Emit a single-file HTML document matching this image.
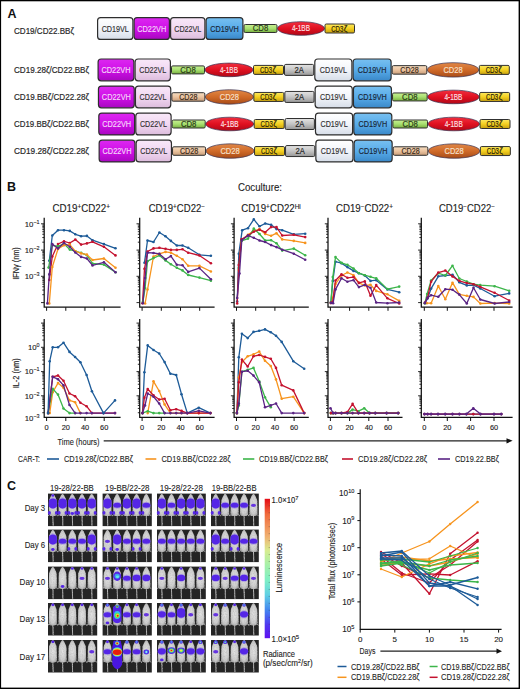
<!DOCTYPE html>
<html><head><meta charset="utf-8"><style>
html,body{margin:0;padding:0;background:#fff;}
body{width:520px;height:689px;overflow:hidden;}
svg{display:block;font-family:"Liberation Sans", sans-serif;}
</style></head><body>
<svg width="520" height="689" viewBox="0 0 520 689">
<defs><linearGradient id="gVL" x1="0" y1="0" x2="0" y2="1"><stop offset="0" stop-color="#ffffff"/><stop offset="0.5" stop-color="#f2f5fa"/><stop offset="1" stop-color="#d6dde8"/></linearGradient><linearGradient id="gVH22" x1="0" y1="0" x2="0" y2="1"><stop offset="0" stop-color="#dc28f0"/><stop offset="0.5" stop-color="#d010e8"/><stop offset="1" stop-color="#a808c0"/></linearGradient><linearGradient id="gVL22" x1="0" y1="0" x2="0" y2="1"><stop offset="0" stop-color="#f8e8f8"/><stop offset="0.5" stop-color="#f2d8f2"/><stop offset="1" stop-color="#dcbcdc"/></linearGradient><linearGradient id="gVH19" x1="0" y1="0" x2="0" y2="1"><stop offset="0" stop-color="#78c0f0"/><stop offset="0.5" stop-color="#58acea"/><stop offset="1" stop-color="#3a88c8"/></linearGradient><linearGradient id="gCD8" x1="0" y1="0" x2="0" y2="1"><stop offset="0" stop-color="#c8f094"/><stop offset="0.5" stop-color="#a8e070"/><stop offset="1" stop-color="#78b040"/></linearGradient><linearGradient id="gBB" x1="0" y1="0" x2="0" y2="1"><stop offset="0" stop-color="#f03040"/><stop offset="0.5" stop-color="#e01020"/><stop offset="1" stop-color="#b00818"/></linearGradient><linearGradient id="gZ" x1="0" y1="0" x2="0" y2="1"><stop offset="0" stop-color="#fce860"/><stop offset="0.5" stop-color="#f4d020"/><stop offset="1" stop-color="#c8a010"/></linearGradient><linearGradient id="g2A" x1="0" y1="0" x2="0" y2="1"><stop offset="0" stop-color="#e4e4e4"/><stop offset="0.5" stop-color="#c4c4c4"/><stop offset="1" stop-color="#969696"/></linearGradient><linearGradient id="gC28" x1="0" y1="0" x2="0" y2="1"><stop offset="0" stop-color="#f4dcc0"/><stop offset="0.5" stop-color="#ecc4a0"/><stop offset="1" stop-color="#c89c78"/></linearGradient><linearGradient id="gE28" x1="0" y1="0" x2="0" y2="1"><stop offset="0" stop-color="#e08848"/><stop offset="0.5" stop-color="#d06a28"/><stop offset="1" stop-color="#a84c18"/></linearGradient><linearGradient id="gCB" x1="0" y1="0" x2="0" y2="1"><stop offset="0" stop-color="#e40c16"/><stop offset="0.11" stop-color="#f06a3c"/><stop offset="0.27" stop-color="#f0b070"/><stop offset="0.37" stop-color="#d8ec90"/><stop offset="0.47" stop-color="#a8f0a8"/><stop offset="0.58" stop-color="#80f0c4"/><stop offset="0.69" stop-color="#60d0e4"/><stop offset="0.8" stop-color="#4484f0"/><stop offset="0.91" stop-color="#5034f0"/><stop offset="1" stop-color="#6010f0"/></linearGradient><radialGradient id="gM" cx="0.5" cy="0.5" r="0.65"><stop offset="0" stop-color="#e2e2e2"/><stop offset="0.6" stop-color="#cdcdcd"/><stop offset="1" stop-color="#808080"/></radialGradient><filter id="fb" x="-50%" y="-50%" width="200%" height="200%"><feGaussianBlur stdDeviation="0.5"/></filter><filter id="ftx" x="0" y="0" width="100%" height="100%"><feTurbulence type="fractalNoise" baseFrequency="0.9" numOctaves="2" seed="3" result="n"/><feColorMatrix in="n" type="matrix" values="0 0 0 0 0.55  0 0 0 0 0.55  0 0 0 0 0.55  0 0 0 -2.2 1.3" result="g"/><feComposite in="g" in2="SourceGraphic" operator="in" result="gi"/><feMerge><feMergeNode in="SourceGraphic"/><feMergeNode in="gi"/></feMerge><feGaussianBlur stdDeviation="0.4"/></filter><filter id="fb2" x="-50%" y="-50%" width="200%" height="200%"><feGaussianBlur stdDeviation="0.7"/></filter><linearGradient id="gBox" x1="0" y1="0" x2="0" y2="1"><stop offset="0" stop-color="#1c1c1c"/><stop offset="0.7" stop-color="#2e2e2e"/><stop offset="1" stop-color="#262626"/></linearGradient></defs>
<rect x="0" y="0" width="520" height="689" fill="#000"/>
<rect x="1.1" y="1.3" width="517.5" height="686.3" fill="#fff"/>
<text x="7.4" y="17.8" font-size="12" fill="#111" text-anchor="start" font-weight="bold" textLength="9" lengthAdjust="spacingAndGlyphs" >A</text>
<text x="14" y="33.6" font-size="9" fill="#2a2a2a" stroke="#2a2a2a" stroke-width="0.2" text-anchor="start" font-weight="normal" textLength="60" lengthAdjust="spacingAndGlyphs" >CD19/CD22.BBζ</text>
<rect x="97.6" y="17.6" width="35.3" height="21.8" rx="3" fill="url(#gVL)" stroke="#2e2e2e" stroke-width="1.2"/><text x="115.25" y="31.6" font-size="8.6" fill="#333" stroke="#333" stroke-width="0.16" text-anchor="middle" font-weight="normal" textLength="27.2" lengthAdjust="spacingAndGlyphs" >CD19VL</text>
<rect x="134.1" y="17.6" width="35.3" height="21.8" rx="3" fill="url(#gVH22)" stroke="#2e2e2e" stroke-width="1.2"/><text x="151.75" y="31.6" font-size="8.6" fill="#f4d8f8" stroke="#f4d8f8" stroke-width="0.16" text-anchor="middle" font-weight="normal" textLength="29" lengthAdjust="spacingAndGlyphs" >CD22VH</text>
<rect x="170.6" y="17.6" width="34.3" height="21.8" rx="3" fill="url(#gVL22)" stroke="#2e2e2e" stroke-width="1.2"/><text x="187.75" y="31.6" font-size="8.6" fill="#333" stroke="#333" stroke-width="0.16" text-anchor="middle" font-weight="normal" textLength="27" lengthAdjust="spacingAndGlyphs" >CD22VL</text>
<rect x="206.1" y="17.6" width="36.8" height="21.8" rx="3" fill="url(#gVH19)" stroke="#2e2e2e" stroke-width="1.2"/><text x="224.5" y="31.6" font-size="8.6" fill="#1a2636" stroke="#1a2636" stroke-width="0.16" text-anchor="middle" font-weight="normal" textLength="28.7" lengthAdjust="spacingAndGlyphs" >CD19VH</text>
<rect x="244.0" y="24.5" width="33.0" height="8.0" rx="1.3" fill="url(#gCD8)" stroke="#303030" stroke-width="1.0"/><text x="260.5" y="31.4" font-size="8.4" fill="#2a3a18" stroke="#2a3a18" stroke-width="0.16" text-anchor="middle" font-weight="normal" textLength="15.5" lengthAdjust="spacingAndGlyphs" >CD8</text>
<ellipse cx="301.0" cy="28.5" rx="23.5" ry="6.8" fill="url(#gBB)" stroke="#3a3050" stroke-width="0.7"/><text x="301.0" y="31.4" font-size="8.4" fill="#fbe0e4" stroke="#fbe0e4" stroke-width="0.16" text-anchor="middle" font-weight="normal" textLength="18" lengthAdjust="spacingAndGlyphs" >4-1BB</text>
<rect x="325.0" y="24.0" width="29.5" height="9.0" rx="1.3" fill="url(#gZ)" stroke="#303030" stroke-width="1.0"/><text x="331.15" y="31.9" font-size="8.4" fill="#2a2206" stroke="#2a2206" stroke-width="0.16" text-anchor="start" font-weight="normal" textLength="12.2" lengthAdjust="spacingAndGlyphs" >CD3</text><text x="343.75" y="31.9" font-size="8.4" fill="#2a2206" stroke="#2a2206" stroke-width="0.16" text-anchor="start" font-weight="normal" >ζ</text>
<text x="14" y="72.80000000000001" font-size="9" fill="#2a2a2a" stroke="#2a2a2a" stroke-width="0.2" text-anchor="start" font-weight="normal" textLength="75" lengthAdjust="spacingAndGlyphs" >CD19.28ζ/CD22.BBζ</text>
<rect x="98.1" y="59.00000000000001" width="35.8" height="21.8" rx="3" fill="url(#gVH22)" stroke="#2e2e2e" stroke-width="1.2"/><text x="116.0" y="73.0" font-size="8.6" fill="#f4d8f8" stroke="#f4d8f8" stroke-width="0.16" text-anchor="middle" font-weight="normal" textLength="29" lengthAdjust="spacingAndGlyphs" >CD22VH</text>
<rect x="135.1" y="59.00000000000001" width="35.3" height="21.8" rx="3" fill="url(#gVL22)" stroke="#2e2e2e" stroke-width="1.2"/><text x="152.75" y="73.0" font-size="8.6" fill="#333" stroke="#333" stroke-width="0.16" text-anchor="middle" font-weight="normal" textLength="27" lengthAdjust="spacingAndGlyphs" >CD22VL</text>
<rect x="171.5" y="65.9" width="33.0" height="8.0" rx="1.3" fill="url(#gCD8)" stroke="#303030" stroke-width="1.0"/><text x="188.0" y="72.8" font-size="8.4" fill="#2a3a18" stroke="#2a3a18" stroke-width="0.16" text-anchor="middle" font-weight="normal" textLength="15.5" lengthAdjust="spacingAndGlyphs" >CD8</text>
<ellipse cx="229.0" cy="69.9" rx="24.0" ry="6.8" fill="url(#gBB)" stroke="#3a3050" stroke-width="0.7"/><text x="229.0" y="72.8" font-size="8.4" fill="#fbe0e4" stroke="#fbe0e4" stroke-width="0.16" text-anchor="middle" font-weight="normal" textLength="18" lengthAdjust="spacingAndGlyphs" >4-1BB</text>
<rect x="253.5" y="65.4" width="30.0" height="9.0" rx="1.3" fill="url(#gZ)" stroke="#303030" stroke-width="1.0"/><text x="259.9" y="73.3" font-size="8.4" fill="#2a2206" stroke="#2a2206" stroke-width="0.16" text-anchor="start" font-weight="normal" textLength="12.2" lengthAdjust="spacingAndGlyphs" >CD3</text><text x="272.5" y="73.3" font-size="8.4" fill="#2a2206" stroke="#2a2206" stroke-width="0.16" text-anchor="start" font-weight="normal" >ζ</text>
<rect x="284.5" y="64.4" width="29.19999999999999" height="11.0" rx="1.3" fill="url(#g2A)" stroke="#303030" stroke-width="1.0"/><text x="299.1" y="72.8" font-size="8.4" fill="#222" stroke="#222" stroke-width="0.16" text-anchor="middle" font-weight="normal" textLength="9.3" lengthAdjust="spacingAndGlyphs" >2A</text>
<rect x="314.8" y="59.00000000000001" width="37.10000000000001" height="21.8" rx="3" fill="url(#gVL)" stroke="#2e2e2e" stroke-width="1.2"/><text x="333.35" y="73.0" font-size="8.6" fill="#333" stroke="#333" stroke-width="0.16" text-anchor="middle" font-weight="normal" textLength="27.2" lengthAdjust="spacingAndGlyphs" >CD19VL</text>
<rect x="353.1" y="59.00000000000001" width="37.999999999999986" height="21.8" rx="3" fill="url(#gVH19)" stroke="#2e2e2e" stroke-width="1.2"/><text x="372.1" y="73.0" font-size="8.6" fill="#1a2636" stroke="#1a2636" stroke-width="0.16" text-anchor="middle" font-weight="normal" textLength="28.7" lengthAdjust="spacingAndGlyphs" >CD19VH</text>
<rect x="392.2" y="65.65" width="34.60000000000002" height="8.5" rx="1.3" fill="url(#gC28)" stroke="#303030" stroke-width="1.0"/><text x="409.5" y="72.8" font-size="8.4" fill="#3a2a1a" stroke="#3a2a1a" stroke-width="0.16" text-anchor="middle" font-weight="normal" textLength="18.3" lengthAdjust="spacingAndGlyphs" >CD28</text>
<ellipse cx="453.05" cy="69.9" rx="25.75" ry="7.2" fill="url(#gE28)" stroke="#3a3050" stroke-width="0.7"/><text x="453.05" y="72.8" font-size="8.4" fill="#f6e0cc" stroke="#f6e0cc" stroke-width="0.16" text-anchor="middle" font-weight="normal" textLength="19.3" lengthAdjust="spacingAndGlyphs" >CD28</text>
<rect x="479.3" y="65.4" width="30.0" height="9.0" rx="1.3" fill="url(#gZ)" stroke="#303030" stroke-width="1.0"/><text x="485.7" y="73.3" font-size="8.4" fill="#2a2206" stroke="#2a2206" stroke-width="0.16" text-anchor="start" font-weight="normal" textLength="12.2" lengthAdjust="spacingAndGlyphs" >CD3</text><text x="498.3" y="73.3" font-size="8.4" fill="#2a2206" stroke="#2a2206" stroke-width="0.16" text-anchor="start" font-weight="normal" >ζ</text>
<text x="14" y="99.85000000000001" font-size="9" fill="#2a2a2a" stroke="#2a2a2a" stroke-width="0.2" text-anchor="start" font-weight="normal" textLength="75" lengthAdjust="spacingAndGlyphs" >CD19.BBζ/CD22.28ζ</text>
<rect x="98.44999999999999" y="86.05" width="35.8" height="21.8" rx="3" fill="url(#gVH22)" stroke="#2e2e2e" stroke-width="1.2"/><text x="116.35" y="100.05" font-size="8.6" fill="#f4d8f8" stroke="#f4d8f8" stroke-width="0.16" text-anchor="middle" font-weight="normal" textLength="29" lengthAdjust="spacingAndGlyphs" >CD22VH</text>
<rect x="135.45" y="86.05" width="35.3" height="21.8" rx="3" fill="url(#gVL22)" stroke="#2e2e2e" stroke-width="1.2"/><text x="153.1" y="100.05" font-size="8.6" fill="#333" stroke="#333" stroke-width="0.16" text-anchor="middle" font-weight="normal" textLength="27" lengthAdjust="spacingAndGlyphs" >CD22VL</text>
<rect x="171.85" y="92.7" width="33.0" height="8.5" rx="1.3" fill="url(#gC28)" stroke="#303030" stroke-width="1.0"/><text x="188.35" y="99.85" font-size="8.4" fill="#3a2a1a" stroke="#3a2a1a" stroke-width="0.16" text-anchor="middle" font-weight="normal" textLength="18.3" lengthAdjust="spacingAndGlyphs" >CD28</text>
<ellipse cx="229.35" cy="96.95" rx="24.0" ry="7.2" fill="url(#gE28)" stroke="#3a3050" stroke-width="0.7"/><text x="229.35" y="99.85" font-size="8.4" fill="#f6e0cc" stroke="#f6e0cc" stroke-width="0.16" text-anchor="middle" font-weight="normal" textLength="19.3" lengthAdjust="spacingAndGlyphs" >CD28</text>
<rect x="253.85" y="92.45" width="30.00000000000003" height="9.0" rx="1.3" fill="url(#gZ)" stroke="#303030" stroke-width="1.0"/><text x="260.25" y="100.35" font-size="8.4" fill="#2a2206" stroke="#2a2206" stroke-width="0.16" text-anchor="start" font-weight="normal" textLength="12.2" lengthAdjust="spacingAndGlyphs" >CD3</text><text x="272.85" y="100.35" font-size="8.4" fill="#2a2206" stroke="#2a2206" stroke-width="0.16" text-anchor="start" font-weight="normal" >ζ</text>
<rect x="284.85" y="91.45" width="29.19999999999999" height="11.0" rx="1.3" fill="url(#g2A)" stroke="#303030" stroke-width="1.0"/><text x="299.45" y="99.85" font-size="8.4" fill="#222" stroke="#222" stroke-width="0.16" text-anchor="middle" font-weight="normal" textLength="9.3" lengthAdjust="spacingAndGlyphs" >2A</text>
<rect x="315.15000000000003" y="86.05" width="37.10000000000001" height="21.8" rx="3" fill="url(#gVL)" stroke="#2e2e2e" stroke-width="1.2"/><text x="333.7" y="100.05" font-size="8.6" fill="#333" stroke="#333" stroke-width="0.16" text-anchor="middle" font-weight="normal" textLength="27.2" lengthAdjust="spacingAndGlyphs" >CD19VL</text>
<rect x="353.45000000000005" y="86.05" width="37.999999999999986" height="21.8" rx="3" fill="url(#gVH19)" stroke="#2e2e2e" stroke-width="1.2"/><text x="372.45" y="100.05" font-size="8.6" fill="#1a2636" stroke="#1a2636" stroke-width="0.16" text-anchor="middle" font-weight="normal" textLength="28.7" lengthAdjust="spacingAndGlyphs" >CD19VH</text>
<rect x="392.55" y="92.95" width="34.60000000000002" height="8.0" rx="1.3" fill="url(#gCD8)" stroke="#303030" stroke-width="1.0"/><text x="409.85" y="99.85" font-size="8.4" fill="#2a3a18" stroke="#2a3a18" stroke-width="0.16" text-anchor="middle" font-weight="normal" textLength="15.5" lengthAdjust="spacingAndGlyphs" >CD8</text>
<ellipse cx="453.40000000000003" cy="96.95" rx="25.75" ry="6.8" fill="url(#gBB)" stroke="#3a3050" stroke-width="0.7"/><text x="453.4" y="99.85" font-size="8.4" fill="#fbe0e4" stroke="#fbe0e4" stroke-width="0.16" text-anchor="middle" font-weight="normal" textLength="18" lengthAdjust="spacingAndGlyphs" >4-1BB</text>
<rect x="479.65000000000003" y="92.45" width="30.0" height="9.0" rx="1.3" fill="url(#gZ)" stroke="#303030" stroke-width="1.0"/><text x="486.05" y="100.35" font-size="8.4" fill="#2a2206" stroke="#2a2206" stroke-width="0.16" text-anchor="start" font-weight="normal" textLength="12.2" lengthAdjust="spacingAndGlyphs" >CD3</text><text x="498.65" y="100.35" font-size="8.4" fill="#2a2206" stroke="#2a2206" stroke-width="0.16" text-anchor="start" font-weight="normal" >ζ</text>
<text x="14" y="126.9" font-size="9" fill="#2a2a2a" stroke="#2a2a2a" stroke-width="0.2" text-anchor="start" font-weight="normal" textLength="75" lengthAdjust="spacingAndGlyphs" >CD19.BBζ/CD22.BBζ</text>
<rect x="98.8" y="113.1" width="35.79999999999998" height="21.8" rx="3" fill="url(#gVH22)" stroke="#2e2e2e" stroke-width="1.2"/><text x="116.7" y="127.1" font-size="8.6" fill="#f4d8f8" stroke="#f4d8f8" stroke-width="0.16" text-anchor="middle" font-weight="normal" textLength="29" lengthAdjust="spacingAndGlyphs" >CD22VH</text>
<rect x="135.79999999999998" y="113.1" width="35.3" height="21.8" rx="3" fill="url(#gVL22)" stroke="#2e2e2e" stroke-width="1.2"/><text x="153.45" y="127.1" font-size="8.6" fill="#333" stroke="#333" stroke-width="0.16" text-anchor="middle" font-weight="normal" textLength="27" lengthAdjust="spacingAndGlyphs" >CD22VL</text>
<rect x="172.2" y="120.0" width="33.0" height="8.0" rx="1.3" fill="url(#gCD8)" stroke="#303030" stroke-width="1.0"/><text x="188.7" y="126.9" font-size="8.4" fill="#2a3a18" stroke="#2a3a18" stroke-width="0.16" text-anchor="middle" font-weight="normal" textLength="15.5" lengthAdjust="spacingAndGlyphs" >CD8</text>
<ellipse cx="229.7" cy="124.0" rx="24.0" ry="6.8" fill="url(#gBB)" stroke="#3a3050" stroke-width="0.7"/><text x="229.7" y="126.9" font-size="8.4" fill="#fbe0e4" stroke="#fbe0e4" stroke-width="0.16" text-anchor="middle" font-weight="normal" textLength="18" lengthAdjust="spacingAndGlyphs" >4-1BB</text>
<rect x="254.2" y="119.5" width="30.0" height="9.0" rx="1.3" fill="url(#gZ)" stroke="#303030" stroke-width="1.0"/><text x="260.6" y="127.4" font-size="8.4" fill="#2a2206" stroke="#2a2206" stroke-width="0.16" text-anchor="start" font-weight="normal" textLength="12.2" lengthAdjust="spacingAndGlyphs" >CD3</text><text x="273.2" y="127.4" font-size="8.4" fill="#2a2206" stroke="#2a2206" stroke-width="0.16" text-anchor="start" font-weight="normal" >ζ</text>
<rect x="285.2" y="118.5" width="29.19999999999999" height="11.0" rx="1.3" fill="url(#g2A)" stroke="#303030" stroke-width="1.0"/><text x="299.8" y="126.9" font-size="8.4" fill="#222" stroke="#222" stroke-width="0.16" text-anchor="middle" font-weight="normal" textLength="9.3" lengthAdjust="spacingAndGlyphs" >2A</text>
<rect x="315.5" y="113.1" width="37.10000000000001" height="21.8" rx="3" fill="url(#gVL)" stroke="#2e2e2e" stroke-width="1.2"/><text x="334.05" y="127.1" font-size="8.6" fill="#333" stroke="#333" stroke-width="0.16" text-anchor="middle" font-weight="normal" textLength="27.2" lengthAdjust="spacingAndGlyphs" >CD19VL</text>
<rect x="353.8" y="113.1" width="37.999999999999986" height="21.8" rx="3" fill="url(#gVH19)" stroke="#2e2e2e" stroke-width="1.2"/><text x="372.8" y="127.1" font-size="8.6" fill="#1a2636" stroke="#1a2636" stroke-width="0.16" text-anchor="middle" font-weight="normal" textLength="28.7" lengthAdjust="spacingAndGlyphs" >CD19VH</text>
<rect x="392.9" y="120.0" width="34.60000000000002" height="8.0" rx="1.3" fill="url(#gCD8)" stroke="#303030" stroke-width="1.0"/><text x="410.2" y="126.9" font-size="8.4" fill="#2a3a18" stroke="#2a3a18" stroke-width="0.16" text-anchor="middle" font-weight="normal" textLength="15.5" lengthAdjust="spacingAndGlyphs" >CD8</text>
<ellipse cx="453.75" cy="124.0" rx="25.75" ry="6.8" fill="url(#gBB)" stroke="#3a3050" stroke-width="0.7"/><text x="453.75" y="126.9" font-size="8.4" fill="#fbe0e4" stroke="#fbe0e4" stroke-width="0.16" text-anchor="middle" font-weight="normal" textLength="18" lengthAdjust="spacingAndGlyphs" >4-1BB</text>
<rect x="480.0" y="119.5" width="30.0" height="9.0" rx="1.3" fill="url(#gZ)" stroke="#303030" stroke-width="1.0"/><text x="486.4" y="127.4" font-size="8.4" fill="#2a2206" stroke="#2a2206" stroke-width="0.16" text-anchor="start" font-weight="normal" textLength="12.2" lengthAdjust="spacingAndGlyphs" >CD3</text><text x="499.0" y="127.4" font-size="8.4" fill="#2a2206" stroke="#2a2206" stroke-width="0.16" text-anchor="start" font-weight="normal" >ζ</text>
<text x="14" y="153.95000000000002" font-size="9" fill="#2a2a2a" stroke="#2a2a2a" stroke-width="0.2" text-anchor="start" font-weight="normal" textLength="75" lengthAdjust="spacingAndGlyphs" >CD19.28ζ/CD22.28ζ</text>
<rect x="99.14999999999999" y="140.15" width="35.80000000000001" height="21.8" rx="3" fill="url(#gVH22)" stroke="#2e2e2e" stroke-width="1.2"/><text x="117.05" y="154.15" font-size="8.6" fill="#f4d8f8" stroke="#f4d8f8" stroke-width="0.16" text-anchor="middle" font-weight="normal" textLength="29" lengthAdjust="spacingAndGlyphs" >CD22VH</text>
<rect x="136.15" y="140.15" width="35.3" height="21.8" rx="3" fill="url(#gVL22)" stroke="#2e2e2e" stroke-width="1.2"/><text x="153.8" y="154.15" font-size="8.6" fill="#333" stroke="#333" stroke-width="0.16" text-anchor="middle" font-weight="normal" textLength="27" lengthAdjust="spacingAndGlyphs" >CD22VL</text>
<rect x="172.55" y="146.8" width="33.0" height="8.5" rx="1.3" fill="url(#gC28)" stroke="#303030" stroke-width="1.0"/><text x="189.05" y="153.95" font-size="8.4" fill="#3a2a1a" stroke="#3a2a1a" stroke-width="0.16" text-anchor="middle" font-weight="normal" textLength="18.3" lengthAdjust="spacingAndGlyphs" >CD28</text>
<ellipse cx="230.05" cy="151.05" rx="24.0" ry="7.2" fill="url(#gE28)" stroke="#3a3050" stroke-width="0.7"/><text x="230.05" y="153.95" font-size="8.4" fill="#f6e0cc" stroke="#f6e0cc" stroke-width="0.16" text-anchor="middle" font-weight="normal" textLength="19.3" lengthAdjust="spacingAndGlyphs" >CD28</text>
<rect x="254.55" y="146.55" width="30.0" height="9.0" rx="1.3" fill="url(#gZ)" stroke="#303030" stroke-width="1.0"/><text x="260.95" y="154.45" font-size="8.4" fill="#2a2206" stroke="#2a2206" stroke-width="0.16" text-anchor="start" font-weight="normal" textLength="12.2" lengthAdjust="spacingAndGlyphs" >CD3</text><text x="273.55" y="154.45" font-size="8.4" fill="#2a2206" stroke="#2a2206" stroke-width="0.16" text-anchor="start" font-weight="normal" >ζ</text>
<rect x="285.55" y="145.55" width="29.19999999999999" height="11.0" rx="1.3" fill="url(#g2A)" stroke="#303030" stroke-width="1.0"/><text x="300.15" y="153.95" font-size="8.4" fill="#222" stroke="#222" stroke-width="0.16" text-anchor="middle" font-weight="normal" textLength="9.3" lengthAdjust="spacingAndGlyphs" >2A</text>
<rect x="315.85" y="140.15" width="37.10000000000001" height="21.8" rx="3" fill="url(#gVL)" stroke="#2e2e2e" stroke-width="1.2"/><text x="334.4" y="154.15" font-size="8.6" fill="#333" stroke="#333" stroke-width="0.16" text-anchor="middle" font-weight="normal" textLength="27.2" lengthAdjust="spacingAndGlyphs" >CD19VL</text>
<rect x="354.15000000000003" y="140.15" width="37.999999999999986" height="21.8" rx="3" fill="url(#gVH19)" stroke="#2e2e2e" stroke-width="1.2"/><text x="373.15" y="154.15" font-size="8.6" fill="#1a2636" stroke="#1a2636" stroke-width="0.16" text-anchor="middle" font-weight="normal" textLength="28.7" lengthAdjust="spacingAndGlyphs" >CD19VH</text>
<rect x="393.25" y="146.8" width="34.60000000000002" height="8.5" rx="1.3" fill="url(#gC28)" stroke="#303030" stroke-width="1.0"/><text x="410.55" y="153.95" font-size="8.4" fill="#3a2a1a" stroke="#3a2a1a" stroke-width="0.16" text-anchor="middle" font-weight="normal" textLength="18.3" lengthAdjust="spacingAndGlyphs" >CD28</text>
<ellipse cx="454.1" cy="151.05" rx="25.75" ry="7.2" fill="url(#gE28)" stroke="#3a3050" stroke-width="0.7"/><text x="454.1" y="153.95" font-size="8.4" fill="#f6e0cc" stroke="#f6e0cc" stroke-width="0.16" text-anchor="middle" font-weight="normal" textLength="19.3" lengthAdjust="spacingAndGlyphs" >CD28</text>
<rect x="480.35" y="146.55" width="30.0" height="9.0" rx="1.3" fill="url(#gZ)" stroke="#303030" stroke-width="1.0"/><text x="486.75" y="154.45" font-size="8.4" fill="#2a2206" stroke="#2a2206" stroke-width="0.16" text-anchor="start" font-weight="normal" textLength="12.2" lengthAdjust="spacingAndGlyphs" >CD3</text><text x="499.35" y="154.45" font-size="8.4" fill="#2a2206" stroke="#2a2206" stroke-width="0.16" text-anchor="start" font-weight="normal" >ζ</text>
<text x="7" y="190.8" font-size="12.5" fill="#111" text-anchor="start" font-weight="bold" >B</text>
<text x="238" y="191.2" font-size="10" fill="#222" stroke="#222" stroke-width="0.1" text-anchor="start" font-weight="normal" textLength="44" lengthAdjust="spacingAndGlyphs" >Coculture:</text>
<text x="52.5" y="211.6" font-size="10.2" fill="#222" stroke="#222" stroke-width="0.12" textLength="57.5" lengthAdjust="spacingAndGlyphs"><tspan font-size="10.2">CD19</tspan><tspan font-size="6.8" dy="-3.1">+</tspan><tspan font-size="10.2" dy="3.1">CD22</tspan><tspan font-size="6.8" dy="-3.1">+</tspan></text>
<text x="148.7" y="211.6" font-size="10.2" fill="#222" stroke="#222" stroke-width="0.12" textLength="56.3" lengthAdjust="spacingAndGlyphs"><tspan font-size="10.2">CD19</tspan><tspan font-size="6.8" dy="-3.1">+</tspan><tspan font-size="10.2" dy="3.1">CD22</tspan><tspan font-size="6.8" dy="-3.1">−</tspan></text>
<text x="241.3" y="211.6" font-size="10.2" fill="#222" stroke="#222" stroke-width="0.12" textLength="59.5" lengthAdjust="spacingAndGlyphs"><tspan font-size="10.2">CD19</tspan><tspan font-size="6.8" dy="-3.1">+</tspan><tspan font-size="10.2" dy="3.1">CD22</tspan><tspan font-size="6.8" dy="-3.1">Hi</tspan></text>
<text x="336" y="211.6" font-size="10.2" fill="#222" stroke="#222" stroke-width="0.12" textLength="57" lengthAdjust="spacingAndGlyphs"><tspan font-size="10.2">CD19</tspan><tspan font-size="6.8" dy="-3.1">−</tspan><tspan font-size="10.2" dy="3.1">CD22</tspan><tspan font-size="6.8" dy="-3.1">+</tspan></text>
<text x="439" y="211.6" font-size="10.2" fill="#222" stroke="#222" stroke-width="0.12" textLength="56" lengthAdjust="spacingAndGlyphs"><tspan font-size="10.2">CD19</tspan><tspan font-size="6.8" dy="-3.1">−</tspan><tspan font-size="10.2" dy="3.1">CD22</tspan><tspan font-size="6.8" dy="-3.1">−</tspan></text>
<path d="M44.2 217.8 V307.2 H120.6" fill="none" stroke="#111" stroke-width="1.25"/><path d="M41.0 223.80 H44.2M41.0 250.10 H44.2M41.0 276.30 H44.2M41.0 302.60 H44.2M42.300000000000004 242.18 H44.2M42.300000000000004 237.55 H44.2M42.300000000000004 234.27 H44.2M42.300000000000004 231.72 H44.2M42.300000000000004 229.63 H44.2M42.300000000000004 227.87 H44.2M42.300000000000004 226.35 H44.2M42.300000000000004 225.00 H44.2M42.300000000000004 268.41 H44.2M42.300000000000004 263.80 H44.2M42.300000000000004 260.53 H44.2M42.300000000000004 257.99 H44.2M42.300000000000004 255.91 H44.2M42.300000000000004 254.16 H44.2M42.300000000000004 252.64 H44.2M42.300000000000004 251.30 H44.2M42.300000000000004 294.68 H44.2M42.300000000000004 290.05 H44.2M42.300000000000004 286.77 H44.2M42.300000000000004 284.22 H44.2M42.300000000000004 282.13 H44.2M42.300000000000004 280.37 H44.2M42.300000000000004 278.85 H44.2M42.300000000000004 277.50 H44.2" stroke="#111" stroke-width="0.9"/><path d="M46.60 307.2 V310.8M65.80 307.2 V310.8M85.00 307.2 V310.8M104.20 307.2 V310.8" stroke="#111" stroke-width="1"/>
<path d="M44.2 319.0 V417.4 H120.6" fill="none" stroke="#111" stroke-width="1.25"/><path d="M41.0 323.10 H44.2M41.0 347.30 H44.2M41.0 371.60 H44.2M41.0 395.80 H44.2M42.300000000000004 340.02 H44.2M42.300000000000004 335.75 H44.2M42.300000000000004 332.73 H44.2M42.300000000000004 330.38 H44.2M42.300000000000004 328.47 H44.2M42.300000000000004 326.85 H44.2M42.300000000000004 325.45 H44.2M42.300000000000004 324.21 H44.2M42.300000000000004 364.28 H44.2M42.300000000000004 360.01 H44.2M42.300000000000004 356.97 H44.2M42.300000000000004 354.62 H44.2M42.300000000000004 352.69 H44.2M42.300000000000004 351.06 H44.2M42.300000000000004 349.65 H44.2M42.300000000000004 348.41 H44.2M42.300000000000004 388.52 H44.2M42.300000000000004 384.25 H44.2M42.300000000000004 381.23 H44.2M42.300000000000004 378.88 H44.2M42.300000000000004 376.97 H44.2M42.300000000000004 375.35 H44.2M42.300000000000004 373.95 H44.2M42.300000000000004 372.71 H44.2M42.300000000000004 412.72 H44.2M42.300000000000004 408.45 H44.2M42.300000000000004 405.43 H44.2M42.300000000000004 403.08 H44.2M42.300000000000004 401.17 H44.2M42.300000000000004 399.55 H44.2M42.300000000000004 398.15 H44.2M42.300000000000004 396.91 H44.2" stroke="#111" stroke-width="0.9"/><path d="M46.60 417.4 V421.0M65.80 417.4 V421.0M85.00 417.4 V421.0M104.20 417.4 V421.0" stroke="#111" stroke-width="1"/>
<path d="M139.7 217.8 V307.2 H214.6" fill="none" stroke="#111" stroke-width="1.25"/><path d="M136.5 223.80 H139.7M136.5 250.10 H139.7M136.5 276.30 H139.7M136.5 302.60 H139.7M137.79999999999998 242.18 H139.7M137.79999999999998 237.55 H139.7M137.79999999999998 234.27 H139.7M137.79999999999998 231.72 H139.7M137.79999999999998 229.63 H139.7M137.79999999999998 227.87 H139.7M137.79999999999998 226.35 H139.7M137.79999999999998 225.00 H139.7M137.79999999999998 268.41 H139.7M137.79999999999998 263.80 H139.7M137.79999999999998 260.53 H139.7M137.79999999999998 257.99 H139.7M137.79999999999998 255.91 H139.7M137.79999999999998 254.16 H139.7M137.79999999999998 252.64 H139.7M137.79999999999998 251.30 H139.7M137.79999999999998 294.68 H139.7M137.79999999999998 290.05 H139.7M137.79999999999998 286.77 H139.7M137.79999999999998 284.22 H139.7M137.79999999999998 282.13 H139.7M137.79999999999998 280.37 H139.7M137.79999999999998 278.85 H139.7M137.79999999999998 277.50 H139.7" stroke="#111" stroke-width="0.9"/><path d="M142.10 307.2 V310.8M161.30 307.2 V310.8M180.50 307.2 V310.8M199.70 307.2 V310.8" stroke="#111" stroke-width="1"/>
<path d="M139.7 319.0 V417.4 H214.6" fill="none" stroke="#111" stroke-width="1.25"/><path d="M136.5 323.10 H139.7M136.5 347.30 H139.7M136.5 371.60 H139.7M136.5 395.80 H139.7M137.79999999999998 340.02 H139.7M137.79999999999998 335.75 H139.7M137.79999999999998 332.73 H139.7M137.79999999999998 330.38 H139.7M137.79999999999998 328.47 H139.7M137.79999999999998 326.85 H139.7M137.79999999999998 325.45 H139.7M137.79999999999998 324.21 H139.7M137.79999999999998 364.28 H139.7M137.79999999999998 360.01 H139.7M137.79999999999998 356.97 H139.7M137.79999999999998 354.62 H139.7M137.79999999999998 352.69 H139.7M137.79999999999998 351.06 H139.7M137.79999999999998 349.65 H139.7M137.79999999999998 348.41 H139.7M137.79999999999998 388.52 H139.7M137.79999999999998 384.25 H139.7M137.79999999999998 381.23 H139.7M137.79999999999998 378.88 H139.7M137.79999999999998 376.97 H139.7M137.79999999999998 375.35 H139.7M137.79999999999998 373.95 H139.7M137.79999999999998 372.71 H139.7M137.79999999999998 412.72 H139.7M137.79999999999998 408.45 H139.7M137.79999999999998 405.43 H139.7M137.79999999999998 403.08 H139.7M137.79999999999998 401.17 H139.7M137.79999999999998 399.55 H139.7M137.79999999999998 398.15 H139.7M137.79999999999998 396.91 H139.7" stroke="#111" stroke-width="0.9"/><path d="M142.10 417.4 V421.0M161.30 417.4 V421.0M180.50 417.4 V421.0M199.70 417.4 V421.0" stroke="#111" stroke-width="1"/>
<path d="M234.1 217.8 V307.2 H308.8" fill="none" stroke="#111" stroke-width="1.25"/><path d="M230.9 223.80 H234.1M230.9 250.10 H234.1M230.9 276.30 H234.1M230.9 302.60 H234.1M232.2 242.18 H234.1M232.2 237.55 H234.1M232.2 234.27 H234.1M232.2 231.72 H234.1M232.2 229.63 H234.1M232.2 227.87 H234.1M232.2 226.35 H234.1M232.2 225.00 H234.1M232.2 268.41 H234.1M232.2 263.80 H234.1M232.2 260.53 H234.1M232.2 257.99 H234.1M232.2 255.91 H234.1M232.2 254.16 H234.1M232.2 252.64 H234.1M232.2 251.30 H234.1M232.2 294.68 H234.1M232.2 290.05 H234.1M232.2 286.77 H234.1M232.2 284.22 H234.1M232.2 282.13 H234.1M232.2 280.37 H234.1M232.2 278.85 H234.1M232.2 277.50 H234.1" stroke="#111" stroke-width="0.9"/><path d="M236.50 307.2 V310.8M255.70 307.2 V310.8M274.90 307.2 V310.8M294.10 307.2 V310.8" stroke="#111" stroke-width="1"/>
<path d="M234.1 319.0 V417.4 H308.8" fill="none" stroke="#111" stroke-width="1.25"/><path d="M230.9 323.10 H234.1M230.9 347.30 H234.1M230.9 371.60 H234.1M230.9 395.80 H234.1M232.2 340.02 H234.1M232.2 335.75 H234.1M232.2 332.73 H234.1M232.2 330.38 H234.1M232.2 328.47 H234.1M232.2 326.85 H234.1M232.2 325.45 H234.1M232.2 324.21 H234.1M232.2 364.28 H234.1M232.2 360.01 H234.1M232.2 356.97 H234.1M232.2 354.62 H234.1M232.2 352.69 H234.1M232.2 351.06 H234.1M232.2 349.65 H234.1M232.2 348.41 H234.1M232.2 388.52 H234.1M232.2 384.25 H234.1M232.2 381.23 H234.1M232.2 378.88 H234.1M232.2 376.97 H234.1M232.2 375.35 H234.1M232.2 373.95 H234.1M232.2 372.71 H234.1M232.2 412.72 H234.1M232.2 408.45 H234.1M232.2 405.43 H234.1M232.2 403.08 H234.1M232.2 401.17 H234.1M232.2 399.55 H234.1M232.2 398.15 H234.1M232.2 396.91 H234.1" stroke="#111" stroke-width="0.9"/><path d="M236.50 417.4 V421.0M255.70 417.4 V421.0M274.90 417.4 V421.0M294.10 417.4 V421.0" stroke="#111" stroke-width="1"/>
<path d="M328.0 217.8 V307.2 H402.5" fill="none" stroke="#111" stroke-width="1.25"/><path d="M324.8 223.80 H328.0M324.8 250.10 H328.0M324.8 276.30 H328.0M324.8 302.60 H328.0M326.1 242.18 H328.0M326.1 237.55 H328.0M326.1 234.27 H328.0M326.1 231.72 H328.0M326.1 229.63 H328.0M326.1 227.87 H328.0M326.1 226.35 H328.0M326.1 225.00 H328.0M326.1 268.41 H328.0M326.1 263.80 H328.0M326.1 260.53 H328.0M326.1 257.99 H328.0M326.1 255.91 H328.0M326.1 254.16 H328.0M326.1 252.64 H328.0M326.1 251.30 H328.0M326.1 294.68 H328.0M326.1 290.05 H328.0M326.1 286.77 H328.0M326.1 284.22 H328.0M326.1 282.13 H328.0M326.1 280.37 H328.0M326.1 278.85 H328.0M326.1 277.50 H328.0" stroke="#111" stroke-width="0.9"/><path d="M330.40 307.2 V310.8M349.60 307.2 V310.8M368.80 307.2 V310.8M388.00 307.2 V310.8" stroke="#111" stroke-width="1"/>
<path d="M328.0 319.0 V417.4 H402.5" fill="none" stroke="#111" stroke-width="1.25"/><path d="M324.8 323.10 H328.0M324.8 347.30 H328.0M324.8 371.60 H328.0M324.8 395.80 H328.0M326.1 340.02 H328.0M326.1 335.75 H328.0M326.1 332.73 H328.0M326.1 330.38 H328.0M326.1 328.47 H328.0M326.1 326.85 H328.0M326.1 325.45 H328.0M326.1 324.21 H328.0M326.1 364.28 H328.0M326.1 360.01 H328.0M326.1 356.97 H328.0M326.1 354.62 H328.0M326.1 352.69 H328.0M326.1 351.06 H328.0M326.1 349.65 H328.0M326.1 348.41 H328.0M326.1 388.52 H328.0M326.1 384.25 H328.0M326.1 381.23 H328.0M326.1 378.88 H328.0M326.1 376.97 H328.0M326.1 375.35 H328.0M326.1 373.95 H328.0M326.1 372.71 H328.0M326.1 412.72 H328.0M326.1 408.45 H328.0M326.1 405.43 H328.0M326.1 403.08 H328.0M326.1 401.17 H328.0M326.1 399.55 H328.0M326.1 398.15 H328.0M326.1 396.91 H328.0" stroke="#111" stroke-width="0.9"/><path d="M330.40 417.4 V421.0M349.60 417.4 V421.0M368.80 417.4 V421.0M388.00 417.4 V421.0" stroke="#111" stroke-width="1"/>
<path d="M421.3 217.8 V307.2 H512.6" fill="none" stroke="#111" stroke-width="1.25"/><path d="M418.1 223.80 H421.3M418.1 250.10 H421.3M418.1 276.30 H421.3M418.1 302.60 H421.3M419.40000000000003 242.18 H421.3M419.40000000000003 237.55 H421.3M419.40000000000003 234.27 H421.3M419.40000000000003 231.72 H421.3M419.40000000000003 229.63 H421.3M419.40000000000003 227.87 H421.3M419.40000000000003 226.35 H421.3M419.40000000000003 225.00 H421.3M419.40000000000003 268.41 H421.3M419.40000000000003 263.80 H421.3M419.40000000000003 260.53 H421.3M419.40000000000003 257.99 H421.3M419.40000000000003 255.91 H421.3M419.40000000000003 254.16 H421.3M419.40000000000003 252.64 H421.3M419.40000000000003 251.30 H421.3M419.40000000000003 294.68 H421.3M419.40000000000003 290.05 H421.3M419.40000000000003 286.77 H421.3M419.40000000000003 284.22 H421.3M419.40000000000003 282.13 H421.3M419.40000000000003 280.37 H421.3M419.40000000000003 278.85 H421.3M419.40000000000003 277.50 H421.3" stroke="#111" stroke-width="0.9"/><path d="M424.30 307.2 V310.8M447.30 307.2 V310.8M470.60 307.2 V310.8M494.00 307.2 V310.8" stroke="#111" stroke-width="1"/>
<path d="M421.3 319.0 V417.4 H512.6" fill="none" stroke="#111" stroke-width="1.25"/><path d="M418.1 323.10 H421.3M418.1 347.30 H421.3M418.1 371.60 H421.3M418.1 395.80 H421.3M419.40000000000003 340.02 H421.3M419.40000000000003 335.75 H421.3M419.40000000000003 332.73 H421.3M419.40000000000003 330.38 H421.3M419.40000000000003 328.47 H421.3M419.40000000000003 326.85 H421.3M419.40000000000003 325.45 H421.3M419.40000000000003 324.21 H421.3M419.40000000000003 364.28 H421.3M419.40000000000003 360.01 H421.3M419.40000000000003 356.97 H421.3M419.40000000000003 354.62 H421.3M419.40000000000003 352.69 H421.3M419.40000000000003 351.06 H421.3M419.40000000000003 349.65 H421.3M419.40000000000003 348.41 H421.3M419.40000000000003 388.52 H421.3M419.40000000000003 384.25 H421.3M419.40000000000003 381.23 H421.3M419.40000000000003 378.88 H421.3M419.40000000000003 376.97 H421.3M419.40000000000003 375.35 H421.3M419.40000000000003 373.95 H421.3M419.40000000000003 372.71 H421.3M419.40000000000003 412.72 H421.3M419.40000000000003 408.45 H421.3M419.40000000000003 405.43 H421.3M419.40000000000003 403.08 H421.3M419.40000000000003 401.17 H421.3M419.40000000000003 399.55 H421.3M419.40000000000003 398.15 H421.3M419.40000000000003 396.91 H421.3" stroke="#111" stroke-width="0.9"/><path d="M424.30 417.4 V421.0M447.30 417.4 V421.0M470.60 417.4 V421.0M494.00 417.4 V421.0" stroke="#111" stroke-width="1"/>
<text x="39.6" y="226.60" font-size="7.8" fill="#222" stroke="#222" stroke-width="0.12" text-anchor="end">10<tspan font-size="5.4" dy="-3">−1</tspan></text>
<text x="39.6" y="252.90" font-size="7.8" fill="#222" stroke="#222" stroke-width="0.12" text-anchor="end">10<tspan font-size="5.4" dy="-3">−2</tspan></text>
<text x="39.6" y="279.10" font-size="7.8" fill="#222" stroke="#222" stroke-width="0.12" text-anchor="end">10<tspan font-size="5.4" dy="-3">−3</tspan></text>
<text x="39.6" y="350.10" font-size="7.8" fill="#222" stroke="#222" stroke-width="0.12" text-anchor="end">10<tspan font-size="5.4" dy="-3">0</tspan></text>
<text x="39.6" y="374.40" font-size="7.8" fill="#222" stroke="#222" stroke-width="0.12" text-anchor="end">10<tspan font-size="5.4" dy="-3">−1</tspan></text>
<text x="39.6" y="398.60" font-size="7.8" fill="#222" stroke="#222" stroke-width="0.12" text-anchor="end">10<tspan font-size="5.4" dy="-3">−2</tspan></text>
<text x="39.6" y="421.40" font-size="7.8" fill="#222" stroke="#222" stroke-width="0.12" text-anchor="end">10<tspan font-size="5.4" dy="-3">−3</tspan></text>
<text transform="translate(19.3 263.5) rotate(-90)" x="0" y="0" font-size="8.6" fill="#222" stroke="#222" stroke-width="0.12" text-anchor="middle" textLength="32.5" lengthAdjust="spacingAndGlyphs">IFNγ (nm)</text>
<text transform="translate(19.3 373.3) rotate(-90)" x="0" y="0" font-size="8.6" fill="#222" stroke="#222" stroke-width="0.12" text-anchor="middle" textLength="30" lengthAdjust="spacingAndGlyphs">IL-2 (nm)</text>
<text x="46.60" y="429.6" font-size="7.4" fill="#222" stroke="#222" stroke-width="0.12" text-anchor="middle">0</text>
<text x="65.80" y="429.6" font-size="7.4" fill="#222" stroke="#222" stroke-width="0.12" text-anchor="middle">20</text>
<text x="85.00" y="429.6" font-size="7.4" fill="#222" stroke="#222" stroke-width="0.12" text-anchor="middle">40</text>
<text x="104.20" y="429.6" font-size="7.4" fill="#222" stroke="#222" stroke-width="0.12" text-anchor="middle">60</text>
<text x="142.10" y="429.6" font-size="7.4" fill="#222" stroke="#222" stroke-width="0.12" text-anchor="middle">0</text>
<text x="161.30" y="429.6" font-size="7.4" fill="#222" stroke="#222" stroke-width="0.12" text-anchor="middle">20</text>
<text x="180.50" y="429.6" font-size="7.4" fill="#222" stroke="#222" stroke-width="0.12" text-anchor="middle">40</text>
<text x="199.70" y="429.6" font-size="7.4" fill="#222" stroke="#222" stroke-width="0.12" text-anchor="middle">60</text>
<text x="236.50" y="429.6" font-size="7.4" fill="#222" stroke="#222" stroke-width="0.12" text-anchor="middle">0</text>
<text x="255.70" y="429.6" font-size="7.4" fill="#222" stroke="#222" stroke-width="0.12" text-anchor="middle">20</text>
<text x="274.90" y="429.6" font-size="7.4" fill="#222" stroke="#222" stroke-width="0.12" text-anchor="middle">40</text>
<text x="294.10" y="429.6" font-size="7.4" fill="#222" stroke="#222" stroke-width="0.12" text-anchor="middle">60</text>
<text x="330.40" y="429.6" font-size="7.4" fill="#222" stroke="#222" stroke-width="0.12" text-anchor="middle">0</text>
<text x="349.60" y="429.6" font-size="7.4" fill="#222" stroke="#222" stroke-width="0.12" text-anchor="middle">20</text>
<text x="368.80" y="429.6" font-size="7.4" fill="#222" stroke="#222" stroke-width="0.12" text-anchor="middle">40</text>
<text x="388.00" y="429.6" font-size="7.4" fill="#222" stroke="#222" stroke-width="0.12" text-anchor="middle">60</text>
<text x="424.30" y="429.6" font-size="7.4" fill="#222" stroke="#222" stroke-width="0.12" text-anchor="middle">0</text>
<text x="447.30" y="429.6" font-size="7.4" fill="#222" stroke="#222" stroke-width="0.12" text-anchor="middle">20</text>
<text x="470.60" y="429.6" font-size="7.4" fill="#222" stroke="#222" stroke-width="0.12" text-anchor="middle">40</text>
<text x="494.00" y="429.6" font-size="7.4" fill="#222" stroke="#222" stroke-width="0.12" text-anchor="middle">60</text>
<path d="M49.3 260.8 L52.3 235.5 L58.0 230.2 L64.0 230.2 L69.8 230.9 L75.3 234.3 L81.1 236.2 L86.9 235.9 L92.5 240.2 L103.9 244.1 L115.5 248.3" fill="none" stroke="#1d5b98" stroke-width="1.3" stroke-linejoin="round"/><circle cx="49.3" cy="260.8" r="1.3" fill="#1d5b98"/><circle cx="52.3" cy="235.5" r="1.3" fill="#1d5b98"/><circle cx="58.0" cy="230.2" r="1.3" fill="#1d5b98"/><circle cx="64.0" cy="230.2" r="1.3" fill="#1d5b98"/><circle cx="69.8" cy="230.9" r="1.3" fill="#1d5b98"/><circle cx="75.3" cy="234.3" r="1.3" fill="#1d5b98"/><circle cx="81.1" cy="236.2" r="1.3" fill="#1d5b98"/><circle cx="86.9" cy="235.9" r="1.3" fill="#1d5b98"/><circle cx="92.5" cy="240.2" r="1.3" fill="#1d5b98"/><circle cx="103.9" cy="244.1" r="1.3" fill="#1d5b98"/><circle cx="115.5" cy="248.3" r="1.3" fill="#1d5b98"/>
<path d="M49.3 280.0 L52.3 256.5 L58.0 244.0 L64.0 241.3 L69.8 243.0 L75.3 239.6 L81.1 244.6 L86.9 243.4 L92.5 241.8 L103.9 246.8 L115.5 255.4" fill="none" stroke="#c4122f" stroke-width="1.3" stroke-linejoin="round"/><circle cx="49.3" cy="280.0" r="1.3" fill="#c4122f"/><circle cx="52.3" cy="256.5" r="1.3" fill="#c4122f"/><circle cx="58.0" cy="244.0" r="1.3" fill="#c4122f"/><circle cx="64.0" cy="241.3" r="1.3" fill="#c4122f"/><circle cx="69.8" cy="243.0" r="1.3" fill="#c4122f"/><circle cx="75.3" cy="239.6" r="1.3" fill="#c4122f"/><circle cx="81.1" cy="244.6" r="1.3" fill="#c4122f"/><circle cx="86.9" cy="243.4" r="1.3" fill="#c4122f"/><circle cx="92.5" cy="241.8" r="1.3" fill="#c4122f"/><circle cx="103.9" cy="246.8" r="1.3" fill="#c4122f"/><circle cx="115.5" cy="255.4" r="1.3" fill="#c4122f"/>
<path d="M48.6 267.6 L52.3 245.3 L58.0 246.3 L64.0 243.8 L69.8 249.6 L75.3 251.2 L81.1 252.8 L86.9 255.2 L92.5 263.5 L103.9 264.6 L115.5 272.3" fill="none" stroke="#3cb54a" stroke-width="1.3" stroke-linejoin="round"/><circle cx="48.6" cy="267.6" r="1.3" fill="#3cb54a"/><circle cx="52.3" cy="245.3" r="1.3" fill="#3cb54a"/><circle cx="58.0" cy="246.3" r="1.3" fill="#3cb54a"/><circle cx="64.0" cy="243.8" r="1.3" fill="#3cb54a"/><circle cx="69.8" cy="249.6" r="1.3" fill="#3cb54a"/><circle cx="75.3" cy="251.2" r="1.3" fill="#3cb54a"/><circle cx="81.1" cy="252.8" r="1.3" fill="#3cb54a"/><circle cx="86.9" cy="255.2" r="1.3" fill="#3cb54a"/><circle cx="92.5" cy="263.5" r="1.3" fill="#3cb54a"/><circle cx="103.9" cy="264.6" r="1.3" fill="#3cb54a"/><circle cx="115.5" cy="272.3" r="1.3" fill="#3cb54a"/>
<path d="M49.3 303.4 L52.3 267.0 L58.0 249.0 L64.0 245.2 L69.8 244.6 L75.3 251.2 L81.1 253.4 L86.9 254.6 L92.5 260.0 L103.9 258.5 L115.5 267.7" fill="none" stroke="#f7941d" stroke-width="1.3" stroke-linejoin="round"/><circle cx="49.3" cy="303.4" r="1.3" fill="#f7941d"/><circle cx="52.3" cy="267.0" r="1.3" fill="#f7941d"/><circle cx="58.0" cy="249.0" r="1.3" fill="#f7941d"/><circle cx="64.0" cy="245.2" r="1.3" fill="#f7941d"/><circle cx="69.8" cy="244.6" r="1.3" fill="#f7941d"/><circle cx="75.3" cy="251.2" r="1.3" fill="#f7941d"/><circle cx="81.1" cy="253.4" r="1.3" fill="#f7941d"/><circle cx="86.9" cy="254.6" r="1.3" fill="#f7941d"/><circle cx="92.5" cy="260.0" r="1.3" fill="#f7941d"/><circle cx="103.9" cy="258.5" r="1.3" fill="#f7941d"/><circle cx="115.5" cy="267.7" r="1.3" fill="#f7941d"/>
<path d="M47.4 303.4 L49.3 274.4 L52.3 244.0 L58.0 248.4 L64.0 243.0 L69.8 246.8 L75.3 252.5 L81.1 256.9 L86.9 258.5 L92.5 265.4 L103.9 262.3 L115.5 272.3" fill="none" stroke="#5a2484" stroke-width="1.3" stroke-linejoin="round"/><circle cx="47.4" cy="303.4" r="1.3" fill="#5a2484"/><circle cx="49.3" cy="274.4" r="1.3" fill="#5a2484"/><circle cx="52.3" cy="244.0" r="1.3" fill="#5a2484"/><circle cx="58.0" cy="248.4" r="1.3" fill="#5a2484"/><circle cx="64.0" cy="243.0" r="1.3" fill="#5a2484"/><circle cx="69.8" cy="246.8" r="1.3" fill="#5a2484"/><circle cx="75.3" cy="252.5" r="1.3" fill="#5a2484"/><circle cx="81.1" cy="256.9" r="1.3" fill="#5a2484"/><circle cx="86.9" cy="258.5" r="1.3" fill="#5a2484"/><circle cx="92.5" cy="265.4" r="1.3" fill="#5a2484"/><circle cx="103.9" cy="262.3" r="1.3" fill="#5a2484"/><circle cx="115.5" cy="272.3" r="1.3" fill="#5a2484"/>
<path d="M49.7 413.1 L52.7 392.3 L58.0 383.1 L63.5 387.7 L69.5 400.4 L75.1 402.2 L80.4 413.1" fill="none" stroke="#f7941d" stroke-width="1.3" stroke-linejoin="round"/><circle cx="49.7" cy="413.1" r="1.3" fill="#f7941d"/><circle cx="52.7" cy="392.3" r="1.3" fill="#f7941d"/><circle cx="58.0" cy="383.1" r="1.3" fill="#f7941d"/><circle cx="63.5" cy="387.7" r="1.3" fill="#f7941d"/><circle cx="69.5" cy="400.4" r="1.3" fill="#f7941d"/><circle cx="75.1" cy="402.2" r="1.3" fill="#f7941d"/><circle cx="80.4" cy="413.1" r="1.3" fill="#f7941d"/>
<path d="M48.1 413.1 L52.7 388.8 L58.0 394.6 L63.5 408.5 L69.5 413.1 L75.1 413.1" fill="none" stroke="#3cb54a" stroke-width="1.3" stroke-linejoin="round"/><circle cx="48.1" cy="413.1" r="1.3" fill="#3cb54a"/><circle cx="52.7" cy="388.8" r="1.3" fill="#3cb54a"/><circle cx="58.0" cy="394.6" r="1.3" fill="#3cb54a"/><circle cx="63.5" cy="408.5" r="1.3" fill="#3cb54a"/><circle cx="69.5" cy="413.1" r="1.3" fill="#3cb54a"/><circle cx="75.1" cy="413.1" r="1.3" fill="#3cb54a"/>
<path d="M48.1 413.1 L52.7 376.8 L58.0 375.5 L63.5 380.8 L69.5 393.5 L75.1 396.2 L80.4 402.7 L86.6 406.2 L91.9 413.1 L103.5 413.1 L115.0 413.1" fill="none" stroke="#c4122f" stroke-width="1.3" stroke-linejoin="round"/><circle cx="48.1" cy="413.1" r="1.3" fill="#c4122f"/><circle cx="52.7" cy="376.8" r="1.3" fill="#c4122f"/><circle cx="58.0" cy="375.5" r="1.3" fill="#c4122f"/><circle cx="63.5" cy="380.8" r="1.3" fill="#c4122f"/><circle cx="69.5" cy="393.5" r="1.3" fill="#c4122f"/><circle cx="75.1" cy="396.2" r="1.3" fill="#c4122f"/><circle cx="80.4" cy="402.7" r="1.3" fill="#c4122f"/><circle cx="86.6" cy="406.2" r="1.3" fill="#c4122f"/><circle cx="91.9" cy="413.1" r="1.3" fill="#c4122f"/><circle cx="103.5" cy="413.1" r="1.3" fill="#c4122f"/><circle cx="115.0" cy="413.1" r="1.3" fill="#c4122f"/>
<path d="M48.1 413.1 L52.7 376.8 L58.0 379.2 L63.5 385.4 L69.5 405.0 L75.1 413.1 L80.4 413.1 L86.6 413.1 L91.9 413.1 L103.5 413.1 L115.0 413.1" fill="none" stroke="#5a2484" stroke-width="1.3" stroke-linejoin="round"/><circle cx="48.1" cy="413.1" r="1.3" fill="#5a2484"/><circle cx="52.7" cy="376.8" r="1.3" fill="#5a2484"/><circle cx="58.0" cy="379.2" r="1.3" fill="#5a2484"/><circle cx="63.5" cy="385.4" r="1.3" fill="#5a2484"/><circle cx="69.5" cy="405.0" r="1.3" fill="#5a2484"/><circle cx="75.1" cy="413.1" r="1.3" fill="#5a2484"/><circle cx="80.4" cy="413.1" r="1.3" fill="#5a2484"/><circle cx="86.6" cy="413.1" r="1.3" fill="#5a2484"/><circle cx="91.9" cy="413.1" r="1.3" fill="#5a2484"/><circle cx="103.5" cy="413.1" r="1.3" fill="#5a2484"/><circle cx="115.0" cy="413.1" r="1.3" fill="#5a2484"/>
<path d="M48.1 413.1 L49.7 361.2 L52.7 347.3 L58.0 347.3 L63.5 342.7 L69.5 351.9 L75.1 357.0 L80.4 362.3 L86.6 375.0 L91.9 391.2 L103.5 413.1 L115.0 400.4" fill="none" stroke="#1d5b98" stroke-width="1.3" stroke-linejoin="round"/><circle cx="48.1" cy="413.1" r="1.3" fill="#1d5b98"/><circle cx="49.7" cy="361.2" r="1.3" fill="#1d5b98"/><circle cx="52.7" cy="347.3" r="1.3" fill="#1d5b98"/><circle cx="58.0" cy="347.3" r="1.3" fill="#1d5b98"/><circle cx="63.5" cy="342.7" r="1.3" fill="#1d5b98"/><circle cx="69.5" cy="351.9" r="1.3" fill="#1d5b98"/><circle cx="75.1" cy="357.0" r="1.3" fill="#1d5b98"/><circle cx="80.4" cy="362.3" r="1.3" fill="#1d5b98"/><circle cx="86.6" cy="375.0" r="1.3" fill="#1d5b98"/><circle cx="91.9" cy="391.2" r="1.3" fill="#1d5b98"/><circle cx="103.5" cy="413.1" r="1.3" fill="#1d5b98"/><circle cx="115.0" cy="400.4" r="1.3" fill="#1d5b98"/>
<path d="M144.5 262.7 L147.5 240.5 L153.5 242.0 L159.4 232.5 L165.5 236.3 L170.9 240.9 L176.8 245.5 L182.5 245.5 L188.2 247.8 L199.4 254.8 L210.9 255.8" fill="none" stroke="#1d5b98" stroke-width="1.3" stroke-linejoin="round"/><circle cx="144.5" cy="262.7" r="1.3" fill="#1d5b98"/><circle cx="147.5" cy="240.5" r="1.3" fill="#1d5b98"/><circle cx="153.5" cy="242.0" r="1.3" fill="#1d5b98"/><circle cx="159.4" cy="232.5" r="1.3" fill="#1d5b98"/><circle cx="165.5" cy="236.3" r="1.3" fill="#1d5b98"/><circle cx="170.9" cy="240.9" r="1.3" fill="#1d5b98"/><circle cx="176.8" cy="245.5" r="1.3" fill="#1d5b98"/><circle cx="182.5" cy="245.5" r="1.3" fill="#1d5b98"/><circle cx="188.2" cy="247.8" r="1.3" fill="#1d5b98"/><circle cx="199.4" cy="254.8" r="1.3" fill="#1d5b98"/><circle cx="210.9" cy="255.8" r="1.3" fill="#1d5b98"/>
<path d="M142.5 303.2 L144.5 268.8 L147.5 251.5 L153.5 248.4 L159.4 247.8 L165.5 248.8 L170.9 249.9 L176.8 249.9 L182.5 249.3 L188.2 252.7 L199.4 255.5 L210.9 263.2" fill="none" stroke="#c4122f" stroke-width="1.3" stroke-linejoin="round"/><circle cx="142.5" cy="303.2" r="1.3" fill="#c4122f"/><circle cx="144.5" cy="268.8" r="1.3" fill="#c4122f"/><circle cx="147.5" cy="251.5" r="1.3" fill="#c4122f"/><circle cx="153.5" cy="248.4" r="1.3" fill="#c4122f"/><circle cx="159.4" cy="247.8" r="1.3" fill="#c4122f"/><circle cx="165.5" cy="248.8" r="1.3" fill="#c4122f"/><circle cx="170.9" cy="249.9" r="1.3" fill="#c4122f"/><circle cx="176.8" cy="249.9" r="1.3" fill="#c4122f"/><circle cx="182.5" cy="249.3" r="1.3" fill="#c4122f"/><circle cx="188.2" cy="252.7" r="1.3" fill="#c4122f"/><circle cx="199.4" cy="255.5" r="1.3" fill="#c4122f"/><circle cx="210.9" cy="263.2" r="1.3" fill="#c4122f"/>
<path d="M145.1 303.5 L147.5 289.6 L153.5 256.5 L159.4 253.9 L165.5 251.9 L170.9 252.7 L176.8 255.8 L182.5 259.2 L188.2 265.8 L199.4 265.8 L210.9 271.5" fill="none" stroke="#f7941d" stroke-width="1.3" stroke-linejoin="round"/><circle cx="145.1" cy="303.5" r="1.3" fill="#f7941d"/><circle cx="147.5" cy="289.6" r="1.3" fill="#f7941d"/><circle cx="153.5" cy="256.5" r="1.3" fill="#f7941d"/><circle cx="159.4" cy="253.9" r="1.3" fill="#f7941d"/><circle cx="165.5" cy="251.9" r="1.3" fill="#f7941d"/><circle cx="170.9" cy="252.7" r="1.3" fill="#f7941d"/><circle cx="176.8" cy="255.8" r="1.3" fill="#f7941d"/><circle cx="182.5" cy="259.2" r="1.3" fill="#f7941d"/><circle cx="188.2" cy="265.8" r="1.3" fill="#f7941d"/><circle cx="199.4" cy="265.8" r="1.3" fill="#f7941d"/><circle cx="210.9" cy="271.5" r="1.3" fill="#f7941d"/>
<path d="M142.9 301.9 L145.1 288.1 L147.5 261.2 L153.5 258.1 L159.4 255.5 L165.5 260.4 L170.9 264.2 L176.8 267.8 L182.5 270.4 L188.2 275.0 L199.4 277.6 L210.9 280.7" fill="none" stroke="#3cb54a" stroke-width="1.3" stroke-linejoin="round"/><circle cx="142.9" cy="301.9" r="1.3" fill="#3cb54a"/><circle cx="145.1" cy="288.1" r="1.3" fill="#3cb54a"/><circle cx="147.5" cy="261.2" r="1.3" fill="#3cb54a"/><circle cx="153.5" cy="258.1" r="1.3" fill="#3cb54a"/><circle cx="159.4" cy="255.5" r="1.3" fill="#3cb54a"/><circle cx="165.5" cy="260.4" r="1.3" fill="#3cb54a"/><circle cx="170.9" cy="264.2" r="1.3" fill="#3cb54a"/><circle cx="176.8" cy="267.8" r="1.3" fill="#3cb54a"/><circle cx="182.5" cy="270.4" r="1.3" fill="#3cb54a"/><circle cx="188.2" cy="275.0" r="1.3" fill="#3cb54a"/><circle cx="199.4" cy="277.6" r="1.3" fill="#3cb54a"/><circle cx="210.9" cy="280.7" r="1.3" fill="#3cb54a"/>
<path d="M142.9 303.2 L145.1 278.1 L147.5 252.7 L153.5 253.0 L159.4 253.9 L165.5 259.2 L170.9 256.1 L176.8 264.7 L182.5 265.3 L188.2 271.9 L199.4 268.1 L210.9 279.2" fill="none" stroke="#5a2484" stroke-width="1.3" stroke-linejoin="round"/><circle cx="142.9" cy="303.2" r="1.3" fill="#5a2484"/><circle cx="145.1" cy="278.1" r="1.3" fill="#5a2484"/><circle cx="147.5" cy="252.7" r="1.3" fill="#5a2484"/><circle cx="153.5" cy="253.0" r="1.3" fill="#5a2484"/><circle cx="159.4" cy="253.9" r="1.3" fill="#5a2484"/><circle cx="165.5" cy="259.2" r="1.3" fill="#5a2484"/><circle cx="170.9" cy="256.1" r="1.3" fill="#5a2484"/><circle cx="176.8" cy="264.7" r="1.3" fill="#5a2484"/><circle cx="182.5" cy="265.3" r="1.3" fill="#5a2484"/><circle cx="188.2" cy="271.9" r="1.3" fill="#5a2484"/><circle cx="199.4" cy="268.1" r="1.3" fill="#5a2484"/><circle cx="210.9" cy="279.2" r="1.3" fill="#5a2484"/>
<path d="M142.5 413.1 L144.4 372.3 L147.7 345.4 L153.5 350.0 L159.2 353.5 L164.6 362.1 L170.4 373.7 L176.2 375.0 L181.5 394.2 L187.3 413.1 L198.8 407.7 L210.4 413.1" fill="none" stroke="#1d5b98" stroke-width="1.3" stroke-linejoin="round"/><circle cx="142.5" cy="413.1" r="1.3" fill="#1d5b98"/><circle cx="144.4" cy="372.3" r="1.3" fill="#1d5b98"/><circle cx="147.7" cy="345.4" r="1.3" fill="#1d5b98"/><circle cx="153.5" cy="350.0" r="1.3" fill="#1d5b98"/><circle cx="159.2" cy="353.5" r="1.3" fill="#1d5b98"/><circle cx="164.6" cy="362.1" r="1.3" fill="#1d5b98"/><circle cx="170.4" cy="373.7" r="1.3" fill="#1d5b98"/><circle cx="176.2" cy="375.0" r="1.3" fill="#1d5b98"/><circle cx="181.5" cy="394.2" r="1.3" fill="#1d5b98"/><circle cx="187.3" cy="413.1" r="1.3" fill="#1d5b98"/><circle cx="198.8" cy="407.7" r="1.3" fill="#1d5b98"/><circle cx="210.4" cy="413.1" r="1.3" fill="#1d5b98"/>
<path d="M147.7 413.1 L153.5 381.3 L159.2 391.0 L164.6 404.4 L170.4 413.1 L176.2 413.1 L181.5 413.1 L187.3 413.1 L198.8 413.1 L210.4 413.1" fill="none" stroke="#f7941d" stroke-width="1.3" stroke-linejoin="round"/><circle cx="147.7" cy="413.1" r="1.3" fill="#f7941d"/><circle cx="153.5" cy="381.3" r="1.3" fill="#f7941d"/><circle cx="159.2" cy="391.0" r="1.3" fill="#f7941d"/><circle cx="164.6" cy="404.4" r="1.3" fill="#f7941d"/><circle cx="170.4" cy="413.1" r="1.3" fill="#f7941d"/><circle cx="176.2" cy="413.1" r="1.3" fill="#f7941d"/><circle cx="181.5" cy="413.1" r="1.3" fill="#f7941d"/><circle cx="187.3" cy="413.1" r="1.3" fill="#f7941d"/><circle cx="198.8" cy="413.1" r="1.3" fill="#f7941d"/><circle cx="210.4" cy="413.1" r="1.3" fill="#f7941d"/>
<path d="M142.5 413.1 L147.7 411.2 L153.5 413.1 L159.2 413.1 L164.6 413.1" fill="none" stroke="#3cb54a" stroke-width="1.3" stroke-linejoin="round"/><circle cx="142.5" cy="413.1" r="1.3" fill="#3cb54a"/><circle cx="147.7" cy="411.2" r="1.3" fill="#3cb54a"/><circle cx="153.5" cy="413.1" r="1.3" fill="#3cb54a"/><circle cx="159.2" cy="413.1" r="1.3" fill="#3cb54a"/><circle cx="164.6" cy="413.1" r="1.3" fill="#3cb54a"/>
<path d="M142.5 413.1 L144.4 397.7 L147.7 389.0 L153.5 395.4 L159.2 399.6 L164.6 398.7 L170.4 410.2 L176.2 409.2 L181.5 410.8 L187.3 413.1 L198.8 413.1 L210.4 413.1" fill="none" stroke="#c4122f" stroke-width="1.3" stroke-linejoin="round"/><circle cx="142.5" cy="413.1" r="1.3" fill="#c4122f"/><circle cx="144.4" cy="397.7" r="1.3" fill="#c4122f"/><circle cx="147.7" cy="389.0" r="1.3" fill="#c4122f"/><circle cx="153.5" cy="395.4" r="1.3" fill="#c4122f"/><circle cx="159.2" cy="399.6" r="1.3" fill="#c4122f"/><circle cx="164.6" cy="398.7" r="1.3" fill="#c4122f"/><circle cx="170.4" cy="410.2" r="1.3" fill="#c4122f"/><circle cx="176.2" cy="409.2" r="1.3" fill="#c4122f"/><circle cx="181.5" cy="410.8" r="1.3" fill="#c4122f"/><circle cx="187.3" cy="413.1" r="1.3" fill="#c4122f"/><circle cx="198.8" cy="413.1" r="1.3" fill="#c4122f"/><circle cx="210.4" cy="413.1" r="1.3" fill="#c4122f"/>
<path d="M142.5 413.1 L145.0 405.4 L147.7 393.5 L153.5 396.7 L159.2 403.5 L164.6 413.1 L170.4 413.1 L176.2 413.1 L181.5 413.1 L187.3 413.1 L198.8 410.8 L210.4 413.1" fill="none" stroke="#5a2484" stroke-width="1.3" stroke-linejoin="round"/><circle cx="142.5" cy="413.1" r="1.3" fill="#5a2484"/><circle cx="145.0" cy="405.4" r="1.3" fill="#5a2484"/><circle cx="147.7" cy="393.5" r="1.3" fill="#5a2484"/><circle cx="153.5" cy="396.7" r="1.3" fill="#5a2484"/><circle cx="159.2" cy="403.5" r="1.3" fill="#5a2484"/><circle cx="164.6" cy="413.1" r="1.3" fill="#5a2484"/><circle cx="170.4" cy="413.1" r="1.3" fill="#5a2484"/><circle cx="176.2" cy="413.1" r="1.3" fill="#5a2484"/><circle cx="181.5" cy="413.1" r="1.3" fill="#5a2484"/><circle cx="187.3" cy="413.1" r="1.3" fill="#5a2484"/><circle cx="198.8" cy="410.8" r="1.3" fill="#5a2484"/><circle cx="210.4" cy="413.1" r="1.3" fill="#5a2484"/>
<path d="M237.2 301.5 L238.8 253.8 L242.2 230.2 L248.0 228.2 L253.8 219.4 L259.5 226.3 L265.2 223.5 L271.1 224.8 L276.5 229.1 L282.2 230.2 L293.8 234.3 L305.2 233.7" fill="none" stroke="#1d5b98" stroke-width="1.3" stroke-linejoin="round"/><circle cx="237.2" cy="301.5" r="1.3" fill="#1d5b98"/><circle cx="238.8" cy="253.8" r="1.3" fill="#1d5b98"/><circle cx="242.2" cy="230.2" r="1.3" fill="#1d5b98"/><circle cx="248.0" cy="228.2" r="1.3" fill="#1d5b98"/><circle cx="253.8" cy="219.4" r="1.3" fill="#1d5b98"/><circle cx="259.5" cy="226.3" r="1.3" fill="#1d5b98"/><circle cx="265.2" cy="223.5" r="1.3" fill="#1d5b98"/><circle cx="271.1" cy="224.8" r="1.3" fill="#1d5b98"/><circle cx="276.5" cy="229.1" r="1.3" fill="#1d5b98"/><circle cx="282.2" cy="230.2" r="1.3" fill="#1d5b98"/><circle cx="293.8" cy="234.3" r="1.3" fill="#1d5b98"/><circle cx="305.2" cy="233.7" r="1.3" fill="#1d5b98"/>
<path d="M238.8 270.0 L241.5 240.2 L248.0 234.8 L253.8 230.9 L259.5 229.1 L265.2 234.0 L271.1 235.8 L276.5 233.2 L282.2 239.4 L293.8 240.9 L305.2 242.9" fill="none" stroke="#f7941d" stroke-width="1.3" stroke-linejoin="round"/><circle cx="238.8" cy="270.0" r="1.3" fill="#f7941d"/><circle cx="241.5" cy="240.2" r="1.3" fill="#f7941d"/><circle cx="248.0" cy="234.8" r="1.3" fill="#f7941d"/><circle cx="253.8" cy="230.9" r="1.3" fill="#f7941d"/><circle cx="259.5" cy="229.1" r="1.3" fill="#f7941d"/><circle cx="265.2" cy="234.0" r="1.3" fill="#f7941d"/><circle cx="271.1" cy="235.8" r="1.3" fill="#f7941d"/><circle cx="276.5" cy="233.2" r="1.3" fill="#f7941d"/><circle cx="282.2" cy="239.4" r="1.3" fill="#f7941d"/><circle cx="293.8" cy="240.9" r="1.3" fill="#f7941d"/><circle cx="305.2" cy="242.9" r="1.3" fill="#f7941d"/>
<path d="M238.8 268.0 L241.5 240.9 L248.0 238.6 L253.8 228.6 L259.5 234.0 L265.2 240.5 L271.1 240.2 L276.5 243.2 L282.2 250.6 L293.8 248.6 L305.2 255.2" fill="none" stroke="#3cb54a" stroke-width="1.3" stroke-linejoin="round"/><circle cx="238.8" cy="268.0" r="1.3" fill="#3cb54a"/><circle cx="241.5" cy="240.9" r="1.3" fill="#3cb54a"/><circle cx="248.0" cy="238.6" r="1.3" fill="#3cb54a"/><circle cx="253.8" cy="228.6" r="1.3" fill="#3cb54a"/><circle cx="259.5" cy="234.0" r="1.3" fill="#3cb54a"/><circle cx="265.2" cy="240.5" r="1.3" fill="#3cb54a"/><circle cx="271.1" cy="240.2" r="1.3" fill="#3cb54a"/><circle cx="276.5" cy="243.2" r="1.3" fill="#3cb54a"/><circle cx="282.2" cy="250.6" r="1.3" fill="#3cb54a"/><circle cx="293.8" cy="248.6" r="1.3" fill="#3cb54a"/><circle cx="305.2" cy="255.2" r="1.3" fill="#3cb54a"/>
<path d="M237.2 303.5 L238.8 265.0 L241.5 239.4 L248.0 235.5 L253.8 231.7 L259.5 229.7 L265.2 232.2 L271.1 227.1 L276.5 227.1 L282.2 235.5 L293.8 234.8 L305.2 237.1" fill="none" stroke="#c4122f" stroke-width="1.3" stroke-linejoin="round"/><circle cx="237.2" cy="303.5" r="1.3" fill="#c4122f"/><circle cx="238.8" cy="265.0" r="1.3" fill="#c4122f"/><circle cx="241.5" cy="239.4" r="1.3" fill="#c4122f"/><circle cx="248.0" cy="235.5" r="1.3" fill="#c4122f"/><circle cx="253.8" cy="231.7" r="1.3" fill="#c4122f"/><circle cx="259.5" cy="229.7" r="1.3" fill="#c4122f"/><circle cx="265.2" cy="232.2" r="1.3" fill="#c4122f"/><circle cx="271.1" cy="227.1" r="1.3" fill="#c4122f"/><circle cx="276.5" cy="227.1" r="1.3" fill="#c4122f"/><circle cx="282.2" cy="235.5" r="1.3" fill="#c4122f"/><circle cx="293.8" cy="234.8" r="1.3" fill="#c4122f"/><circle cx="305.2" cy="237.1" r="1.3" fill="#c4122f"/>
<path d="M237.2 298.0 L239.5 273.5 L241.8 240.2 L248.0 235.5 L253.8 237.8 L259.5 240.5 L265.2 242.0 L271.1 245.1 L276.5 247.1 L282.2 249.7 L293.8 253.7 L305.2 259.8" fill="none" stroke="#5a2484" stroke-width="1.3" stroke-linejoin="round"/><circle cx="237.2" cy="298.0" r="1.3" fill="#5a2484"/><circle cx="239.5" cy="273.5" r="1.3" fill="#5a2484"/><circle cx="241.8" cy="240.2" r="1.3" fill="#5a2484"/><circle cx="248.0" cy="235.5" r="1.3" fill="#5a2484"/><circle cx="253.8" cy="237.8" r="1.3" fill="#5a2484"/><circle cx="259.5" cy="240.5" r="1.3" fill="#5a2484"/><circle cx="265.2" cy="242.0" r="1.3" fill="#5a2484"/><circle cx="271.1" cy="245.1" r="1.3" fill="#5a2484"/><circle cx="276.5" cy="247.1" r="1.3" fill="#5a2484"/><circle cx="282.2" cy="249.7" r="1.3" fill="#5a2484"/><circle cx="293.8" cy="253.7" r="1.3" fill="#5a2484"/><circle cx="305.2" cy="259.8" r="1.3" fill="#5a2484"/>
<path d="M236.9 413.1 L238.8 357.3 L241.9 333.8 L247.7 338.1 L253.5 331.9 L259.2 330.8 L265.0 329.4 L270.8 332.3 L276.0 335.8 L281.7 341.9 L293.3 361.2 L304.2 368.8" fill="none" stroke="#1d5b98" stroke-width="1.3" stroke-linejoin="round"/><circle cx="236.9" cy="413.1" r="1.3" fill="#1d5b98"/><circle cx="238.8" cy="357.3" r="1.3" fill="#1d5b98"/><circle cx="241.9" cy="333.8" r="1.3" fill="#1d5b98"/><circle cx="247.7" cy="338.1" r="1.3" fill="#1d5b98"/><circle cx="253.5" cy="331.9" r="1.3" fill="#1d5b98"/><circle cx="259.2" cy="330.8" r="1.3" fill="#1d5b98"/><circle cx="265.0" cy="329.4" r="1.3" fill="#1d5b98"/><circle cx="270.8" cy="332.3" r="1.3" fill="#1d5b98"/><circle cx="276.0" cy="335.8" r="1.3" fill="#1d5b98"/><circle cx="281.7" cy="341.9" r="1.3" fill="#1d5b98"/><circle cx="293.3" cy="361.2" r="1.3" fill="#1d5b98"/><circle cx="304.2" cy="368.8" r="1.3" fill="#1d5b98"/>
<path d="M236.9 413.1 L238.8 377.5 L241.9 362.1 L247.7 356.3 L253.5 354.4 L259.2 351.5 L265.0 360.8 L270.8 366.0 L276.0 379.4 L281.7 398.7 L293.3 396.7 L304.2 413.1" fill="none" stroke="#f7941d" stroke-width="1.3" stroke-linejoin="round"/><circle cx="236.9" cy="413.1" r="1.3" fill="#f7941d"/><circle cx="238.8" cy="377.5" r="1.3" fill="#f7941d"/><circle cx="241.9" cy="362.1" r="1.3" fill="#f7941d"/><circle cx="247.7" cy="356.3" r="1.3" fill="#f7941d"/><circle cx="253.5" cy="354.4" r="1.3" fill="#f7941d"/><circle cx="259.2" cy="351.5" r="1.3" fill="#f7941d"/><circle cx="265.0" cy="360.8" r="1.3" fill="#f7941d"/><circle cx="270.8" cy="366.0" r="1.3" fill="#f7941d"/><circle cx="276.0" cy="379.4" r="1.3" fill="#f7941d"/><circle cx="281.7" cy="398.7" r="1.3" fill="#f7941d"/><circle cx="293.3" cy="396.7" r="1.3" fill="#f7941d"/><circle cx="304.2" cy="413.1" r="1.3" fill="#f7941d"/>
<path d="M236.9 413.1 L238.8 405.4 L241.9 371.7 L247.7 369.8 L253.5 367.9 L259.2 381.3 L265.0 397.3 L270.8 407.3" fill="none" stroke="#3cb54a" stroke-width="1.3" stroke-linejoin="round"/><circle cx="236.9" cy="413.1" r="1.3" fill="#3cb54a"/><circle cx="238.8" cy="405.4" r="1.3" fill="#3cb54a"/><circle cx="241.9" cy="371.7" r="1.3" fill="#3cb54a"/><circle cx="247.7" cy="369.8" r="1.3" fill="#3cb54a"/><circle cx="253.5" cy="367.9" r="1.3" fill="#3cb54a"/><circle cx="259.2" cy="381.3" r="1.3" fill="#3cb54a"/><circle cx="265.0" cy="397.3" r="1.3" fill="#3cb54a"/><circle cx="270.8" cy="407.3" r="1.3" fill="#3cb54a"/>
<path d="M236.9 413.1 L238.8 382.3 L241.9 359.6 L247.7 366.5 L253.5 356.3 L259.2 355.0 L265.0 356.9 L270.8 358.8 L276.0 367.9 L281.7 385.2 L293.3 390.4 L304.2 413.1" fill="none" stroke="#c4122f" stroke-width="1.3" stroke-linejoin="round"/><circle cx="236.9" cy="413.1" r="1.3" fill="#c4122f"/><circle cx="238.8" cy="382.3" r="1.3" fill="#c4122f"/><circle cx="241.9" cy="359.6" r="1.3" fill="#c4122f"/><circle cx="247.7" cy="366.5" r="1.3" fill="#c4122f"/><circle cx="253.5" cy="356.3" r="1.3" fill="#c4122f"/><circle cx="259.2" cy="355.0" r="1.3" fill="#c4122f"/><circle cx="265.0" cy="356.9" r="1.3" fill="#c4122f"/><circle cx="270.8" cy="358.8" r="1.3" fill="#c4122f"/><circle cx="276.0" cy="367.9" r="1.3" fill="#c4122f"/><circle cx="281.7" cy="385.2" r="1.3" fill="#c4122f"/><circle cx="293.3" cy="390.4" r="1.3" fill="#c4122f"/><circle cx="304.2" cy="413.1" r="1.3" fill="#c4122f"/>
<path d="M236.9 413.1 L238.8 403.5 L241.9 371.7 L247.7 370.8 L253.5 375.6 L259.2 382.3 L265.0 407.3 L270.8 405.4 L276.0 403.5 L281.7 413.1 L293.3 413.1 L304.2 413.1" fill="none" stroke="#5a2484" stroke-width="1.3" stroke-linejoin="round"/><circle cx="236.9" cy="413.1" r="1.3" fill="#5a2484"/><circle cx="238.8" cy="403.5" r="1.3" fill="#5a2484"/><circle cx="241.9" cy="371.7" r="1.3" fill="#5a2484"/><circle cx="247.7" cy="370.8" r="1.3" fill="#5a2484"/><circle cx="253.5" cy="375.6" r="1.3" fill="#5a2484"/><circle cx="259.2" cy="382.3" r="1.3" fill="#5a2484"/><circle cx="265.0" cy="407.3" r="1.3" fill="#5a2484"/><circle cx="270.8" cy="405.4" r="1.3" fill="#5a2484"/><circle cx="276.0" cy="403.5" r="1.3" fill="#5a2484"/><circle cx="281.7" cy="413.1" r="1.3" fill="#5a2484"/><circle cx="293.3" cy="413.1" r="1.3" fill="#5a2484"/><circle cx="304.2" cy="413.1" r="1.3" fill="#5a2484"/>
<path d="M330.9 302.5 L332.8 280.9 L335.5 261.7 L341.5 263.2 L347.4 267.1 L353.5 270.9 L358.9 273.2 L364.8 275.5 L370.5 280.9 L376.2 280.2 L387.4 289.4 L399.2 292.2" fill="none" stroke="#1d5b98" stroke-width="1.3" stroke-linejoin="round"/><circle cx="330.9" cy="302.5" r="1.3" fill="#1d5b98"/><circle cx="332.8" cy="280.9" r="1.3" fill="#1d5b98"/><circle cx="335.5" cy="261.7" r="1.3" fill="#1d5b98"/><circle cx="341.5" cy="263.2" r="1.3" fill="#1d5b98"/><circle cx="347.4" cy="267.1" r="1.3" fill="#1d5b98"/><circle cx="353.5" cy="270.9" r="1.3" fill="#1d5b98"/><circle cx="358.9" cy="273.2" r="1.3" fill="#1d5b98"/><circle cx="364.8" cy="275.5" r="1.3" fill="#1d5b98"/><circle cx="370.5" cy="280.9" r="1.3" fill="#1d5b98"/><circle cx="376.2" cy="280.2" r="1.3" fill="#1d5b98"/><circle cx="387.4" cy="289.4" r="1.3" fill="#1d5b98"/><circle cx="399.2" cy="292.2" r="1.3" fill="#1d5b98"/>
<path d="M330.9 302.9 L332.8 297.8 L335.5 284.0 L341.5 275.5 L347.4 272.5 L353.5 275.2 L358.9 282.9 L364.8 285.5 L370.5 284.8 L376.2 290.9 L387.4 294.3 L399.2 300.9" fill="none" stroke="#f7941d" stroke-width="1.3" stroke-linejoin="round"/><circle cx="330.9" cy="302.9" r="1.3" fill="#f7941d"/><circle cx="332.8" cy="297.8" r="1.3" fill="#f7941d"/><circle cx="335.5" cy="284.0" r="1.3" fill="#f7941d"/><circle cx="341.5" cy="275.5" r="1.3" fill="#f7941d"/><circle cx="347.4" cy="272.5" r="1.3" fill="#f7941d"/><circle cx="353.5" cy="275.2" r="1.3" fill="#f7941d"/><circle cx="358.9" cy="282.9" r="1.3" fill="#f7941d"/><circle cx="364.8" cy="285.5" r="1.3" fill="#f7941d"/><circle cx="370.5" cy="284.8" r="1.3" fill="#f7941d"/><circle cx="376.2" cy="290.9" r="1.3" fill="#f7941d"/><circle cx="387.4" cy="294.3" r="1.3" fill="#f7941d"/><circle cx="399.2" cy="300.9" r="1.3" fill="#f7941d"/>
<path d="M330.9 302.5 L332.8 277.1 L335.5 257.1 L341.5 262.9 L347.4 264.8 L353.5 268.6 L358.9 273.2 L364.8 275.2 L370.5 276.8 L376.2 278.3 L387.4 289.1 L399.2 286.6" fill="none" stroke="#3cb54a" stroke-width="1.3" stroke-linejoin="round"/><circle cx="330.9" cy="302.5" r="1.3" fill="#3cb54a"/><circle cx="332.8" cy="277.1" r="1.3" fill="#3cb54a"/><circle cx="335.5" cy="257.1" r="1.3" fill="#3cb54a"/><circle cx="341.5" cy="262.9" r="1.3" fill="#3cb54a"/><circle cx="347.4" cy="264.8" r="1.3" fill="#3cb54a"/><circle cx="353.5" cy="268.6" r="1.3" fill="#3cb54a"/><circle cx="358.9" cy="273.2" r="1.3" fill="#3cb54a"/><circle cx="364.8" cy="275.2" r="1.3" fill="#3cb54a"/><circle cx="370.5" cy="276.8" r="1.3" fill="#3cb54a"/><circle cx="376.2" cy="278.3" r="1.3" fill="#3cb54a"/><circle cx="387.4" cy="289.1" r="1.3" fill="#3cb54a"/><circle cx="399.2" cy="286.6" r="1.3" fill="#3cb54a"/>
<path d="M330.9 302.9 L332.8 301.7 L335.5 280.5 L341.5 274.3 L347.4 277.8 L353.5 277.1 L358.9 282.9 L364.8 281.4 L370.5 295.8 L376.2 285.1 L387.4 298.3 L399.2 303.5" fill="none" stroke="#c4122f" stroke-width="1.3" stroke-linejoin="round"/><circle cx="330.9" cy="302.9" r="1.3" fill="#c4122f"/><circle cx="332.8" cy="301.7" r="1.3" fill="#c4122f"/><circle cx="335.5" cy="280.5" r="1.3" fill="#c4122f"/><circle cx="341.5" cy="274.3" r="1.3" fill="#c4122f"/><circle cx="347.4" cy="277.8" r="1.3" fill="#c4122f"/><circle cx="353.5" cy="277.1" r="1.3" fill="#c4122f"/><circle cx="358.9" cy="282.9" r="1.3" fill="#c4122f"/><circle cx="364.8" cy="281.4" r="1.3" fill="#c4122f"/><circle cx="370.5" cy="295.8" r="1.3" fill="#c4122f"/><circle cx="376.2" cy="285.1" r="1.3" fill="#c4122f"/><circle cx="387.4" cy="298.3" r="1.3" fill="#c4122f"/><circle cx="399.2" cy="303.5" r="1.3" fill="#c4122f"/>
<path d="M330.9 302.9 L333.1 303.2 L335.5 289.4 L341.5 278.3 L347.4 281.7 L353.5 280.2 L358.9 287.1 L364.8 284.8 L370.5 287.8 L376.2 302.5 L387.4 303.2 L399.2 302.5" fill="none" stroke="#5a2484" stroke-width="1.3" stroke-linejoin="round"/><circle cx="330.9" cy="302.9" r="1.3" fill="#5a2484"/><circle cx="333.1" cy="303.2" r="1.3" fill="#5a2484"/><circle cx="335.5" cy="289.4" r="1.3" fill="#5a2484"/><circle cx="341.5" cy="278.3" r="1.3" fill="#5a2484"/><circle cx="347.4" cy="281.7" r="1.3" fill="#5a2484"/><circle cx="353.5" cy="280.2" r="1.3" fill="#5a2484"/><circle cx="358.9" cy="287.1" r="1.3" fill="#5a2484"/><circle cx="364.8" cy="284.8" r="1.3" fill="#5a2484"/><circle cx="370.5" cy="287.8" r="1.3" fill="#5a2484"/><circle cx="376.2" cy="302.5" r="1.3" fill="#5a2484"/><circle cx="387.4" cy="303.2" r="1.3" fill="#5a2484"/><circle cx="399.2" cy="302.5" r="1.3" fill="#5a2484"/>
<path d="M330.9 413.1 L333.1 413.1 L335.5 413.1 L341.5 413.1 L347.4 413.1 L352.6 413.1 L358.4 413.1 L364.2 413.1 L369.5 413.1 L375.3 413.1 L386.6 413.1 L398.2 413.1" fill="none" stroke="#1d5b98" stroke-width="1.3" stroke-linejoin="round"/><circle cx="330.9" cy="413.1" r="1.3" fill="#1d5b98"/><circle cx="333.1" cy="413.1" r="1.3" fill="#1d5b98"/><circle cx="335.5" cy="413.1" r="1.3" fill="#1d5b98"/><circle cx="341.5" cy="413.1" r="1.3" fill="#1d5b98"/><circle cx="347.4" cy="413.1" r="1.3" fill="#1d5b98"/><circle cx="352.6" cy="413.1" r="1.3" fill="#1d5b98"/><circle cx="358.4" cy="413.1" r="1.3" fill="#1d5b98"/><circle cx="364.2" cy="413.1" r="1.3" fill="#1d5b98"/><circle cx="369.5" cy="413.1" r="1.3" fill="#1d5b98"/><circle cx="375.3" cy="413.1" r="1.3" fill="#1d5b98"/><circle cx="386.6" cy="413.1" r="1.3" fill="#1d5b98"/><circle cx="398.2" cy="413.1" r="1.3" fill="#1d5b98"/>
<path d="M330.9 413.1 L333.1 413.1 L335.5 413.1 L341.5 413.1 L347.4 413.1 L352.6 413.1 L358.4 413.1 L364.2 413.1 L369.5 413.1 L375.3 413.1 L386.6 413.1 L398.2 413.1" fill="none" stroke="#f7941d" stroke-width="1.3" stroke-linejoin="round"/><circle cx="330.9" cy="413.1" r="1.3" fill="#f7941d"/><circle cx="333.1" cy="413.1" r="1.3" fill="#f7941d"/><circle cx="335.5" cy="413.1" r="1.3" fill="#f7941d"/><circle cx="341.5" cy="413.1" r="1.3" fill="#f7941d"/><circle cx="347.4" cy="413.1" r="1.3" fill="#f7941d"/><circle cx="352.6" cy="413.1" r="1.3" fill="#f7941d"/><circle cx="358.4" cy="413.1" r="1.3" fill="#f7941d"/><circle cx="364.2" cy="413.1" r="1.3" fill="#f7941d"/><circle cx="369.5" cy="413.1" r="1.3" fill="#f7941d"/><circle cx="375.3" cy="413.1" r="1.3" fill="#f7941d"/><circle cx="386.6" cy="413.1" r="1.3" fill="#f7941d"/><circle cx="398.2" cy="413.1" r="1.3" fill="#f7941d"/>
<path d="M330.9 413.1 L333.1 413.1 L335.5 413.1 L341.5 413.1 L347.4 413.1 L352.6 409.6 L358.4 411.2 L364.2 408.3 L369.5 413.1 L375.3 413.1 L386.6 413.1 L398.2 413.1" fill="none" stroke="#3cb54a" stroke-width="1.3" stroke-linejoin="round"/><circle cx="330.9" cy="413.1" r="1.3" fill="#3cb54a"/><circle cx="333.1" cy="413.1" r="1.3" fill="#3cb54a"/><circle cx="335.5" cy="413.1" r="1.3" fill="#3cb54a"/><circle cx="341.5" cy="413.1" r="1.3" fill="#3cb54a"/><circle cx="347.4" cy="413.1" r="1.3" fill="#3cb54a"/><circle cx="352.6" cy="409.6" r="1.3" fill="#3cb54a"/><circle cx="358.4" cy="411.2" r="1.3" fill="#3cb54a"/><circle cx="364.2" cy="408.3" r="1.3" fill="#3cb54a"/><circle cx="369.5" cy="413.1" r="1.3" fill="#3cb54a"/><circle cx="375.3" cy="413.1" r="1.3" fill="#3cb54a"/><circle cx="386.6" cy="413.1" r="1.3" fill="#3cb54a"/><circle cx="398.2" cy="413.1" r="1.3" fill="#3cb54a"/>
<path d="M330.9 413.1 L333.1 413.1 L335.5 413.1 L341.5 413.1 L347.4 412.0 L352.6 403.8 L358.4 413.1 L364.2 413.1 L369.5 413.1 L375.3 413.1 L386.6 413.1 L398.2 413.1" fill="none" stroke="#c4122f" stroke-width="1.3" stroke-linejoin="round"/><circle cx="330.9" cy="413.1" r="1.3" fill="#c4122f"/><circle cx="333.1" cy="413.1" r="1.3" fill="#c4122f"/><circle cx="335.5" cy="413.1" r="1.3" fill="#c4122f"/><circle cx="341.5" cy="413.1" r="1.3" fill="#c4122f"/><circle cx="347.4" cy="412.0" r="1.3" fill="#c4122f"/><circle cx="352.6" cy="403.8" r="1.3" fill="#c4122f"/><circle cx="358.4" cy="413.1" r="1.3" fill="#c4122f"/><circle cx="364.2" cy="413.1" r="1.3" fill="#c4122f"/><circle cx="369.5" cy="413.1" r="1.3" fill="#c4122f"/><circle cx="375.3" cy="413.1" r="1.3" fill="#c4122f"/><circle cx="386.6" cy="413.1" r="1.3" fill="#c4122f"/><circle cx="398.2" cy="413.1" r="1.3" fill="#c4122f"/>
<path d="M330.5 408.3 L333.1 413.1 L335.5 413.1 L341.5 413.1 L347.4 413.1 L352.6 413.1 L358.4 413.1 L364.2 413.1 L369.5 413.1 L375.3 413.1 L386.6 413.1 L398.2 413.1" fill="none" stroke="#5a2484" stroke-width="1.3" stroke-linejoin="round"/><circle cx="330.5" cy="408.3" r="1.3" fill="#5a2484"/><circle cx="333.1" cy="413.1" r="1.3" fill="#5a2484"/><circle cx="335.5" cy="413.1" r="1.3" fill="#5a2484"/><circle cx="341.5" cy="413.1" r="1.3" fill="#5a2484"/><circle cx="347.4" cy="413.1" r="1.3" fill="#5a2484"/><circle cx="352.6" cy="413.1" r="1.3" fill="#5a2484"/><circle cx="358.4" cy="413.1" r="1.3" fill="#5a2484"/><circle cx="364.2" cy="413.1" r="1.3" fill="#5a2484"/><circle cx="369.5" cy="413.1" r="1.3" fill="#5a2484"/><circle cx="375.3" cy="413.1" r="1.3" fill="#5a2484"/><circle cx="386.6" cy="413.1" r="1.3" fill="#5a2484"/><circle cx="398.2" cy="413.1" r="1.3" fill="#5a2484"/>
<path d="M424.9 303.2 L427.5 298.6 L431.1 288.6 L438.3 276.3 L445.3 275.5 L452.5 274.8 L459.3 282.3 L466.8 285.4 L473.5 285.1 L480.3 288.5 L494.6 296.2 L509.2 293.4" fill="none" stroke="#1d5b98" stroke-width="1.3" stroke-linejoin="round"/><circle cx="424.9" cy="303.2" r="1.3" fill="#1d5b98"/><circle cx="427.5" cy="298.6" r="1.3" fill="#1d5b98"/><circle cx="431.1" cy="288.6" r="1.3" fill="#1d5b98"/><circle cx="438.3" cy="276.3" r="1.3" fill="#1d5b98"/><circle cx="445.3" cy="275.5" r="1.3" fill="#1d5b98"/><circle cx="452.5" cy="274.8" r="1.3" fill="#1d5b98"/><circle cx="459.3" cy="282.3" r="1.3" fill="#1d5b98"/><circle cx="466.8" cy="285.4" r="1.3" fill="#1d5b98"/><circle cx="473.5" cy="285.1" r="1.3" fill="#1d5b98"/><circle cx="480.3" cy="288.5" r="1.3" fill="#1d5b98"/><circle cx="494.6" cy="296.2" r="1.3" fill="#1d5b98"/><circle cx="509.2" cy="293.4" r="1.3" fill="#1d5b98"/>
<path d="M426.8 303.2 L431.1 303.2 L438.3 286.0 L445.3 299.2 L452.5 282.7 L459.3 294.3 L466.8 295.8 L473.5 296.9 L480.3 303.5 L494.6 303.1 L509.2 303.5" fill="none" stroke="#f7941d" stroke-width="1.3" stroke-linejoin="round"/><circle cx="426.8" cy="303.2" r="1.3" fill="#f7941d"/><circle cx="431.1" cy="303.2" r="1.3" fill="#f7941d"/><circle cx="438.3" cy="286.0" r="1.3" fill="#f7941d"/><circle cx="445.3" cy="299.2" r="1.3" fill="#f7941d"/><circle cx="452.5" cy="282.7" r="1.3" fill="#f7941d"/><circle cx="459.3" cy="294.3" r="1.3" fill="#f7941d"/><circle cx="466.8" cy="295.8" r="1.3" fill="#f7941d"/><circle cx="473.5" cy="296.9" r="1.3" fill="#f7941d"/><circle cx="480.3" cy="303.5" r="1.3" fill="#f7941d"/><circle cx="494.6" cy="303.1" r="1.3" fill="#f7941d"/><circle cx="509.2" cy="303.5" r="1.3" fill="#f7941d"/>
<path d="M424.9 303.2 L427.1 294.0 L431.1 280.5 L438.3 273.2 L445.3 275.5 L452.5 265.7 L459.3 278.5 L466.8 281.5 L473.5 284.2 L480.3 285.1 L494.6 286.2 L509.2 290.8" fill="none" stroke="#3cb54a" stroke-width="1.3" stroke-linejoin="round"/><circle cx="424.9" cy="303.2" r="1.3" fill="#3cb54a"/><circle cx="427.1" cy="294.0" r="1.3" fill="#3cb54a"/><circle cx="431.1" cy="280.5" r="1.3" fill="#3cb54a"/><circle cx="438.3" cy="273.2" r="1.3" fill="#3cb54a"/><circle cx="445.3" cy="275.5" r="1.3" fill="#3cb54a"/><circle cx="452.5" cy="265.7" r="1.3" fill="#3cb54a"/><circle cx="459.3" cy="278.5" r="1.3" fill="#3cb54a"/><circle cx="466.8" cy="281.5" r="1.3" fill="#3cb54a"/><circle cx="473.5" cy="284.2" r="1.3" fill="#3cb54a"/><circle cx="480.3" cy="285.1" r="1.3" fill="#3cb54a"/><circle cx="494.6" cy="286.2" r="1.3" fill="#3cb54a"/><circle cx="509.2" cy="290.8" r="1.3" fill="#3cb54a"/>
<path d="M424.9 302.9 L427.5 297.8 L431.1 281.7 L438.3 272.5 L445.3 270.5 L452.5 276.4 L459.3 280.8 L466.8 283.1 L473.5 284.2 L480.3 286.9 L494.6 292.8 L509.2 300.5" fill="none" stroke="#c4122f" stroke-width="1.3" stroke-linejoin="round"/><circle cx="424.9" cy="302.9" r="1.3" fill="#c4122f"/><circle cx="427.5" cy="297.8" r="1.3" fill="#c4122f"/><circle cx="431.1" cy="281.7" r="1.3" fill="#c4122f"/><circle cx="438.3" cy="272.5" r="1.3" fill="#c4122f"/><circle cx="445.3" cy="270.5" r="1.3" fill="#c4122f"/><circle cx="452.5" cy="276.4" r="1.3" fill="#c4122f"/><circle cx="459.3" cy="280.8" r="1.3" fill="#c4122f"/><circle cx="466.8" cy="283.1" r="1.3" fill="#c4122f"/><circle cx="473.5" cy="284.2" r="1.3" fill="#c4122f"/><circle cx="480.3" cy="286.9" r="1.3" fill="#c4122f"/><circle cx="494.6" cy="292.8" r="1.3" fill="#c4122f"/><circle cx="509.2" cy="300.5" r="1.3" fill="#c4122f"/>
<path d="M424.9 302.9 L427.5 297.8 L431.1 295.2 L438.3 296.8 L445.3 289.2 L452.5 289.7 L459.3 294.6 L466.8 303.5 L473.5 287.7 L480.3 299.5 L494.6 303.5 L509.2 302.0" fill="none" stroke="#5a2484" stroke-width="1.3" stroke-linejoin="round"/><circle cx="424.9" cy="302.9" r="1.3" fill="#5a2484"/><circle cx="427.5" cy="297.8" r="1.3" fill="#5a2484"/><circle cx="431.1" cy="295.2" r="1.3" fill="#5a2484"/><circle cx="438.3" cy="296.8" r="1.3" fill="#5a2484"/><circle cx="445.3" cy="289.2" r="1.3" fill="#5a2484"/><circle cx="452.5" cy="289.7" r="1.3" fill="#5a2484"/><circle cx="459.3" cy="294.6" r="1.3" fill="#5a2484"/><circle cx="466.8" cy="303.5" r="1.3" fill="#5a2484"/><circle cx="473.5" cy="287.7" r="1.3" fill="#5a2484"/><circle cx="480.3" cy="299.5" r="1.3" fill="#5a2484"/><circle cx="494.6" cy="303.5" r="1.3" fill="#5a2484"/><circle cx="509.2" cy="302.0" r="1.3" fill="#5a2484"/>
<path d="M424.5 414.1 L427.6 414.1 L431.1 414.1 L438.0 414.1 L445.2 414.1 L452.5 414.1 L459.4 414.1 L466.4 414.1 L473.3 414.1 L480.5 414.1 L494.0 414.1 L501.3 414.1" fill="none" stroke="#1d5b98" stroke-width="1.3" stroke-linejoin="round"/><circle cx="424.5" cy="414.1" r="1.3" fill="#1d5b98"/><circle cx="427.6" cy="414.1" r="1.3" fill="#1d5b98"/><circle cx="431.1" cy="414.1" r="1.3" fill="#1d5b98"/><circle cx="438.0" cy="414.1" r="1.3" fill="#1d5b98"/><circle cx="445.2" cy="414.1" r="1.3" fill="#1d5b98"/><circle cx="452.5" cy="414.1" r="1.3" fill="#1d5b98"/><circle cx="459.4" cy="414.1" r="1.3" fill="#1d5b98"/><circle cx="466.4" cy="414.1" r="1.3" fill="#1d5b98"/><circle cx="473.3" cy="414.1" r="1.3" fill="#1d5b98"/><circle cx="480.5" cy="414.1" r="1.3" fill="#1d5b98"/><circle cx="494.0" cy="414.1" r="1.3" fill="#1d5b98"/><circle cx="501.3" cy="414.1" r="1.3" fill="#1d5b98"/>
<path d="M424.5 414.1 L427.6 414.1 L431.1 414.1 L438.0 414.1 L445.2 414.1 L452.5 414.1 L459.4 414.1 L466.4 414.1 L473.3 414.1 L480.5 414.1 L494.0 414.1 L501.3 414.1" fill="none" stroke="#c4122f" stroke-width="1.3" stroke-linejoin="round"/><circle cx="424.5" cy="414.1" r="1.3" fill="#c4122f"/><circle cx="427.6" cy="414.1" r="1.3" fill="#c4122f"/><circle cx="431.1" cy="414.1" r="1.3" fill="#c4122f"/><circle cx="438.0" cy="414.1" r="1.3" fill="#c4122f"/><circle cx="445.2" cy="414.1" r="1.3" fill="#c4122f"/><circle cx="452.5" cy="414.1" r="1.3" fill="#c4122f"/><circle cx="459.4" cy="414.1" r="1.3" fill="#c4122f"/><circle cx="466.4" cy="414.1" r="1.3" fill="#c4122f"/><circle cx="473.3" cy="414.1" r="1.3" fill="#c4122f"/><circle cx="480.5" cy="414.1" r="1.3" fill="#c4122f"/><circle cx="494.0" cy="414.1" r="1.3" fill="#c4122f"/><circle cx="501.3" cy="414.1" r="1.3" fill="#c4122f"/>
<path d="M424.5 414.1 L427.6 414.1 L431.1 414.1 L438.0 414.1 L445.2 414.1 L452.5 414.1 L459.4 414.1 L466.4 414.1 L473.3 408.2 L480.5 414.1 L494.0 414.1 L501.3 414.1" fill="none" stroke="#5a2484" stroke-width="1.3" stroke-linejoin="round"/><circle cx="424.5" cy="414.1" r="1.3" fill="#5a2484"/><circle cx="427.6" cy="414.1" r="1.3" fill="#5a2484"/><circle cx="431.1" cy="414.1" r="1.3" fill="#5a2484"/><circle cx="438.0" cy="414.1" r="1.3" fill="#5a2484"/><circle cx="445.2" cy="414.1" r="1.3" fill="#5a2484"/><circle cx="452.5" cy="414.1" r="1.3" fill="#5a2484"/><circle cx="459.4" cy="414.1" r="1.3" fill="#5a2484"/><circle cx="466.4" cy="414.1" r="1.3" fill="#5a2484"/><circle cx="473.3" cy="408.2" r="1.3" fill="#5a2484"/><circle cx="480.5" cy="414.1" r="1.3" fill="#5a2484"/><circle cx="494.0" cy="414.1" r="1.3" fill="#5a2484"/><circle cx="501.3" cy="414.1" r="1.3" fill="#5a2484"/>
<text x="57.5" y="444.5" font-size="9.8" fill="#222" stroke="#222" stroke-width="0.1" text-anchor="start" font-weight="normal" textLength="42" lengthAdjust="spacingAndGlyphs" >Time (hours)</text>
<path d="M103.7 440.8 H507" stroke="#222" stroke-width="1.2"/>
<path d="M506.5 438.2 L512.6 440.8 L506.5 443.4 Z" fill="#111"/>
<text x="18" y="462.2" font-size="8.8" fill="#222" stroke="#222" stroke-width="0.1" text-anchor="start" font-weight="normal" textLength="22" lengthAdjust="spacingAndGlyphs" >CAR-T:</text>
<path d="M47 459 H59" stroke="#1d5b98" stroke-width="1.6"/>
<text x="64" y="462.2" font-size="8.8" fill="#222" stroke="#222" stroke-width="0.1" text-anchor="start" font-weight="normal" textLength="69" lengthAdjust="spacingAndGlyphs" >CD19.28ζ/CD22.BBζ</text>
<path d="M145.5 459 H156.3" stroke="#f7941d" stroke-width="1.6"/>
<text x="161.5" y="462.2" font-size="8.8" fill="#222" stroke="#222" stroke-width="0.1" text-anchor="start" font-weight="normal" textLength="69" lengthAdjust="spacingAndGlyphs" >CD19.BBζ/CD22.28ζ</text>
<path d="M243 459 H254.3" stroke="#3cb54a" stroke-width="1.6"/>
<text x="259" y="462.2" font-size="8.8" fill="#222" stroke="#222" stroke-width="0.1" text-anchor="start" font-weight="normal" textLength="69" lengthAdjust="spacingAndGlyphs" >CD19.BBζ/CD22.BBζ</text>
<path d="M342 459 H353" stroke="#c4122f" stroke-width="1.6"/>
<text x="358" y="462.2" font-size="8.8" fill="#222" stroke="#222" stroke-width="0.1" text-anchor="start" font-weight="normal" textLength="69" lengthAdjust="spacingAndGlyphs" >CD19.28ζ/CD22.28ζ</text>
<path d="M438 459 H450" stroke="#5a2484" stroke-width="1.6"/>
<text x="455" y="462.2" font-size="8.8" fill="#222" stroke="#222" stroke-width="0.1" text-anchor="start" font-weight="normal" textLength="44" lengthAdjust="spacingAndGlyphs" >CD19.22.BBζ</text>
<text x="7" y="489.6" font-size="12.5" fill="#111" text-anchor="start" font-weight="bold" >C</text>
<text x="50" y="490.9" font-size="9.2" fill="#222" stroke="#222" stroke-width="0.1" text-anchor="start" font-weight="normal" textLength="43.8" lengthAdjust="spacingAndGlyphs" >19-28/22-BB</text>
<text x="105" y="490.9" font-size="9.2" fill="#222" stroke="#222" stroke-width="0.1" text-anchor="start" font-weight="normal" textLength="44.5" lengthAdjust="spacingAndGlyphs" >19-BB/22-28</text>
<text x="159.7" y="490.9" font-size="9.2" fill="#222" stroke="#222" stroke-width="0.1" text-anchor="start" font-weight="normal" textLength="43.3" lengthAdjust="spacingAndGlyphs" >19-28/22-28</text>
<text x="211.8" y="490.9" font-size="9.2" fill="#222" stroke="#222" stroke-width="0.1" text-anchor="start" font-weight="normal" textLength="44.8" lengthAdjust="spacingAndGlyphs" >19-BB/22-BB</text>
<text x="45.2" y="511.25" font-size="9.2" fill="#222" stroke="#222" stroke-width="0.1" text-anchor="end" textLength="20.5" lengthAdjust="spacingAndGlyphs">Day 3</text>
<text x="45.2" y="548.00" font-size="9.2" fill="#222" stroke="#222" stroke-width="0.1" text-anchor="end" textLength="20.5" lengthAdjust="spacingAndGlyphs">Day 6</text>
<text x="45.2" y="585.40" font-size="9.2" fill="#222" stroke="#222" stroke-width="0.1" text-anchor="end" textLength="25.6" lengthAdjust="spacingAndGlyphs">Day 10</text>
<text x="45.2" y="622.30" font-size="9.2" fill="#222" stroke="#222" stroke-width="0.1" text-anchor="end" textLength="25.6" lengthAdjust="spacingAndGlyphs">Day 13</text>
<text x="45.2" y="659.50" font-size="9.2" fill="#222" stroke="#222" stroke-width="0.1" text-anchor="end" textLength="25.6" lengthAdjust="spacingAndGlyphs">Day 17</text>
<rect x="48.0" y="493.6" width="49.2" height="32.5" fill="#242424"/>
<g filter="url(#ftx)"><g transform="translate(0 493.6) scale(1 0.93) translate(0 -493.6)"><path d="M52.86 517.0 L53.16 528.12" stroke="#a8a8a8" stroke-width="1.0"/><path d="M49.06 516.0 l-1.0 1.8 M56.66 516.0 l1.0 1.8" stroke="#a0a0a0" stroke-width="0.8"/><path transform="translate(52.86 494.0)" d="M-0.5 0 L0.5 0 C1.2 0.6 2.2 2.6 2.7 4 C3.2 5.2 3.7 6 3.8 7.5 L4.1 20.5 C4.2 22.5 3.6 23.6 0 23.8 C-3.6 23.6 -4.2 22.5 -4.1 20.5 L-3.8 7.5 C-3.7 6 -3.2 5.2 -2.7 4 C-2.2 2.6 -1.2 0.6 -0.5 0 Z" fill="url(#gM)"/><path d="M62.58 517.0 L62.879999999999995 528.12" stroke="#a8a8a8" stroke-width="1.0"/><path d="M58.78 516.0 l-1.0 1.8 M66.38 516.0 l1.0 1.8" stroke="#a0a0a0" stroke-width="0.8"/><path transform="translate(62.58 494.0)" d="M-0.5 0 L0.5 0 C1.2 0.6 2.2 2.6 2.7 4 C3.2 5.2 3.7 6 3.8 7.5 L4.1 20.5 C4.2 22.5 3.6 23.6 0 23.8 C-3.6 23.6 -4.2 22.5 -4.1 20.5 L-3.8 7.5 C-3.7 6 -3.2 5.2 -2.7 4 C-2.2 2.6 -1.2 0.6 -0.5 0 Z" fill="url(#gM)"/><path d="M72.3 517.0 L72.6 528.12" stroke="#a8a8a8" stroke-width="1.0"/><path d="M68.5 516.0 l-1.0 1.8 M76.1 516.0 l1.0 1.8" stroke="#a0a0a0" stroke-width="0.8"/><path transform="translate(72.3 494.0)" d="M-0.5 0 L0.5 0 C1.2 0.6 2.2 2.6 2.7 4 C3.2 5.2 3.7 6 3.8 7.5 L4.1 20.5 C4.2 22.5 3.6 23.6 0 23.8 C-3.6 23.6 -4.2 22.5 -4.1 20.5 L-3.8 7.5 C-3.7 6 -3.2 5.2 -2.7 4 C-2.2 2.6 -1.2 0.6 -0.5 0 Z" fill="url(#gM)"/><path d="M82.01 517.0 L82.31 528.12" stroke="#a8a8a8" stroke-width="1.0"/><path d="M78.21000000000001 516.0 l-1.0 1.8 M85.81 516.0 l1.0 1.8" stroke="#a0a0a0" stroke-width="0.8"/><path transform="translate(82.01 494.0)" d="M-0.5 0 L0.5 0 C1.2 0.6 2.2 2.6 2.7 4 C3.2 5.2 3.7 6 3.8 7.5 L4.1 20.5 C4.2 22.5 3.6 23.6 0 23.8 C-3.6 23.6 -4.2 22.5 -4.1 20.5 L-3.8 7.5 C-3.7 6 -3.2 5.2 -2.7 4 C-2.2 2.6 -1.2 0.6 -0.5 0 Z" fill="url(#gM)"/><path d="M91.73 517.0 L92.03 528.12" stroke="#a8a8a8" stroke-width="1.0"/><path d="M87.93 516.0 l-1.0 1.8 M95.53 516.0 l1.0 1.8" stroke="#a0a0a0" stroke-width="0.8"/><path transform="translate(91.73 494.0)" d="M-0.5 0 L0.5 0 C1.2 0.6 2.2 2.6 2.7 4 C3.2 5.2 3.7 6 3.8 7.5 L4.1 20.5 C4.2 22.5 3.6 23.6 0 23.8 C-3.6 23.6 -4.2 22.5 -4.1 20.5 L-3.8 7.5 C-3.7 6 -3.2 5.2 -2.7 4 C-2.2 2.6 -1.2 0.6 -0.5 0 Z" fill="url(#gM)"/></g></g>
<g filter="url(#fb)"><g transform="translate(0 493.6) scale(1 0.93) translate(0 -493.6)"><ellipse cx="52.86" cy="495.6" rx="1.5" ry="1.4" fill="#5428e6"/><ellipse cx="52.86" cy="504.0" rx="4.3" ry="6.5" fill="#8a70e8" opacity="0.55"/><path d="M48.96 500.5 Q52.86 497.2 56.76 500.5 L56.96 507.5 Q52.86 511.5 48.76 507.5 Z" fill="#5428e6"/><ellipse cx="49.36" cy="514.3" rx="1.5" ry="2.1" fill="#5428e6"/><ellipse cx="56.36" cy="514.3" rx="1.5" ry="2.1" fill="#5428e6"/><ellipse cx="62.58" cy="504.0" rx="4.3" ry="6.5" fill="#8a70e8" opacity="0.55"/><path d="M58.68 500.5 Q62.58 497.2 66.48 500.5 L66.67999999999999 507.5 Q62.58 511.5 58.48 507.5 Z" fill="#5428e6"/><ellipse cx="59.08" cy="514.3" rx="1.5" ry="2.1" fill="#5428e6"/><ellipse cx="66.08" cy="514.3" rx="1.5" ry="2.1" fill="#5428e6"/><ellipse cx="72.3" cy="504.0" rx="4.3" ry="6.5" fill="#8a70e8" opacity="0.55"/><path d="M68.39999999999999 500.5 Q72.3 497.2 76.2 500.5 L76.39999999999999 507.5 Q72.3 511.5 68.2 507.5 Z" fill="#5428e6"/><ellipse cx="68.8" cy="514.3" rx="1.5" ry="2.1" fill="#5428e6"/><ellipse cx="75.8" cy="514.3" rx="1.5" ry="2.1" fill="#5428e6"/><ellipse cx="72.3" cy="515.0" rx="1.8" ry="1.5" fill="#5428e6"/><ellipse cx="82.01" cy="504.0" rx="4.3" ry="6.5" fill="#8a70e8" opacity="0.55"/><path d="M78.11 500.5 Q82.01 497.2 85.91000000000001 500.5 L86.11 507.5 Q82.01 511.5 77.91000000000001 507.5 Z" fill="#5428e6"/><ellipse cx="78.51" cy="514.3" rx="1.5" ry="2.1" fill="#5428e6"/><ellipse cx="85.51" cy="514.3" rx="1.5" ry="2.1" fill="#5428e6"/><ellipse cx="91.73" cy="504.0" rx="4.3" ry="6.5" fill="#8a70e8" opacity="0.55"/><path d="M87.83 500.5 Q91.73 497.2 95.63000000000001 500.5 L95.83 507.5 Q91.73 511.5 87.63000000000001 507.5 Z" fill="#5428e6"/><ellipse cx="88.23" cy="514.3" rx="1.5" ry="2.1" fill="#5428e6"/><ellipse cx="95.23" cy="514.3" rx="1.5" ry="2.1" fill="#5428e6"/></g></g>
<rect x="102.6" y="493.6" width="49.2" height="32.5" fill="#242424"/>
<g filter="url(#ftx)"><g transform="translate(0 493.6) scale(1 0.93) translate(0 -493.6)"><path d="M107.46 517.0 L107.75999999999999 528.12" stroke="#a8a8a8" stroke-width="1.0"/><path d="M103.66 516.0 l-1.0 1.8 M111.25999999999999 516.0 l1.0 1.8" stroke="#a0a0a0" stroke-width="0.8"/><path transform="translate(107.46 494.0)" d="M-0.5 0 L0.5 0 C1.2 0.6 2.2 2.6 2.7 4 C3.2 5.2 3.7 6 3.8 7.5 L4.1 20.5 C4.2 22.5 3.6 23.6 0 23.8 C-3.6 23.6 -4.2 22.5 -4.1 20.5 L-3.8 7.5 C-3.7 6 -3.2 5.2 -2.7 4 C-2.2 2.6 -1.2 0.6 -0.5 0 Z" fill="url(#gM)"/><path d="M117.18 517.0 L117.48 528.12" stroke="#a8a8a8" stroke-width="1.0"/><path d="M113.38000000000001 516.0 l-1.0 1.8 M120.98 516.0 l1.0 1.8" stroke="#a0a0a0" stroke-width="0.8"/><path transform="translate(117.18 494.0)" d="M-0.5 0 L0.5 0 C1.2 0.6 2.2 2.6 2.7 4 C3.2 5.2 3.7 6 3.8 7.5 L4.1 20.5 C4.2 22.5 3.6 23.6 0 23.8 C-3.6 23.6 -4.2 22.5 -4.1 20.5 L-3.8 7.5 C-3.7 6 -3.2 5.2 -2.7 4 C-2.2 2.6 -1.2 0.6 -0.5 0 Z" fill="url(#gM)"/><path d="M126.9 517.0 L127.2 528.12" stroke="#a8a8a8" stroke-width="1.0"/><path d="M123.10000000000001 516.0 l-1.0 1.8 M130.70000000000002 516.0 l1.0 1.8" stroke="#a0a0a0" stroke-width="0.8"/><path transform="translate(126.9 494.0)" d="M-0.5 0 L0.5 0 C1.2 0.6 2.2 2.6 2.7 4 C3.2 5.2 3.7 6 3.8 7.5 L4.1 20.5 C4.2 22.5 3.6 23.6 0 23.8 C-3.6 23.6 -4.2 22.5 -4.1 20.5 L-3.8 7.5 C-3.7 6 -3.2 5.2 -2.7 4 C-2.2 2.6 -1.2 0.6 -0.5 0 Z" fill="url(#gM)"/><path d="M136.61 517.0 L136.91000000000003 528.12" stroke="#a8a8a8" stroke-width="1.0"/><path d="M132.81 516.0 l-1.0 1.8 M140.41000000000003 516.0 l1.0 1.8" stroke="#a0a0a0" stroke-width="0.8"/><path transform="translate(136.61 494.0)" d="M-0.5 0 L0.5 0 C1.2 0.6 2.2 2.6 2.7 4 C3.2 5.2 3.7 6 3.8 7.5 L4.1 20.5 C4.2 22.5 3.6 23.6 0 23.8 C-3.6 23.6 -4.2 22.5 -4.1 20.5 L-3.8 7.5 C-3.7 6 -3.2 5.2 -2.7 4 C-2.2 2.6 -1.2 0.6 -0.5 0 Z" fill="url(#gM)"/><path d="M146.33 517.0 L146.63000000000002 528.12" stroke="#a8a8a8" stroke-width="1.0"/><path d="M142.53 516.0 l-1.0 1.8 M150.13000000000002 516.0 l1.0 1.8" stroke="#a0a0a0" stroke-width="0.8"/><path transform="translate(146.33 494.0)" d="M-0.5 0 L0.5 0 C1.2 0.6 2.2 2.6 2.7 4 C3.2 5.2 3.7 6 3.8 7.5 L4.1 20.5 C4.2 22.5 3.6 23.6 0 23.8 C-3.6 23.6 -4.2 22.5 -4.1 20.5 L-3.8 7.5 C-3.7 6 -3.2 5.2 -2.7 4 C-2.2 2.6 -1.2 0.6 -0.5 0 Z" fill="url(#gM)"/></g></g>
<g filter="url(#fb)"><g transform="translate(0 493.6) scale(1 0.93) translate(0 -493.6)"><ellipse cx="107.46" cy="504.0" rx="4.3" ry="6.5" fill="#8a70e8" opacity="0.55"/><path d="M103.55999999999999 500.5 Q107.46 497.2 111.36 500.5 L111.55999999999999 507.5 Q107.46 511.5 103.36 507.5 Z" fill="#5428e6"/><ellipse cx="103.96" cy="514.3" rx="1.5" ry="2.1" fill="#5428e6"/><ellipse cx="110.96" cy="514.3" rx="1.5" ry="2.1" fill="#5428e6"/><ellipse cx="117.18" cy="506.2" rx="4.3" ry="3.8" fill="#8a70e8" opacity="0.5"/><ellipse cx="117.18" cy="506.2" rx="4.0" ry="2.7" fill="#5428e6"/><ellipse cx="113.68" cy="514.3" rx="1.5" ry="2.1" fill="#5428e6"/><ellipse cx="120.68" cy="514.3" rx="1.5" ry="2.1" fill="#5428e6"/><ellipse cx="126.9" cy="504.0" rx="4.3" ry="6.5" fill="#8a70e8" opacity="0.55"/><path d="M123.0 500.5 Q126.9 497.2 130.8 500.5 L131.0 507.5 Q126.9 511.5 122.80000000000001 507.5 Z" fill="#5428e6"/><ellipse cx="123.4" cy="514.3" rx="1.5" ry="2.1" fill="#5428e6"/><ellipse cx="130.4" cy="514.3" rx="1.5" ry="2.1" fill="#5428e6"/><ellipse cx="136.61" cy="504.0" rx="4.3" ry="6.5" fill="#8a70e8" opacity="0.55"/><path d="M132.71 500.5 Q136.61 497.2 140.51000000000002 500.5 L140.71 507.5 Q136.61 511.5 132.51000000000002 507.5 Z" fill="#5428e6"/><ellipse cx="133.11" cy="514.3" rx="1.5" ry="2.1" fill="#5428e6"/><ellipse cx="140.11" cy="514.3" rx="1.5" ry="2.1" fill="#5428e6"/><ellipse cx="146.33" cy="506.2" rx="4.3" ry="3.8" fill="#8a70e8" opacity="0.5"/><ellipse cx="146.33" cy="506.2" rx="4.0" ry="2.7" fill="#5428e6"/><ellipse cx="142.83" cy="514.3" rx="1.5" ry="2.1" fill="#5428e6"/></g></g>
<rect x="157.0" y="493.6" width="48.8" height="32.5" fill="#242424"/>
<g filter="url(#ftx)"><g transform="translate(0 493.6) scale(1 0.93) translate(0 -493.6)"><path d="M161.82 517.0 L162.12 528.12" stroke="#a8a8a8" stroke-width="1.0"/><path d="M158.01999999999998 516.0 l-1.0 1.8 M165.62 516.0 l1.0 1.8" stroke="#a0a0a0" stroke-width="0.8"/><path transform="translate(161.82 494.0)" d="M-0.5 0 L0.5 0 C1.2 0.6 2.2 2.6 2.7 4 C3.2 5.2 3.7 6 3.8 7.5 L4.1 20.5 C4.2 22.5 3.6 23.6 0 23.8 C-3.6 23.6 -4.2 22.5 -4.1 20.5 L-3.8 7.5 C-3.7 6 -3.2 5.2 -2.7 4 C-2.2 2.6 -1.2 0.6 -0.5 0 Z" fill="url(#gM)"/><path d="M171.46 517.0 L171.76000000000002 528.12" stroke="#a8a8a8" stroke-width="1.0"/><path d="M167.66 516.0 l-1.0 1.8 M175.26000000000002 516.0 l1.0 1.8" stroke="#a0a0a0" stroke-width="0.8"/><path transform="translate(171.46 494.0)" d="M-0.5 0 L0.5 0 C1.2 0.6 2.2 2.6 2.7 4 C3.2 5.2 3.7 6 3.8 7.5 L4.1 20.5 C4.2 22.5 3.6 23.6 0 23.8 C-3.6 23.6 -4.2 22.5 -4.1 20.5 L-3.8 7.5 C-3.7 6 -3.2 5.2 -2.7 4 C-2.2 2.6 -1.2 0.6 -0.5 0 Z" fill="url(#gM)"/><path d="M181.1 517.0 L181.4 528.12" stroke="#a8a8a8" stroke-width="1.0"/><path d="M177.29999999999998 516.0 l-1.0 1.8 M184.9 516.0 l1.0 1.8" stroke="#a0a0a0" stroke-width="0.8"/><path transform="translate(181.1 494.0)" d="M-0.5 0 L0.5 0 C1.2 0.6 2.2 2.6 2.7 4 C3.2 5.2 3.7 6 3.8 7.5 L4.1 20.5 C4.2 22.5 3.6 23.6 0 23.8 C-3.6 23.6 -4.2 22.5 -4.1 20.5 L-3.8 7.5 C-3.7 6 -3.2 5.2 -2.7 4 C-2.2 2.6 -1.2 0.6 -0.5 0 Z" fill="url(#gM)"/><path d="M190.74 517.0 L191.04000000000002 528.12" stroke="#a8a8a8" stroke-width="1.0"/><path d="M186.94 516.0 l-1.0 1.8 M194.54000000000002 516.0 l1.0 1.8" stroke="#a0a0a0" stroke-width="0.8"/><path transform="translate(190.74 494.0)" d="M-0.5 0 L0.5 0 C1.2 0.6 2.2 2.6 2.7 4 C3.2 5.2 3.7 6 3.8 7.5 L4.1 20.5 C4.2 22.5 3.6 23.6 0 23.8 C-3.6 23.6 -4.2 22.5 -4.1 20.5 L-3.8 7.5 C-3.7 6 -3.2 5.2 -2.7 4 C-2.2 2.6 -1.2 0.6 -0.5 0 Z" fill="url(#gM)"/><path d="M200.38 517.0 L200.68 528.12" stroke="#a8a8a8" stroke-width="1.0"/><path d="M196.57999999999998 516.0 l-1.0 1.8 M204.18 516.0 l1.0 1.8" stroke="#a0a0a0" stroke-width="0.8"/><path transform="translate(200.38 494.0)" d="M-0.5 0 L0.5 0 C1.2 0.6 2.2 2.6 2.7 4 C3.2 5.2 3.7 6 3.8 7.5 L4.1 20.5 C4.2 22.5 3.6 23.6 0 23.8 C-3.6 23.6 -4.2 22.5 -4.1 20.5 L-3.8 7.5 C-3.7 6 -3.2 5.2 -2.7 4 C-2.2 2.6 -1.2 0.6 -0.5 0 Z" fill="url(#gM)"/></g></g>
<g filter="url(#fb)"><g transform="translate(0 493.6) scale(1 0.93) translate(0 -493.6)"><ellipse cx="161.82" cy="504.0" rx="4.3" ry="6.5" fill="#8a70e8" opacity="0.55"/><path d="M157.92 500.5 Q161.82 497.2 165.72 500.5 L165.92 507.5 Q161.82 511.5 157.72 507.5 Z" fill="#5428e6"/><ellipse cx="158.32" cy="514.3" rx="1.5" ry="2.1" fill="#5428e6"/><ellipse cx="165.32" cy="514.3" rx="1.5" ry="2.1" fill="#5428e6"/><ellipse cx="171.46" cy="506.2" rx="4.3" ry="3.8" fill="#8a70e8" opacity="0.5"/><ellipse cx="171.46" cy="506.2" rx="4.0" ry="2.7" fill="#5428e6"/><ellipse cx="167.96" cy="514.3" rx="1.5" ry="2.1" fill="#5428e6"/><ellipse cx="174.96" cy="514.3" rx="1.5" ry="2.1" fill="#5428e6"/><ellipse cx="181.1" cy="504.0" rx="4.3" ry="6.5" fill="#8a70e8" opacity="0.55"/><path d="M177.2 500.5 Q181.1 497.2 185.0 500.5 L185.2 507.5 Q181.1 511.5 177.0 507.5 Z" fill="#5428e6"/><ellipse cx="177.6" cy="514.3" rx="1.5" ry="2.1" fill="#5428e6"/><ellipse cx="184.6" cy="514.3" rx="1.5" ry="2.1" fill="#5428e6"/><ellipse cx="190.74" cy="504.0" rx="4.3" ry="6.5" fill="#8a70e8" opacity="0.55"/><path d="M186.84 500.5 Q190.74 497.2 194.64000000000001 500.5 L194.84 507.5 Q190.74 511.5 186.64000000000001 507.5 Z" fill="#5428e6"/><ellipse cx="187.24" cy="514.3" rx="1.5" ry="2.1" fill="#5428e6"/><ellipse cx="194.24" cy="514.3" rx="1.5" ry="2.1" fill="#5428e6"/><ellipse cx="200.38" cy="504.0" rx="4.3" ry="6.5" fill="#8a70e8" opacity="0.55"/><path d="M196.48 500.5 Q200.38 497.2 204.28 500.5 L204.48 507.5 Q200.38 511.5 196.28 507.5 Z" fill="#5428e6"/><ellipse cx="196.88" cy="514.3" rx="1.5" ry="2.1" fill="#5428e6"/><ellipse cx="203.88" cy="514.3" rx="1.5" ry="2.1" fill="#5428e6"/></g></g>
<rect x="211.0" y="493.6" width="47.8" height="32.5" fill="#242424"/>
<g filter="url(#ftx)"><g transform="translate(0 493.6) scale(1 0.93) translate(0 -493.6)"><path d="M215.72 517.0 L216.02 528.12" stroke="#a8a8a8" stroke-width="1.0"/><path d="M211.92 516.0 l-1.0 1.8 M219.52 516.0 l1.0 1.8" stroke="#a0a0a0" stroke-width="0.8"/><path transform="translate(215.72 494.0)" d="M-0.5 0 L0.5 0 C1.2 0.6 2.2 2.6 2.7 4 C3.2 5.2 3.7 6 3.8 7.5 L4.1 20.5 C4.2 22.5 3.6 23.6 0 23.8 C-3.6 23.6 -4.2 22.5 -4.1 20.5 L-3.8 7.5 C-3.7 6 -3.2 5.2 -2.7 4 C-2.2 2.6 -1.2 0.6 -0.5 0 Z" fill="url(#gM)"/><path d="M225.16 517.0 L225.46 528.12" stroke="#a8a8a8" stroke-width="1.0"/><path d="M221.35999999999999 516.0 l-1.0 1.8 M228.96 516.0 l1.0 1.8" stroke="#a0a0a0" stroke-width="0.8"/><path transform="translate(225.16 494.0)" d="M-0.5 0 L0.5 0 C1.2 0.6 2.2 2.6 2.7 4 C3.2 5.2 3.7 6 3.8 7.5 L4.1 20.5 C4.2 22.5 3.6 23.6 0 23.8 C-3.6 23.6 -4.2 22.5 -4.1 20.5 L-3.8 7.5 C-3.7 6 -3.2 5.2 -2.7 4 C-2.2 2.6 -1.2 0.6 -0.5 0 Z" fill="url(#gM)"/><path d="M234.6 517.0 L234.9 528.12" stroke="#a8a8a8" stroke-width="1.0"/><path d="M230.79999999999998 516.0 l-1.0 1.8 M238.4 516.0 l1.0 1.8" stroke="#a0a0a0" stroke-width="0.8"/><path transform="translate(234.6 494.0)" d="M-0.5 0 L0.5 0 C1.2 0.6 2.2 2.6 2.7 4 C3.2 5.2 3.7 6 3.8 7.5 L4.1 20.5 C4.2 22.5 3.6 23.6 0 23.8 C-3.6 23.6 -4.2 22.5 -4.1 20.5 L-3.8 7.5 C-3.7 6 -3.2 5.2 -2.7 4 C-2.2 2.6 -1.2 0.6 -0.5 0 Z" fill="url(#gM)"/><path d="M244.05 517.0 L244.35000000000002 528.12" stroke="#a8a8a8" stroke-width="1.0"/><path d="M240.25 516.0 l-1.0 1.8 M247.85000000000002 516.0 l1.0 1.8" stroke="#a0a0a0" stroke-width="0.8"/><path transform="translate(244.05 494.0)" d="M-0.5 0 L0.5 0 C1.2 0.6 2.2 2.6 2.7 4 C3.2 5.2 3.7 6 3.8 7.5 L4.1 20.5 C4.2 22.5 3.6 23.6 0 23.8 C-3.6 23.6 -4.2 22.5 -4.1 20.5 L-3.8 7.5 C-3.7 6 -3.2 5.2 -2.7 4 C-2.2 2.6 -1.2 0.6 -0.5 0 Z" fill="url(#gM)"/><path d="M253.49 517.0 L253.79000000000002 528.12" stroke="#a8a8a8" stroke-width="1.0"/><path d="M249.69 516.0 l-1.0 1.8 M257.29 516.0 l1.0 1.8" stroke="#a0a0a0" stroke-width="0.8"/><path transform="translate(253.49 494.0)" d="M-0.5 0 L0.5 0 C1.2 0.6 2.2 2.6 2.7 4 C3.2 5.2 3.7 6 3.8 7.5 L4.1 20.5 C4.2 22.5 3.6 23.6 0 23.8 C-3.6 23.6 -4.2 22.5 -4.1 20.5 L-3.8 7.5 C-3.7 6 -3.2 5.2 -2.7 4 C-2.2 2.6 -1.2 0.6 -0.5 0 Z" fill="url(#gM)"/></g></g>
<g filter="url(#fb)"><g transform="translate(0 493.6) scale(1 0.93) translate(0 -493.6)"><ellipse cx="215.72" cy="504.0" rx="4.3" ry="6.5" fill="#8a70e8" opacity="0.55"/><path d="M211.82 500.5 Q215.72 497.2 219.62 500.5 L219.82 507.5 Q215.72 511.5 211.62 507.5 Z" fill="#5428e6"/><ellipse cx="212.22" cy="514.3" rx="1.5" ry="2.1" fill="#5428e6"/><ellipse cx="219.22" cy="514.3" rx="1.5" ry="2.1" fill="#5428e6"/><ellipse cx="225.16" cy="506.2" rx="4.3" ry="3.8" fill="#8a70e8" opacity="0.5"/><ellipse cx="225.16" cy="506.2" rx="4.0" ry="2.7" fill="#5428e6"/><ellipse cx="234.6" cy="506.2" rx="4.3" ry="3.8" fill="#8a70e8" opacity="0.5"/><ellipse cx="234.6" cy="506.2" rx="4.0" ry="2.7" fill="#5428e6"/><ellipse cx="244.05" cy="506.2" rx="4.3" ry="3.8" fill="#8a70e8" opacity="0.5"/><ellipse cx="244.05" cy="506.2" rx="4.0" ry="2.7" fill="#5428e6"/><ellipse cx="253.49" cy="506.2" rx="2.6" ry="1.8" fill="#6636e0"/></g></g>
<rect x="48.0" y="529.6" width="49.2" height="32.5" fill="#242424"/>
<g filter="url(#ftx)"><g transform="translate(0 529.6) scale(1 0.93) translate(0 -529.6)"><path d="M52.86 553.0 L53.16 564.12" stroke="#a8a8a8" stroke-width="1.0"/><path d="M49.06 552.0 l-1.0 1.8 M56.66 552.0 l1.0 1.8" stroke="#a0a0a0" stroke-width="0.8"/><path transform="translate(52.86 530.0)" d="M-0.5 0 L0.5 0 C1.2 0.6 2.2 2.6 2.7 4 C3.2 5.2 3.7 6 3.8 7.5 L4.1 20.5 C4.2 22.5 3.6 23.6 0 23.8 C-3.6 23.6 -4.2 22.5 -4.1 20.5 L-3.8 7.5 C-3.7 6 -3.2 5.2 -2.7 4 C-2.2 2.6 -1.2 0.6 -0.5 0 Z" fill="url(#gM)"/><path d="M62.58 553.0 L62.879999999999995 564.12" stroke="#a8a8a8" stroke-width="1.0"/><path d="M58.78 552.0 l-1.0 1.8 M66.38 552.0 l1.0 1.8" stroke="#a0a0a0" stroke-width="0.8"/><path transform="translate(62.58 530.0)" d="M-0.5 0 L0.5 0 C1.2 0.6 2.2 2.6 2.7 4 C3.2 5.2 3.7 6 3.8 7.5 L4.1 20.5 C4.2 22.5 3.6 23.6 0 23.8 C-3.6 23.6 -4.2 22.5 -4.1 20.5 L-3.8 7.5 C-3.7 6 -3.2 5.2 -2.7 4 C-2.2 2.6 -1.2 0.6 -0.5 0 Z" fill="url(#gM)"/><path d="M72.3 553.0 L72.6 564.12" stroke="#a8a8a8" stroke-width="1.0"/><path d="M68.5 552.0 l-1.0 1.8 M76.1 552.0 l1.0 1.8" stroke="#a0a0a0" stroke-width="0.8"/><path transform="translate(72.3 530.0)" d="M-0.5 0 L0.5 0 C1.2 0.6 2.2 2.6 2.7 4 C3.2 5.2 3.7 6 3.8 7.5 L4.1 20.5 C4.2 22.5 3.6 23.6 0 23.8 C-3.6 23.6 -4.2 22.5 -4.1 20.5 L-3.8 7.5 C-3.7 6 -3.2 5.2 -2.7 4 C-2.2 2.6 -1.2 0.6 -0.5 0 Z" fill="url(#gM)"/><path d="M82.01 553.0 L82.31 564.12" stroke="#a8a8a8" stroke-width="1.0"/><path d="M78.21000000000001 552.0 l-1.0 1.8 M85.81 552.0 l1.0 1.8" stroke="#a0a0a0" stroke-width="0.8"/><path transform="translate(82.01 530.0)" d="M-0.5 0 L0.5 0 C1.2 0.6 2.2 2.6 2.7 4 C3.2 5.2 3.7 6 3.8 7.5 L4.1 20.5 C4.2 22.5 3.6 23.6 0 23.8 C-3.6 23.6 -4.2 22.5 -4.1 20.5 L-3.8 7.5 C-3.7 6 -3.2 5.2 -2.7 4 C-2.2 2.6 -1.2 0.6 -0.5 0 Z" fill="url(#gM)"/><path d="M91.73 553.0 L92.03 564.12" stroke="#a8a8a8" stroke-width="1.0"/><path d="M87.93 552.0 l-1.0 1.8 M95.53 552.0 l1.0 1.8" stroke="#a0a0a0" stroke-width="0.8"/><path transform="translate(91.73 530.0)" d="M-0.5 0 L0.5 0 C1.2 0.6 2.2 2.6 2.7 4 C3.2 5.2 3.7 6 3.8 7.5 L4.1 20.5 C4.2 22.5 3.6 23.6 0 23.8 C-3.6 23.6 -4.2 22.5 -4.1 20.5 L-3.8 7.5 C-3.7 6 -3.2 5.2 -2.7 4 C-2.2 2.6 -1.2 0.6 -0.5 0 Z" fill="url(#gM)"/></g></g>
<g filter="url(#fb)"><g transform="translate(0 529.6) scale(1 0.93) translate(0 -529.6)"><ellipse cx="52.86" cy="540.0" rx="4.3" ry="6.5" fill="#8a70e8" opacity="0.55"/><path d="M48.96 536.5 Q52.86 533.2 56.76 536.5 L56.96 543.5 Q52.86 547.5 48.76 543.5 Z" fill="#5428e6"/><ellipse cx="52.86" cy="551.0" rx="1.8" ry="1.5" fill="#5428e6"/><ellipse cx="62.58" cy="542.2" rx="4.3" ry="3.8" fill="#8a70e8" opacity="0.5"/><ellipse cx="62.58" cy="542.2" rx="4.0" ry="2.7" fill="#5428e6"/><ellipse cx="72.3" cy="542.2" rx="4.3" ry="3.8" fill="#8a70e8" opacity="0.5"/><ellipse cx="72.3" cy="542.2" rx="4.0" ry="2.7" fill="#5428e6"/><ellipse cx="68.8" cy="550.3" rx="1.5" ry="2.1" fill="#5428e6"/><ellipse cx="75.8" cy="550.3" rx="1.5" ry="2.1" fill="#5428e6"/><ellipse cx="82.01" cy="542.2" rx="4.3" ry="3.8" fill="#8a70e8" opacity="0.5"/><ellipse cx="82.01" cy="542.2" rx="4.0" ry="2.7" fill="#5428e6"/><ellipse cx="91.73" cy="540.0" rx="4.3" ry="6.5" fill="#8a70e8" opacity="0.55"/><path d="M87.83 536.5 Q91.73 533.2 95.63000000000001 536.5 L95.83 543.5 Q91.73 547.5 87.63000000000001 543.5 Z" fill="#5428e6"/><ellipse cx="88.23" cy="550.3" rx="1.5" ry="2.1" fill="#5428e6"/><ellipse cx="95.23" cy="550.3" rx="1.5" ry="2.1" fill="#5428e6"/></g></g>
<rect x="102.6" y="529.6" width="49.2" height="32.5" fill="#242424"/>
<g filter="url(#ftx)"><g transform="translate(0 529.6) scale(1 0.93) translate(0 -529.6)"><path d="M107.46 553.0 L107.75999999999999 564.12" stroke="#a8a8a8" stroke-width="1.0"/><path d="M103.66 552.0 l-1.0 1.8 M111.25999999999999 552.0 l1.0 1.8" stroke="#a0a0a0" stroke-width="0.8"/><path transform="translate(107.46 530.0)" d="M-0.5 0 L0.5 0 C1.2 0.6 2.2 2.6 2.7 4 C3.2 5.2 3.7 6 3.8 7.5 L4.1 20.5 C4.2 22.5 3.6 23.6 0 23.8 C-3.6 23.6 -4.2 22.5 -4.1 20.5 L-3.8 7.5 C-3.7 6 -3.2 5.2 -2.7 4 C-2.2 2.6 -1.2 0.6 -0.5 0 Z" fill="url(#gM)"/><path d="M117.18 553.0 L117.48 564.12" stroke="#a8a8a8" stroke-width="1.0"/><path d="M113.38000000000001 552.0 l-1.0 1.8 M120.98 552.0 l1.0 1.8" stroke="#a0a0a0" stroke-width="0.8"/><path transform="translate(117.18 530.0)" d="M-0.5 0 L0.5 0 C1.2 0.6 2.2 2.6 2.7 4 C3.2 5.2 3.7 6 3.8 7.5 L4.1 20.5 C4.2 22.5 3.6 23.6 0 23.8 C-3.6 23.6 -4.2 22.5 -4.1 20.5 L-3.8 7.5 C-3.7 6 -3.2 5.2 -2.7 4 C-2.2 2.6 -1.2 0.6 -0.5 0 Z" fill="url(#gM)"/><path d="M126.9 553.0 L127.2 564.12" stroke="#a8a8a8" stroke-width="1.0"/><path d="M123.10000000000001 552.0 l-1.0 1.8 M130.70000000000002 552.0 l1.0 1.8" stroke="#a0a0a0" stroke-width="0.8"/><path transform="translate(126.9 530.0)" d="M-0.5 0 L0.5 0 C1.2 0.6 2.2 2.6 2.7 4 C3.2 5.2 3.7 6 3.8 7.5 L4.1 20.5 C4.2 22.5 3.6 23.6 0 23.8 C-3.6 23.6 -4.2 22.5 -4.1 20.5 L-3.8 7.5 C-3.7 6 -3.2 5.2 -2.7 4 C-2.2 2.6 -1.2 0.6 -0.5 0 Z" fill="url(#gM)"/><path d="M136.61 553.0 L136.91000000000003 564.12" stroke="#a8a8a8" stroke-width="1.0"/><path d="M132.81 552.0 l-1.0 1.8 M140.41000000000003 552.0 l1.0 1.8" stroke="#a0a0a0" stroke-width="0.8"/><path transform="translate(136.61 530.0)" d="M-0.5 0 L0.5 0 C1.2 0.6 2.2 2.6 2.7 4 C3.2 5.2 3.7 6 3.8 7.5 L4.1 20.5 C4.2 22.5 3.6 23.6 0 23.8 C-3.6 23.6 -4.2 22.5 -4.1 20.5 L-3.8 7.5 C-3.7 6 -3.2 5.2 -2.7 4 C-2.2 2.6 -1.2 0.6 -0.5 0 Z" fill="url(#gM)"/><path d="M146.33 553.0 L146.63000000000002 564.12" stroke="#a8a8a8" stroke-width="1.0"/><path d="M142.53 552.0 l-1.0 1.8 M150.13000000000002 552.0 l1.0 1.8" stroke="#a0a0a0" stroke-width="0.8"/><path transform="translate(146.33 530.0)" d="M-0.5 0 L0.5 0 C1.2 0.6 2.2 2.6 2.7 4 C3.2 5.2 3.7 6 3.8 7.5 L4.1 20.5 C4.2 22.5 3.6 23.6 0 23.8 C-3.6 23.6 -4.2 22.5 -4.1 20.5 L-3.8 7.5 C-3.7 6 -3.2 5.2 -2.7 4 C-2.2 2.6 -1.2 0.6 -0.5 0 Z" fill="url(#gM)"/></g></g>
<g filter="url(#fb)"><g transform="translate(0 529.6) scale(1 0.93) translate(0 -529.6)"><ellipse cx="107.46" cy="542.2" rx="2.6" ry="1.8" fill="#6636e0"/><ellipse cx="103.96" cy="550.3" rx="1.5" ry="2.1" fill="#5428e6"/><ellipse cx="110.96" cy="550.3" rx="1.5" ry="2.1" fill="#5428e6"/><ellipse cx="117.18" cy="540.0" rx="4.3" ry="6.5" fill="#8a70e8" opacity="0.55"/><path d="M113.28 536.5 Q117.18 533.2 121.08000000000001 536.5 L121.28 543.5 Q117.18 547.5 113.08000000000001 543.5 Z" fill="#5428e6"/><ellipse cx="117.18" cy="551.0" rx="1.8" ry="1.5" fill="#5428e6"/><ellipse cx="126.9" cy="542.2" rx="4.3" ry="3.8" fill="#8a70e8" opacity="0.5"/><ellipse cx="126.9" cy="542.2" rx="4.0" ry="2.7" fill="#5428e6"/><ellipse cx="136.61" cy="542.2" rx="4.3" ry="3.8" fill="#8a70e8" opacity="0.5"/><ellipse cx="136.61" cy="542.2" rx="4.0" ry="2.7" fill="#5428e6"/><ellipse cx="133.11" cy="550.3" rx="1.5" ry="2.1" fill="#5428e6"/><ellipse cx="140.11" cy="550.3" rx="1.5" ry="2.1" fill="#5428e6"/><ellipse cx="146.33" cy="542.2" rx="4.3" ry="3.8" fill="#8a70e8" opacity="0.5"/><ellipse cx="146.33" cy="542.2" rx="4.0" ry="2.7" fill="#5428e6"/></g></g>
<rect x="157.0" y="529.6" width="48.8" height="32.5" fill="#242424"/>
<g filter="url(#ftx)"><g transform="translate(0 529.6) scale(1 0.93) translate(0 -529.6)"><path d="M161.82 553.0 L162.12 564.12" stroke="#a8a8a8" stroke-width="1.0"/><path d="M158.01999999999998 552.0 l-1.0 1.8 M165.62 552.0 l1.0 1.8" stroke="#a0a0a0" stroke-width="0.8"/><path transform="translate(161.82 530.0)" d="M-0.5 0 L0.5 0 C1.2 0.6 2.2 2.6 2.7 4 C3.2 5.2 3.7 6 3.8 7.5 L4.1 20.5 C4.2 22.5 3.6 23.6 0 23.8 C-3.6 23.6 -4.2 22.5 -4.1 20.5 L-3.8 7.5 C-3.7 6 -3.2 5.2 -2.7 4 C-2.2 2.6 -1.2 0.6 -0.5 0 Z" fill="url(#gM)"/><path d="M171.46 553.0 L171.76000000000002 564.12" stroke="#a8a8a8" stroke-width="1.0"/><path d="M167.66 552.0 l-1.0 1.8 M175.26000000000002 552.0 l1.0 1.8" stroke="#a0a0a0" stroke-width="0.8"/><path transform="translate(171.46 530.0)" d="M-0.5 0 L0.5 0 C1.2 0.6 2.2 2.6 2.7 4 C3.2 5.2 3.7 6 3.8 7.5 L4.1 20.5 C4.2 22.5 3.6 23.6 0 23.8 C-3.6 23.6 -4.2 22.5 -4.1 20.5 L-3.8 7.5 C-3.7 6 -3.2 5.2 -2.7 4 C-2.2 2.6 -1.2 0.6 -0.5 0 Z" fill="url(#gM)"/><path d="M181.1 553.0 L181.4 564.12" stroke="#a8a8a8" stroke-width="1.0"/><path d="M177.29999999999998 552.0 l-1.0 1.8 M184.9 552.0 l1.0 1.8" stroke="#a0a0a0" stroke-width="0.8"/><path transform="translate(181.1 530.0)" d="M-0.5 0 L0.5 0 C1.2 0.6 2.2 2.6 2.7 4 C3.2 5.2 3.7 6 3.8 7.5 L4.1 20.5 C4.2 22.5 3.6 23.6 0 23.8 C-3.6 23.6 -4.2 22.5 -4.1 20.5 L-3.8 7.5 C-3.7 6 -3.2 5.2 -2.7 4 C-2.2 2.6 -1.2 0.6 -0.5 0 Z" fill="url(#gM)"/><path d="M190.74 553.0 L191.04000000000002 564.12" stroke="#a8a8a8" stroke-width="1.0"/><path d="M186.94 552.0 l-1.0 1.8 M194.54000000000002 552.0 l1.0 1.8" stroke="#a0a0a0" stroke-width="0.8"/><path transform="translate(190.74 530.0)" d="M-0.5 0 L0.5 0 C1.2 0.6 2.2 2.6 2.7 4 C3.2 5.2 3.7 6 3.8 7.5 L4.1 20.5 C4.2 22.5 3.6 23.6 0 23.8 C-3.6 23.6 -4.2 22.5 -4.1 20.5 L-3.8 7.5 C-3.7 6 -3.2 5.2 -2.7 4 C-2.2 2.6 -1.2 0.6 -0.5 0 Z" fill="url(#gM)"/><path d="M200.38 553.0 L200.68 564.12" stroke="#a8a8a8" stroke-width="1.0"/><path d="M196.57999999999998 552.0 l-1.0 1.8 M204.18 552.0 l1.0 1.8" stroke="#a0a0a0" stroke-width="0.8"/><path transform="translate(200.38 530.0)" d="M-0.5 0 L0.5 0 C1.2 0.6 2.2 2.6 2.7 4 C3.2 5.2 3.7 6 3.8 7.5 L4.1 20.5 C4.2 22.5 3.6 23.6 0 23.8 C-3.6 23.6 -4.2 22.5 -4.1 20.5 L-3.8 7.5 C-3.7 6 -3.2 5.2 -2.7 4 C-2.2 2.6 -1.2 0.6 -0.5 0 Z" fill="url(#gM)"/></g></g>
<g filter="url(#fb)"><g transform="translate(0 529.6) scale(1 0.93) translate(0 -529.6)"><ellipse cx="161.82" cy="542.2" rx="4.3" ry="3.8" fill="#8a70e8" opacity="0.5"/><ellipse cx="161.82" cy="542.2" rx="4.0" ry="2.7" fill="#5428e6"/><ellipse cx="171.46" cy="542.2" rx="4.3" ry="3.8" fill="#8a70e8" opacity="0.5"/><ellipse cx="171.46" cy="542.2" rx="4.0" ry="2.7" fill="#5428e6"/><ellipse cx="181.1" cy="542.2" rx="4.3" ry="3.8" fill="#8a70e8" opacity="0.5"/><ellipse cx="181.1" cy="542.2" rx="4.0" ry="2.7" fill="#5428e6"/><ellipse cx="190.74" cy="542.2" rx="4.3" ry="3.8" fill="#8a70e8" opacity="0.5"/><ellipse cx="190.74" cy="542.2" rx="4.0" ry="2.7" fill="#5428e6"/><ellipse cx="200.38" cy="542.2" rx="4.3" ry="3.8" fill="#8a70e8" opacity="0.5"/><ellipse cx="200.38" cy="542.2" rx="4.0" ry="2.7" fill="#5428e6"/></g></g>
<rect x="211.0" y="529.6" width="47.8" height="32.5" fill="#242424"/>
<g filter="url(#ftx)"><g transform="translate(0 529.6) scale(1 0.93) translate(0 -529.6)"><path d="M215.72 553.0 L216.02 564.12" stroke="#a8a8a8" stroke-width="1.0"/><path d="M211.92 552.0 l-1.0 1.8 M219.52 552.0 l1.0 1.8" stroke="#a0a0a0" stroke-width="0.8"/><path transform="translate(215.72 530.0)" d="M-0.5 0 L0.5 0 C1.2 0.6 2.2 2.6 2.7 4 C3.2 5.2 3.7 6 3.8 7.5 L4.1 20.5 C4.2 22.5 3.6 23.6 0 23.8 C-3.6 23.6 -4.2 22.5 -4.1 20.5 L-3.8 7.5 C-3.7 6 -3.2 5.2 -2.7 4 C-2.2 2.6 -1.2 0.6 -0.5 0 Z" fill="url(#gM)"/><path d="M225.16 553.0 L225.46 564.12" stroke="#a8a8a8" stroke-width="1.0"/><path d="M221.35999999999999 552.0 l-1.0 1.8 M228.96 552.0 l1.0 1.8" stroke="#a0a0a0" stroke-width="0.8"/><path transform="translate(225.16 530.0)" d="M-0.5 0 L0.5 0 C1.2 0.6 2.2 2.6 2.7 4 C3.2 5.2 3.7 6 3.8 7.5 L4.1 20.5 C4.2 22.5 3.6 23.6 0 23.8 C-3.6 23.6 -4.2 22.5 -4.1 20.5 L-3.8 7.5 C-3.7 6 -3.2 5.2 -2.7 4 C-2.2 2.6 -1.2 0.6 -0.5 0 Z" fill="url(#gM)"/><path d="M234.6 553.0 L234.9 564.12" stroke="#a8a8a8" stroke-width="1.0"/><path d="M230.79999999999998 552.0 l-1.0 1.8 M238.4 552.0 l1.0 1.8" stroke="#a0a0a0" stroke-width="0.8"/><path transform="translate(234.6 530.0)" d="M-0.5 0 L0.5 0 C1.2 0.6 2.2 2.6 2.7 4 C3.2 5.2 3.7 6 3.8 7.5 L4.1 20.5 C4.2 22.5 3.6 23.6 0 23.8 C-3.6 23.6 -4.2 22.5 -4.1 20.5 L-3.8 7.5 C-3.7 6 -3.2 5.2 -2.7 4 C-2.2 2.6 -1.2 0.6 -0.5 0 Z" fill="url(#gM)"/><path d="M244.05 553.0 L244.35000000000002 564.12" stroke="#a8a8a8" stroke-width="1.0"/><path d="M240.25 552.0 l-1.0 1.8 M247.85000000000002 552.0 l1.0 1.8" stroke="#a0a0a0" stroke-width="0.8"/><path transform="translate(244.05 530.0)" d="M-0.5 0 L0.5 0 C1.2 0.6 2.2 2.6 2.7 4 C3.2 5.2 3.7 6 3.8 7.5 L4.1 20.5 C4.2 22.5 3.6 23.6 0 23.8 C-3.6 23.6 -4.2 22.5 -4.1 20.5 L-3.8 7.5 C-3.7 6 -3.2 5.2 -2.7 4 C-2.2 2.6 -1.2 0.6 -0.5 0 Z" fill="url(#gM)"/><path d="M253.49 553.0 L253.79000000000002 564.12" stroke="#a8a8a8" stroke-width="1.0"/><path d="M249.69 552.0 l-1.0 1.8 M257.29 552.0 l1.0 1.8" stroke="#a0a0a0" stroke-width="0.8"/><path transform="translate(253.49 530.0)" d="M-0.5 0 L0.5 0 C1.2 0.6 2.2 2.6 2.7 4 C3.2 5.2 3.7 6 3.8 7.5 L4.1 20.5 C4.2 22.5 3.6 23.6 0 23.8 C-3.6 23.6 -4.2 22.5 -4.1 20.5 L-3.8 7.5 C-3.7 6 -3.2 5.2 -2.7 4 C-2.2 2.6 -1.2 0.6 -0.5 0 Z" fill="url(#gM)"/></g></g>
<g filter="url(#fb)"><g transform="translate(0 529.6) scale(1 0.93) translate(0 -529.6)"><ellipse cx="215.72" cy="540.0" rx="4.3" ry="6.5" fill="#8a70e8" opacity="0.55"/><path d="M211.82 536.5 Q215.72 533.2 219.62 536.5 L219.82 543.5 Q215.72 547.5 211.62 543.5 Z" fill="#5428e6"/><ellipse cx="212.22" cy="550.3" rx="1.5" ry="2.1" fill="#5428e6"/><ellipse cx="225.16" cy="542.2" rx="4.3" ry="3.8" fill="#8a70e8" opacity="0.5"/><ellipse cx="225.16" cy="542.2" rx="4.0" ry="2.7" fill="#5428e6"/><ellipse cx="234.6" cy="540.0" rx="4.3" ry="6.5" fill="#8a70e8" opacity="0.55"/><path d="M230.7 536.5 Q234.6 533.2 238.5 536.5 L238.7 543.5 Q234.6 547.5 230.5 543.5 Z" fill="#5428e6"/><ellipse cx="231.1" cy="550.3" rx="1.5" ry="2.1" fill="#5428e6"/><ellipse cx="238.1" cy="550.3" rx="1.5" ry="2.1" fill="#5428e6"/><ellipse cx="244.05" cy="542.2" rx="4.3" ry="3.8" fill="#8a70e8" opacity="0.5"/><ellipse cx="244.05" cy="542.2" rx="4.0" ry="2.7" fill="#5428e6"/><ellipse cx="253.49" cy="542.2" rx="4.3" ry="3.8" fill="#8a70e8" opacity="0.5"/><ellipse cx="253.49" cy="542.2" rx="4.0" ry="2.7" fill="#5428e6"/></g></g>
<rect x="48.0" y="566.6" width="49.2" height="32.5" fill="#242424"/>
<g filter="url(#ftx)"><g transform="translate(0 566.6) scale(1 0.93) translate(0 -566.6)"><path d="M52.86 590.0 L53.16 601.12" stroke="#a8a8a8" stroke-width="1.0"/><path d="M49.06 589.0 l-1.0 1.8 M56.66 589.0 l1.0 1.8" stroke="#a0a0a0" stroke-width="0.8"/><path transform="translate(52.86 567.0)" d="M-0.5 0 L0.5 0 C1.2 0.6 2.2 2.6 2.7 4 C3.2 5.2 3.7 6 3.8 7.5 L4.1 20.5 C4.2 22.5 3.6 23.6 0 23.8 C-3.6 23.6 -4.2 22.5 -4.1 20.5 L-3.8 7.5 C-3.7 6 -3.2 5.2 -2.7 4 C-2.2 2.6 -1.2 0.6 -0.5 0 Z" fill="url(#gM)"/><path d="M62.58 590.0 L62.879999999999995 601.12" stroke="#a8a8a8" stroke-width="1.0"/><path d="M58.78 589.0 l-1.0 1.8 M66.38 589.0 l1.0 1.8" stroke="#a0a0a0" stroke-width="0.8"/><path transform="translate(62.58 567.0)" d="M-0.5 0 L0.5 0 C1.2 0.6 2.2 2.6 2.7 4 C3.2 5.2 3.7 6 3.8 7.5 L4.1 20.5 C4.2 22.5 3.6 23.6 0 23.8 C-3.6 23.6 -4.2 22.5 -4.1 20.5 L-3.8 7.5 C-3.7 6 -3.2 5.2 -2.7 4 C-2.2 2.6 -1.2 0.6 -0.5 0 Z" fill="url(#gM)"/><path d="M72.3 590.0 L72.6 601.12" stroke="#a8a8a8" stroke-width="1.0"/><path d="M68.5 589.0 l-1.0 1.8 M76.1 589.0 l1.0 1.8" stroke="#a0a0a0" stroke-width="0.8"/><path transform="translate(72.3 567.0)" d="M-0.5 0 L0.5 0 C1.2 0.6 2.2 2.6 2.7 4 C3.2 5.2 3.7 6 3.8 7.5 L4.1 20.5 C4.2 22.5 3.6 23.6 0 23.8 C-3.6 23.6 -4.2 22.5 -4.1 20.5 L-3.8 7.5 C-3.7 6 -3.2 5.2 -2.7 4 C-2.2 2.6 -1.2 0.6 -0.5 0 Z" fill="url(#gM)"/><path d="M82.01 590.0 L82.31 601.12" stroke="#a8a8a8" stroke-width="1.0"/><path d="M78.21000000000001 589.0 l-1.0 1.8 M85.81 589.0 l1.0 1.8" stroke="#a0a0a0" stroke-width="0.8"/><path transform="translate(82.01 567.0)" d="M-0.5 0 L0.5 0 C1.2 0.6 2.2 2.6 2.7 4 C3.2 5.2 3.7 6 3.8 7.5 L4.1 20.5 C4.2 22.5 3.6 23.6 0 23.8 C-3.6 23.6 -4.2 22.5 -4.1 20.5 L-3.8 7.5 C-3.7 6 -3.2 5.2 -2.7 4 C-2.2 2.6 -1.2 0.6 -0.5 0 Z" fill="url(#gM)"/><path d="M91.73 590.0 L92.03 601.12" stroke="#a8a8a8" stroke-width="1.0"/><path d="M87.93 589.0 l-1.0 1.8 M95.53 589.0 l1.0 1.8" stroke="#a0a0a0" stroke-width="0.8"/><path transform="translate(91.73 567.0)" d="M-0.5 0 L0.5 0 C1.2 0.6 2.2 2.6 2.7 4 C3.2 5.2 3.7 6 3.8 7.5 L4.1 20.5 C4.2 22.5 3.6 23.6 0 23.8 C-3.6 23.6 -4.2 22.5 -4.1 20.5 L-3.8 7.5 C-3.7 6 -3.2 5.2 -2.7 4 C-2.2 2.6 -1.2 0.6 -0.5 0 Z" fill="url(#gM)"/></g></g>
<g filter="url(#fb)"><g transform="translate(0 566.6) scale(1 0.93) translate(0 -566.6)"><ellipse cx="62.58" cy="588.0" rx="1.8" ry="1.5" fill="#5428e6"/><ellipse cx="72.3" cy="568.6" rx="1.5" ry="1.4" fill="#5428e6"/><ellipse cx="82.01" cy="568.6" rx="1.5" ry="1.4" fill="#5428e6"/><ellipse cx="82.01" cy="579.2" rx="2.6" ry="1.8" fill="#6636e0"/><ellipse cx="91.73" cy="568.6" rx="1.5" ry="1.4" fill="#5428e6"/></g></g>
<rect x="102.6" y="566.6" width="49.2" height="32.5" fill="#242424"/>
<g filter="url(#ftx)"><g transform="translate(0 566.6) scale(1 0.93) translate(0 -566.6)"><path d="M107.46 590.0 L107.75999999999999 601.12" stroke="#a8a8a8" stroke-width="1.0"/><path d="M103.66 589.0 l-1.0 1.8 M111.25999999999999 589.0 l1.0 1.8" stroke="#a0a0a0" stroke-width="0.8"/><path transform="translate(107.46 567.0)" d="M-0.5 0 L0.5 0 C1.2 0.6 2.2 2.6 2.7 4 C3.2 5.2 3.7 6 3.8 7.5 L4.1 20.5 C4.2 22.5 3.6 23.6 0 23.8 C-3.6 23.6 -4.2 22.5 -4.1 20.5 L-3.8 7.5 C-3.7 6 -3.2 5.2 -2.7 4 C-2.2 2.6 -1.2 0.6 -0.5 0 Z" fill="url(#gM)"/><path d="M117.18 590.0 L117.48 601.12" stroke="#a8a8a8" stroke-width="1.0"/><path d="M113.38000000000001 589.0 l-1.0 1.8 M120.98 589.0 l1.0 1.8" stroke="#a0a0a0" stroke-width="0.8"/><path transform="translate(117.18 567.0)" d="M-0.5 0 L0.5 0 C1.2 0.6 2.2 2.6 2.7 4 C3.2 5.2 3.7 6 3.8 7.5 L4.1 20.5 C4.2 22.5 3.6 23.6 0 23.8 C-3.6 23.6 -4.2 22.5 -4.1 20.5 L-3.8 7.5 C-3.7 6 -3.2 5.2 -2.7 4 C-2.2 2.6 -1.2 0.6 -0.5 0 Z" fill="url(#gM)"/><path d="M126.9 590.0 L127.2 601.12" stroke="#a8a8a8" stroke-width="1.0"/><path d="M123.10000000000001 589.0 l-1.0 1.8 M130.70000000000002 589.0 l1.0 1.8" stroke="#a0a0a0" stroke-width="0.8"/><path transform="translate(126.9 567.0)" d="M-0.5 0 L0.5 0 C1.2 0.6 2.2 2.6 2.7 4 C3.2 5.2 3.7 6 3.8 7.5 L4.1 20.5 C4.2 22.5 3.6 23.6 0 23.8 C-3.6 23.6 -4.2 22.5 -4.1 20.5 L-3.8 7.5 C-3.7 6 -3.2 5.2 -2.7 4 C-2.2 2.6 -1.2 0.6 -0.5 0 Z" fill="url(#gM)"/><path d="M136.61 590.0 L136.91000000000003 601.12" stroke="#a8a8a8" stroke-width="1.0"/><path d="M132.81 589.0 l-1.0 1.8 M140.41000000000003 589.0 l1.0 1.8" stroke="#a0a0a0" stroke-width="0.8"/><path transform="translate(136.61 567.0)" d="M-0.5 0 L0.5 0 C1.2 0.6 2.2 2.6 2.7 4 C3.2 5.2 3.7 6 3.8 7.5 L4.1 20.5 C4.2 22.5 3.6 23.6 0 23.8 C-3.6 23.6 -4.2 22.5 -4.1 20.5 L-3.8 7.5 C-3.7 6 -3.2 5.2 -2.7 4 C-2.2 2.6 -1.2 0.6 -0.5 0 Z" fill="url(#gM)"/><path d="M146.33 590.0 L146.63000000000002 601.12" stroke="#a8a8a8" stroke-width="1.0"/><path d="M142.53 589.0 l-1.0 1.8 M150.13000000000002 589.0 l1.0 1.8" stroke="#a0a0a0" stroke-width="0.8"/><path transform="translate(146.33 567.0)" d="M-0.5 0 L0.5 0 C1.2 0.6 2.2 2.6 2.7 4 C3.2 5.2 3.7 6 3.8 7.5 L4.1 20.5 C4.2 22.5 3.6 23.6 0 23.8 C-3.6 23.6 -4.2 22.5 -4.1 20.5 L-3.8 7.5 C-3.7 6 -3.2 5.2 -2.7 4 C-2.2 2.6 -1.2 0.6 -0.5 0 Z" fill="url(#gM)"/></g></g>
<g filter="url(#fb)"><g transform="translate(0 566.6) scale(1 0.93) translate(0 -566.6)"><ellipse cx="107.46" cy="568.6" rx="1.5" ry="1.4" fill="#5428e6"/><ellipse cx="107.46" cy="579.2" rx="2.6" ry="1.8" fill="#6636e0"/><ellipse cx="117.18" cy="577.0" rx="4" ry="5" fill="#5428e6"/><ellipse cx="117.18" cy="577.0" rx="2.6" ry="2.6" fill="#40a0f0"/><ellipse cx="117.48" cy="577.5" rx="1.5" ry="1.3" fill="#60f0e0"/><ellipse cx="117.18" cy="568.6" rx="1.5" ry="1.4" fill="#5428e6"/><ellipse cx="126.9" cy="568.6" rx="1.5" ry="1.4" fill="#5428e6"/><ellipse cx="126.9" cy="579.2" rx="4.3" ry="3.8" fill="#8a70e8" opacity="0.5"/><ellipse cx="126.9" cy="579.2" rx="4.0" ry="2.7" fill="#5428e6"/><ellipse cx="136.61" cy="568.6" rx="1.5" ry="1.4" fill="#5428e6"/><ellipse cx="136.61" cy="578.8" rx="4.3" ry="4.4" fill="#8a70e8" opacity="0.5"/><ellipse cx="136.61" cy="578.8" rx="4.1" ry="3.4" fill="#5428e6"/><ellipse cx="146.33" cy="578.8" rx="4.3" ry="4.4" fill="#8a70e8" opacity="0.5"/><ellipse cx="146.33" cy="578.8" rx="4.1" ry="3.4" fill="#5428e6"/></g></g>
<rect x="157.0" y="566.6" width="48.8" height="32.5" fill="#242424"/>
<g filter="url(#ftx)"><g transform="translate(0 566.6) scale(1 0.93) translate(0 -566.6)"><path d="M161.82 590.0 L162.12 601.12" stroke="#a8a8a8" stroke-width="1.0"/><path d="M158.01999999999998 589.0 l-1.0 1.8 M165.62 589.0 l1.0 1.8" stroke="#a0a0a0" stroke-width="0.8"/><path transform="translate(161.82 567.0)" d="M-0.5 0 L0.5 0 C1.2 0.6 2.2 2.6 2.7 4 C3.2 5.2 3.7 6 3.8 7.5 L4.1 20.5 C4.2 22.5 3.6 23.6 0 23.8 C-3.6 23.6 -4.2 22.5 -4.1 20.5 L-3.8 7.5 C-3.7 6 -3.2 5.2 -2.7 4 C-2.2 2.6 -1.2 0.6 -0.5 0 Z" fill="url(#gM)"/><path d="M171.46 590.0 L171.76000000000002 601.12" stroke="#a8a8a8" stroke-width="1.0"/><path d="M167.66 589.0 l-1.0 1.8 M175.26000000000002 589.0 l1.0 1.8" stroke="#a0a0a0" stroke-width="0.8"/><path transform="translate(171.46 567.0)" d="M-0.5 0 L0.5 0 C1.2 0.6 2.2 2.6 2.7 4 C3.2 5.2 3.7 6 3.8 7.5 L4.1 20.5 C4.2 22.5 3.6 23.6 0 23.8 C-3.6 23.6 -4.2 22.5 -4.1 20.5 L-3.8 7.5 C-3.7 6 -3.2 5.2 -2.7 4 C-2.2 2.6 -1.2 0.6 -0.5 0 Z" fill="url(#gM)"/><path d="M181.1 590.0 L181.4 601.12" stroke="#a8a8a8" stroke-width="1.0"/><path d="M177.29999999999998 589.0 l-1.0 1.8 M184.9 589.0 l1.0 1.8" stroke="#a0a0a0" stroke-width="0.8"/><path transform="translate(181.1 567.0)" d="M-0.5 0 L0.5 0 C1.2 0.6 2.2 2.6 2.7 4 C3.2 5.2 3.7 6 3.8 7.5 L4.1 20.5 C4.2 22.5 3.6 23.6 0 23.8 C-3.6 23.6 -4.2 22.5 -4.1 20.5 L-3.8 7.5 C-3.7 6 -3.2 5.2 -2.7 4 C-2.2 2.6 -1.2 0.6 -0.5 0 Z" fill="url(#gM)"/><path d="M190.74 590.0 L191.04000000000002 601.12" stroke="#a8a8a8" stroke-width="1.0"/><path d="M186.94 589.0 l-1.0 1.8 M194.54000000000002 589.0 l1.0 1.8" stroke="#a0a0a0" stroke-width="0.8"/><path transform="translate(190.74 567.0)" d="M-0.5 0 L0.5 0 C1.2 0.6 2.2 2.6 2.7 4 C3.2 5.2 3.7 6 3.8 7.5 L4.1 20.5 C4.2 22.5 3.6 23.6 0 23.8 C-3.6 23.6 -4.2 22.5 -4.1 20.5 L-3.8 7.5 C-3.7 6 -3.2 5.2 -2.7 4 C-2.2 2.6 -1.2 0.6 -0.5 0 Z" fill="url(#gM)"/><path d="M200.38 590.0 L200.68 601.12" stroke="#a8a8a8" stroke-width="1.0"/><path d="M196.57999999999998 589.0 l-1.0 1.8 M204.18 589.0 l1.0 1.8" stroke="#a0a0a0" stroke-width="0.8"/><path transform="translate(200.38 567.0)" d="M-0.5 0 L0.5 0 C1.2 0.6 2.2 2.6 2.7 4 C3.2 5.2 3.7 6 3.8 7.5 L4.1 20.5 C4.2 22.5 3.6 23.6 0 23.8 C-3.6 23.6 -4.2 22.5 -4.1 20.5 L-3.8 7.5 C-3.7 6 -3.2 5.2 -2.7 4 C-2.2 2.6 -1.2 0.6 -0.5 0 Z" fill="url(#gM)"/></g></g>
<g filter="url(#fb)"><g transform="translate(0 566.6) scale(1 0.93) translate(0 -566.6)"><ellipse cx="161.82" cy="568.6" rx="1.5" ry="1.4" fill="#5428e6"/><ellipse cx="161.82" cy="579.2" rx="2.6" ry="1.8" fill="#6636e0"/><ellipse cx="181.1" cy="568.6" rx="1.5" ry="1.4" fill="#5428e6"/><ellipse cx="181.1" cy="578.8" rx="4.3" ry="4.4" fill="#8a70e8" opacity="0.5"/><ellipse cx="181.1" cy="578.8" rx="4.1" ry="3.4" fill="#5428e6"/><ellipse cx="200.38" cy="568.6" rx="1.5" ry="1.4" fill="#5428e6"/><ellipse cx="200.38" cy="579.2" rx="2.6" ry="1.8" fill="#6636e0"/></g></g>
<rect x="211.0" y="566.6" width="47.8" height="32.5" fill="#242424"/>
<g filter="url(#ftx)"><g transform="translate(0 566.6) scale(1 0.93) translate(0 -566.6)"><path d="M215.72 590.0 L216.02 601.12" stroke="#a8a8a8" stroke-width="1.0"/><path d="M211.92 589.0 l-1.0 1.8 M219.52 589.0 l1.0 1.8" stroke="#a0a0a0" stroke-width="0.8"/><path transform="translate(215.72 567.0)" d="M-0.5 0 L0.5 0 C1.2 0.6 2.2 2.6 2.7 4 C3.2 5.2 3.7 6 3.8 7.5 L4.1 20.5 C4.2 22.5 3.6 23.6 0 23.8 C-3.6 23.6 -4.2 22.5 -4.1 20.5 L-3.8 7.5 C-3.7 6 -3.2 5.2 -2.7 4 C-2.2 2.6 -1.2 0.6 -0.5 0 Z" fill="url(#gM)"/><path d="M225.16 590.0 L225.46 601.12" stroke="#a8a8a8" stroke-width="1.0"/><path d="M221.35999999999999 589.0 l-1.0 1.8 M228.96 589.0 l1.0 1.8" stroke="#a0a0a0" stroke-width="0.8"/><path transform="translate(225.16 567.0)" d="M-0.5 0 L0.5 0 C1.2 0.6 2.2 2.6 2.7 4 C3.2 5.2 3.7 6 3.8 7.5 L4.1 20.5 C4.2 22.5 3.6 23.6 0 23.8 C-3.6 23.6 -4.2 22.5 -4.1 20.5 L-3.8 7.5 C-3.7 6 -3.2 5.2 -2.7 4 C-2.2 2.6 -1.2 0.6 -0.5 0 Z" fill="url(#gM)"/><path d="M234.6 590.0 L234.9 601.12" stroke="#a8a8a8" stroke-width="1.0"/><path d="M230.79999999999998 589.0 l-1.0 1.8 M238.4 589.0 l1.0 1.8" stroke="#a0a0a0" stroke-width="0.8"/><path transform="translate(234.6 567.0)" d="M-0.5 0 L0.5 0 C1.2 0.6 2.2 2.6 2.7 4 C3.2 5.2 3.7 6 3.8 7.5 L4.1 20.5 C4.2 22.5 3.6 23.6 0 23.8 C-3.6 23.6 -4.2 22.5 -4.1 20.5 L-3.8 7.5 C-3.7 6 -3.2 5.2 -2.7 4 C-2.2 2.6 -1.2 0.6 -0.5 0 Z" fill="url(#gM)"/><path d="M244.05 590.0 L244.35000000000002 601.12" stroke="#a8a8a8" stroke-width="1.0"/><path d="M240.25 589.0 l-1.0 1.8 M247.85000000000002 589.0 l1.0 1.8" stroke="#a0a0a0" stroke-width="0.8"/><path transform="translate(244.05 567.0)" d="M-0.5 0 L0.5 0 C1.2 0.6 2.2 2.6 2.7 4 C3.2 5.2 3.7 6 3.8 7.5 L4.1 20.5 C4.2 22.5 3.6 23.6 0 23.8 C-3.6 23.6 -4.2 22.5 -4.1 20.5 L-3.8 7.5 C-3.7 6 -3.2 5.2 -2.7 4 C-2.2 2.6 -1.2 0.6 -0.5 0 Z" fill="url(#gM)"/><path d="M253.49 590.0 L253.79000000000002 601.12" stroke="#a8a8a8" stroke-width="1.0"/><path d="M249.69 589.0 l-1.0 1.8 M257.29 589.0 l1.0 1.8" stroke="#a0a0a0" stroke-width="0.8"/><path transform="translate(253.49 567.0)" d="M-0.5 0 L0.5 0 C1.2 0.6 2.2 2.6 2.7 4 C3.2 5.2 3.7 6 3.8 7.5 L4.1 20.5 C4.2 22.5 3.6 23.6 0 23.8 C-3.6 23.6 -4.2 22.5 -4.1 20.5 L-3.8 7.5 C-3.7 6 -3.2 5.2 -2.7 4 C-2.2 2.6 -1.2 0.6 -0.5 0 Z" fill="url(#gM)"/></g></g>
<g filter="url(#fb)"><g transform="translate(0 566.6) scale(1 0.93) translate(0 -566.6)"><ellipse cx="215.72" cy="568.6" rx="1.5" ry="1.4" fill="#5428e6"/><ellipse cx="215.72" cy="578.8" rx="4.3" ry="4.4" fill="#8a70e8" opacity="0.5"/><ellipse cx="215.72" cy="578.8" rx="4.1" ry="3.4" fill="#5428e6"/><ellipse cx="225.16" cy="568.6" rx="1.5" ry="1.4" fill="#5428e6"/><ellipse cx="225.16" cy="579.2" rx="2.6" ry="1.8" fill="#6636e0"/><ellipse cx="234.6" cy="568.6" rx="1.5" ry="1.4" fill="#5428e6"/><ellipse cx="234.6" cy="579.2" rx="4.3" ry="3.8" fill="#8a70e8" opacity="0.5"/><ellipse cx="234.6" cy="579.2" rx="4.0" ry="2.7" fill="#5428e6"/><ellipse cx="244.05" cy="568.6" rx="1.5" ry="1.4" fill="#5428e6"/><ellipse cx="244.05" cy="578.8" rx="4.3" ry="4.4" fill="#8a70e8" opacity="0.5"/><ellipse cx="244.05" cy="578.8" rx="4.1" ry="3.4" fill="#5428e6"/><ellipse cx="253.49" cy="579.2" rx="2.6" ry="1.8" fill="#6636e0"/></g></g>
<rect x="48.0" y="603.0" width="49.2" height="32.5" fill="#242424"/>
<g filter="url(#ftx)"><g transform="translate(0 603.0) scale(1 0.93) translate(0 -603.0)"><path d="M52.86 626.4 L53.16 637.52" stroke="#a8a8a8" stroke-width="1.0"/><path d="M49.06 625.4 l-1.0 1.8 M56.66 625.4 l1.0 1.8" stroke="#a0a0a0" stroke-width="0.8"/><path transform="translate(52.86 603.4)" d="M-0.5 0 L0.5 0 C1.2 0.6 2.2 2.6 2.7 4 C3.2 5.2 3.7 6 3.8 7.5 L4.1 20.5 C4.2 22.5 3.6 23.6 0 23.8 C-3.6 23.6 -4.2 22.5 -4.1 20.5 L-3.8 7.5 C-3.7 6 -3.2 5.2 -2.7 4 C-2.2 2.6 -1.2 0.6 -0.5 0 Z" fill="url(#gM)"/><path d="M62.58 626.4 L62.879999999999995 637.52" stroke="#a8a8a8" stroke-width="1.0"/><path d="M58.78 625.4 l-1.0 1.8 M66.38 625.4 l1.0 1.8" stroke="#a0a0a0" stroke-width="0.8"/><path transform="translate(62.58 603.4)" d="M-0.5 0 L0.5 0 C1.2 0.6 2.2 2.6 2.7 4 C3.2 5.2 3.7 6 3.8 7.5 L4.1 20.5 C4.2 22.5 3.6 23.6 0 23.8 C-3.6 23.6 -4.2 22.5 -4.1 20.5 L-3.8 7.5 C-3.7 6 -3.2 5.2 -2.7 4 C-2.2 2.6 -1.2 0.6 -0.5 0 Z" fill="url(#gM)"/><path d="M72.3 626.4 L72.6 637.52" stroke="#a8a8a8" stroke-width="1.0"/><path d="M68.5 625.4 l-1.0 1.8 M76.1 625.4 l1.0 1.8" stroke="#a0a0a0" stroke-width="0.8"/><path transform="translate(72.3 603.4)" d="M-0.5 0 L0.5 0 C1.2 0.6 2.2 2.6 2.7 4 C3.2 5.2 3.7 6 3.8 7.5 L4.1 20.5 C4.2 22.5 3.6 23.6 0 23.8 C-3.6 23.6 -4.2 22.5 -4.1 20.5 L-3.8 7.5 C-3.7 6 -3.2 5.2 -2.7 4 C-2.2 2.6 -1.2 0.6 -0.5 0 Z" fill="url(#gM)"/><path d="M82.01 626.4 L82.31 637.52" stroke="#a8a8a8" stroke-width="1.0"/><path d="M78.21000000000001 625.4 l-1.0 1.8 M85.81 625.4 l1.0 1.8" stroke="#a0a0a0" stroke-width="0.8"/><path transform="translate(82.01 603.4)" d="M-0.5 0 L0.5 0 C1.2 0.6 2.2 2.6 2.7 4 C3.2 5.2 3.7 6 3.8 7.5 L4.1 20.5 C4.2 22.5 3.6 23.6 0 23.8 C-3.6 23.6 -4.2 22.5 -4.1 20.5 L-3.8 7.5 C-3.7 6 -3.2 5.2 -2.7 4 C-2.2 2.6 -1.2 0.6 -0.5 0 Z" fill="url(#gM)"/><path d="M91.73 626.4 L92.03 637.52" stroke="#a8a8a8" stroke-width="1.0"/><path d="M87.93 625.4 l-1.0 1.8 M95.53 625.4 l1.0 1.8" stroke="#a0a0a0" stroke-width="0.8"/><path transform="translate(91.73 603.4)" d="M-0.5 0 L0.5 0 C1.2 0.6 2.2 2.6 2.7 4 C3.2 5.2 3.7 6 3.8 7.5 L4.1 20.5 C4.2 22.5 3.6 23.6 0 23.8 C-3.6 23.6 -4.2 22.5 -4.1 20.5 L-3.8 7.5 C-3.7 6 -3.2 5.2 -2.7 4 C-2.2 2.6 -1.2 0.6 -0.5 0 Z" fill="url(#gM)"/></g></g>
<g filter="url(#fb)"><g transform="translate(0 603.0) scale(1 0.93) translate(0 -603.0)"><ellipse cx="52.86" cy="605.0" rx="1.5" ry="1.4" fill="#5428e6"/><ellipse cx="62.58" cy="605.0" rx="1.5" ry="1.4" fill="#5428e6"/><ellipse cx="72.3" cy="605.0" rx="1.5" ry="1.4" fill="#5428e6"/><ellipse cx="82.01" cy="605.0" rx="1.5" ry="1.4" fill="#5428e6"/><ellipse cx="91.73" cy="605.0" rx="1.5" ry="1.4" fill="#5428e6"/></g></g>
<rect x="102.6" y="603.0" width="49.2" height="32.5" fill="#242424"/>
<g filter="url(#ftx)"><g transform="translate(0 603.0) scale(1 0.93) translate(0 -603.0)"><path d="M107.46 626.4 L107.75999999999999 637.52" stroke="#a8a8a8" stroke-width="1.0"/><path d="M103.66 625.4 l-1.0 1.8 M111.25999999999999 625.4 l1.0 1.8" stroke="#a0a0a0" stroke-width="0.8"/><path transform="translate(107.46 603.4)" d="M-0.5 0 L0.5 0 C1.2 0.6 2.2 2.6 2.7 4 C3.2 5.2 3.7 6 3.8 7.5 L4.1 20.5 C4.2 22.5 3.6 23.6 0 23.8 C-3.6 23.6 -4.2 22.5 -4.1 20.5 L-3.8 7.5 C-3.7 6 -3.2 5.2 -2.7 4 C-2.2 2.6 -1.2 0.6 -0.5 0 Z" fill="url(#gM)"/><path d="M117.18 626.4 L117.48 637.52" stroke="#a8a8a8" stroke-width="1.0"/><path d="M113.38000000000001 625.4 l-1.0 1.8 M120.98 625.4 l1.0 1.8" stroke="#a0a0a0" stroke-width="0.8"/><path transform="translate(117.18 603.4)" d="M-0.5 0 L0.5 0 C1.2 0.6 2.2 2.6 2.7 4 C3.2 5.2 3.7 6 3.8 7.5 L4.1 20.5 C4.2 22.5 3.6 23.6 0 23.8 C-3.6 23.6 -4.2 22.5 -4.1 20.5 L-3.8 7.5 C-3.7 6 -3.2 5.2 -2.7 4 C-2.2 2.6 -1.2 0.6 -0.5 0 Z" fill="url(#gM)"/><path d="M126.9 626.4 L127.2 637.52" stroke="#a8a8a8" stroke-width="1.0"/><path d="M123.10000000000001 625.4 l-1.0 1.8 M130.70000000000002 625.4 l1.0 1.8" stroke="#a0a0a0" stroke-width="0.8"/><path transform="translate(126.9 603.4)" d="M-0.5 0 L0.5 0 C1.2 0.6 2.2 2.6 2.7 4 C3.2 5.2 3.7 6 3.8 7.5 L4.1 20.5 C4.2 22.5 3.6 23.6 0 23.8 C-3.6 23.6 -4.2 22.5 -4.1 20.5 L-3.8 7.5 C-3.7 6 -3.2 5.2 -2.7 4 C-2.2 2.6 -1.2 0.6 -0.5 0 Z" fill="url(#gM)"/><path d="M136.61 626.4 L136.91000000000003 637.52" stroke="#a8a8a8" stroke-width="1.0"/><path d="M132.81 625.4 l-1.0 1.8 M140.41000000000003 625.4 l1.0 1.8" stroke="#a0a0a0" stroke-width="0.8"/><path transform="translate(136.61 603.4)" d="M-0.5 0 L0.5 0 C1.2 0.6 2.2 2.6 2.7 4 C3.2 5.2 3.7 6 3.8 7.5 L4.1 20.5 C4.2 22.5 3.6 23.6 0 23.8 C-3.6 23.6 -4.2 22.5 -4.1 20.5 L-3.8 7.5 C-3.7 6 -3.2 5.2 -2.7 4 C-2.2 2.6 -1.2 0.6 -0.5 0 Z" fill="url(#gM)"/><path d="M146.33 626.4 L146.63000000000002 637.52" stroke="#a8a8a8" stroke-width="1.0"/><path d="M142.53 625.4 l-1.0 1.8 M150.13000000000002 625.4 l1.0 1.8" stroke="#a0a0a0" stroke-width="0.8"/><path transform="translate(146.33 603.4)" d="M-0.5 0 L0.5 0 C1.2 0.6 2.2 2.6 2.7 4 C3.2 5.2 3.7 6 3.8 7.5 L4.1 20.5 C4.2 22.5 3.6 23.6 0 23.8 C-3.6 23.6 -4.2 22.5 -4.1 20.5 L-3.8 7.5 C-3.7 6 -3.2 5.2 -2.7 4 C-2.2 2.6 -1.2 0.6 -0.5 0 Z" fill="url(#gM)"/></g></g>
<g filter="url(#fb)"><g transform="translate(0 603.0) scale(1 0.93) translate(0 -603.0)"><ellipse cx="107.46" cy="605.1999999999999" rx="1.8" ry="1.7" fill="#5428e6"/><ellipse cx="107.46" cy="605.1999999999999" rx="0.8" ry="0.8" fill="#40d0f0"/><ellipse cx="107.46" cy="615.6" rx="4.3" ry="3.8" fill="#8a70e8" opacity="0.5"/><ellipse cx="107.46" cy="615.6" rx="4.0" ry="2.7" fill="#5428e6"/><ellipse cx="107.46" cy="624.4" rx="1.8" ry="1.5" fill="#5428e6"/><path d="M112.98 607.4 Q117.18 602.9 121.38000000000001 607.4 L121.48 622.4 Q117.18 627.4 112.88000000000001 622.4 Z" fill="#5428e6"/><ellipse cx="117.18" cy="606.9" rx="1.6" ry="1.6" fill="#30e0a0"/><ellipse cx="117.18" cy="606.9" rx="0.7" ry="0.7" fill="#e02010"/><ellipse cx="117.18" cy="615.9" rx="3.2" ry="4.2" fill="#30c0f0"/><ellipse cx="117.18" cy="616.4" rx="2.4" ry="3" fill="#60e060"/><ellipse cx="117.48" cy="616.4" rx="1.6" ry="1.8" fill="#f0e030"/><ellipse cx="117.68" cy="616.6999999999999" rx="1" ry="1" fill="#e82010"/><ellipse cx="126.9" cy="605.0" rx="1.5" ry="1.4" fill="#5428e6"/><ellipse cx="126.9" cy="615.6" rx="4.3" ry="3.8" fill="#8a70e8" opacity="0.5"/><ellipse cx="126.9" cy="615.6" rx="4.0" ry="2.7" fill="#5428e6"/><ellipse cx="136.61" cy="605.0" rx="1.5" ry="1.4" fill="#5428e6"/><ellipse cx="136.61" cy="615.6" rx="4.3" ry="3.8" fill="#8a70e8" opacity="0.5"/><ellipse cx="136.61" cy="615.6" rx="4.0" ry="2.7" fill="#5428e6"/><ellipse cx="146.33" cy="615.6" rx="2.6" ry="1.8" fill="#6636e0"/></g></g>
<rect x="157.0" y="603.0" width="48.8" height="32.5" fill="#242424"/>
<g filter="url(#ftx)"><g transform="translate(0 603.0) scale(1 0.93) translate(0 -603.0)"><path d="M161.82 626.4 L162.12 637.52" stroke="#a8a8a8" stroke-width="1.0"/><path d="M158.01999999999998 625.4 l-1.0 1.8 M165.62 625.4 l1.0 1.8" stroke="#a0a0a0" stroke-width="0.8"/><path transform="translate(161.82 603.4)" d="M-0.5 0 L0.5 0 C1.2 0.6 2.2 2.6 2.7 4 C3.2 5.2 3.7 6 3.8 7.5 L4.1 20.5 C4.2 22.5 3.6 23.6 0 23.8 C-3.6 23.6 -4.2 22.5 -4.1 20.5 L-3.8 7.5 C-3.7 6 -3.2 5.2 -2.7 4 C-2.2 2.6 -1.2 0.6 -0.5 0 Z" fill="url(#gM)"/><path d="M171.46 626.4 L171.76000000000002 637.52" stroke="#a8a8a8" stroke-width="1.0"/><path d="M167.66 625.4 l-1.0 1.8 M175.26000000000002 625.4 l1.0 1.8" stroke="#a0a0a0" stroke-width="0.8"/><path transform="translate(171.46 603.4)" d="M-0.5 0 L0.5 0 C1.2 0.6 2.2 2.6 2.7 4 C3.2 5.2 3.7 6 3.8 7.5 L4.1 20.5 C4.2 22.5 3.6 23.6 0 23.8 C-3.6 23.6 -4.2 22.5 -4.1 20.5 L-3.8 7.5 C-3.7 6 -3.2 5.2 -2.7 4 C-2.2 2.6 -1.2 0.6 -0.5 0 Z" fill="url(#gM)"/><path d="M181.1 626.4 L181.4 637.52" stroke="#a8a8a8" stroke-width="1.0"/><path d="M177.29999999999998 625.4 l-1.0 1.8 M184.9 625.4 l1.0 1.8" stroke="#a0a0a0" stroke-width="0.8"/><path transform="translate(181.1 603.4)" d="M-0.5 0 L0.5 0 C1.2 0.6 2.2 2.6 2.7 4 C3.2 5.2 3.7 6 3.8 7.5 L4.1 20.5 C4.2 22.5 3.6 23.6 0 23.8 C-3.6 23.6 -4.2 22.5 -4.1 20.5 L-3.8 7.5 C-3.7 6 -3.2 5.2 -2.7 4 C-2.2 2.6 -1.2 0.6 -0.5 0 Z" fill="url(#gM)"/><path d="M190.74 626.4 L191.04000000000002 637.52" stroke="#a8a8a8" stroke-width="1.0"/><path d="M186.94 625.4 l-1.0 1.8 M194.54000000000002 625.4 l1.0 1.8" stroke="#a0a0a0" stroke-width="0.8"/><path transform="translate(190.74 603.4)" d="M-0.5 0 L0.5 0 C1.2 0.6 2.2 2.6 2.7 4 C3.2 5.2 3.7 6 3.8 7.5 L4.1 20.5 C4.2 22.5 3.6 23.6 0 23.8 C-3.6 23.6 -4.2 22.5 -4.1 20.5 L-3.8 7.5 C-3.7 6 -3.2 5.2 -2.7 4 C-2.2 2.6 -1.2 0.6 -0.5 0 Z" fill="url(#gM)"/><path d="M200.38 626.4 L200.68 637.52" stroke="#a8a8a8" stroke-width="1.0"/><path d="M196.57999999999998 625.4 l-1.0 1.8 M204.18 625.4 l1.0 1.8" stroke="#a0a0a0" stroke-width="0.8"/><path transform="translate(200.38 603.4)" d="M-0.5 0 L0.5 0 C1.2 0.6 2.2 2.6 2.7 4 C3.2 5.2 3.7 6 3.8 7.5 L4.1 20.5 C4.2 22.5 3.6 23.6 0 23.8 C-3.6 23.6 -4.2 22.5 -4.1 20.5 L-3.8 7.5 C-3.7 6 -3.2 5.2 -2.7 4 C-2.2 2.6 -1.2 0.6 -0.5 0 Z" fill="url(#gM)"/></g></g>
<g filter="url(#fb)"><g transform="translate(0 603.0) scale(1 0.93) translate(0 -603.0)"><ellipse cx="161.82" cy="605.1999999999999" rx="1.8" ry="1.7" fill="#5428e6"/><ellipse cx="161.82" cy="605.1999999999999" rx="0.8" ry="0.8" fill="#40d0f0"/><ellipse cx="161.82" cy="615.1999999999999" rx="4.3" ry="4.4" fill="#8a70e8" opacity="0.5"/><ellipse cx="161.82" cy="615.1999999999999" rx="4.1" ry="3.4" fill="#5428e6"/><ellipse cx="171.46" cy="605.0" rx="1.5" ry="1.4" fill="#5428e6"/><ellipse cx="171.46" cy="615.6" rx="4.3" ry="3.8" fill="#8a70e8" opacity="0.5"/><ellipse cx="171.46" cy="615.6" rx="4.0" ry="2.7" fill="#5428e6"/><ellipse cx="181.1" cy="605.1999999999999" rx="1.8" ry="1.7" fill="#5428e6"/><ellipse cx="181.1" cy="605.1999999999999" rx="0.8" ry="0.8" fill="#40d0f0"/><ellipse cx="181.1" cy="613.4" rx="4.3" ry="6.5" fill="#8a70e8" opacity="0.55"/><path d="M177.2 609.9 Q181.1 606.6 185.0 609.9 L185.2 616.9 Q181.1 620.9 177.0 616.9 Z" fill="#5428e6"/><ellipse cx="190.74" cy="605.0" rx="1.5" ry="1.4" fill="#5428e6"/><ellipse cx="190.74" cy="615.6" rx="2.6" ry="1.8" fill="#6636e0"/><ellipse cx="200.38" cy="605.0" rx="1.5" ry="1.4" fill="#5428e6"/></g></g>
<rect x="211.0" y="603.0" width="47.8" height="32.5" fill="#242424"/>
<g filter="url(#ftx)"><g transform="translate(0 603.0) scale(1 0.93) translate(0 -603.0)"><path d="M215.72 626.4 L216.02 637.52" stroke="#a8a8a8" stroke-width="1.0"/><path d="M211.92 625.4 l-1.0 1.8 M219.52 625.4 l1.0 1.8" stroke="#a0a0a0" stroke-width="0.8"/><path transform="translate(215.72 603.4)" d="M-0.5 0 L0.5 0 C1.2 0.6 2.2 2.6 2.7 4 C3.2 5.2 3.7 6 3.8 7.5 L4.1 20.5 C4.2 22.5 3.6 23.6 0 23.8 C-3.6 23.6 -4.2 22.5 -4.1 20.5 L-3.8 7.5 C-3.7 6 -3.2 5.2 -2.7 4 C-2.2 2.6 -1.2 0.6 -0.5 0 Z" fill="url(#gM)"/><path d="M225.16 626.4 L225.46 637.52" stroke="#a8a8a8" stroke-width="1.0"/><path d="M221.35999999999999 625.4 l-1.0 1.8 M228.96 625.4 l1.0 1.8" stroke="#a0a0a0" stroke-width="0.8"/><path transform="translate(225.16 603.4)" d="M-0.5 0 L0.5 0 C1.2 0.6 2.2 2.6 2.7 4 C3.2 5.2 3.7 6 3.8 7.5 L4.1 20.5 C4.2 22.5 3.6 23.6 0 23.8 C-3.6 23.6 -4.2 22.5 -4.1 20.5 L-3.8 7.5 C-3.7 6 -3.2 5.2 -2.7 4 C-2.2 2.6 -1.2 0.6 -0.5 0 Z" fill="url(#gM)"/><path d="M234.6 626.4 L234.9 637.52" stroke="#a8a8a8" stroke-width="1.0"/><path d="M230.79999999999998 625.4 l-1.0 1.8 M238.4 625.4 l1.0 1.8" stroke="#a0a0a0" stroke-width="0.8"/><path transform="translate(234.6 603.4)" d="M-0.5 0 L0.5 0 C1.2 0.6 2.2 2.6 2.7 4 C3.2 5.2 3.7 6 3.8 7.5 L4.1 20.5 C4.2 22.5 3.6 23.6 0 23.8 C-3.6 23.6 -4.2 22.5 -4.1 20.5 L-3.8 7.5 C-3.7 6 -3.2 5.2 -2.7 4 C-2.2 2.6 -1.2 0.6 -0.5 0 Z" fill="url(#gM)"/><path d="M244.05 626.4 L244.35000000000002 637.52" stroke="#a8a8a8" stroke-width="1.0"/><path d="M240.25 625.4 l-1.0 1.8 M247.85000000000002 625.4 l1.0 1.8" stroke="#a0a0a0" stroke-width="0.8"/><path transform="translate(244.05 603.4)" d="M-0.5 0 L0.5 0 C1.2 0.6 2.2 2.6 2.7 4 C3.2 5.2 3.7 6 3.8 7.5 L4.1 20.5 C4.2 22.5 3.6 23.6 0 23.8 C-3.6 23.6 -4.2 22.5 -4.1 20.5 L-3.8 7.5 C-3.7 6 -3.2 5.2 -2.7 4 C-2.2 2.6 -1.2 0.6 -0.5 0 Z" fill="url(#gM)"/><path d="M253.49 626.4 L253.79000000000002 637.52" stroke="#a8a8a8" stroke-width="1.0"/><path d="M249.69 625.4 l-1.0 1.8 M257.29 625.4 l1.0 1.8" stroke="#a0a0a0" stroke-width="0.8"/><path transform="translate(253.49 603.4)" d="M-0.5 0 L0.5 0 C1.2 0.6 2.2 2.6 2.7 4 C3.2 5.2 3.7 6 3.8 7.5 L4.1 20.5 C4.2 22.5 3.6 23.6 0 23.8 C-3.6 23.6 -4.2 22.5 -4.1 20.5 L-3.8 7.5 C-3.7 6 -3.2 5.2 -2.7 4 C-2.2 2.6 -1.2 0.6 -0.5 0 Z" fill="url(#gM)"/></g></g>
<g filter="url(#fb)"><g transform="translate(0 603.0) scale(1 0.93) translate(0 -603.0)"><ellipse cx="215.72" cy="605.0" rx="1.5" ry="1.4" fill="#5428e6"/><ellipse cx="215.72" cy="615.6" rx="2.6" ry="1.8" fill="#6636e0"/><ellipse cx="225.16" cy="605.1999999999999" rx="1.8" ry="1.7" fill="#5428e6"/><ellipse cx="225.16" cy="605.1999999999999" rx="0.8" ry="0.8" fill="#40d0f0"/><ellipse cx="234.6" cy="605.0" rx="1.5" ry="1.4" fill="#5428e6"/><ellipse cx="244.05" cy="605.1999999999999" rx="1.8" ry="1.7" fill="#5428e6"/><ellipse cx="244.05" cy="605.1999999999999" rx="0.8" ry="0.8" fill="#40d0f0"/><ellipse cx="244.05" cy="615.1999999999999" rx="4.3" ry="4.4" fill="#8a70e8" opacity="0.5"/><ellipse cx="244.05" cy="615.1999999999999" rx="4.1" ry="3.4" fill="#5428e6"/></g></g>
<rect x="48.0" y="640.0" width="49.2" height="32.5" fill="#242424"/>
<g filter="url(#ftx)"><g transform="translate(0 640.0) scale(1 0.93) translate(0 -640.0)"><path d="M52.86 663.4 L53.16 674.52" stroke="#a8a8a8" stroke-width="1.0"/><path d="M49.06 662.4 l-1.0 1.8 M56.66 662.4 l1.0 1.8" stroke="#a0a0a0" stroke-width="0.8"/><path transform="translate(52.86 640.4)" d="M-0.5 0 L0.5 0 C1.2 0.6 2.2 2.6 2.7 4 C3.2 5.2 3.7 6 3.8 7.5 L4.1 20.5 C4.2 22.5 3.6 23.6 0 23.8 C-3.6 23.6 -4.2 22.5 -4.1 20.5 L-3.8 7.5 C-3.7 6 -3.2 5.2 -2.7 4 C-2.2 2.6 -1.2 0.6 -0.5 0 Z" fill="url(#gM)"/><path d="M62.58 663.4 L62.879999999999995 674.52" stroke="#a8a8a8" stroke-width="1.0"/><path d="M58.78 662.4 l-1.0 1.8 M66.38 662.4 l1.0 1.8" stroke="#a0a0a0" stroke-width="0.8"/><path transform="translate(62.58 640.4)" d="M-0.5 0 L0.5 0 C1.2 0.6 2.2 2.6 2.7 4 C3.2 5.2 3.7 6 3.8 7.5 L4.1 20.5 C4.2 22.5 3.6 23.6 0 23.8 C-3.6 23.6 -4.2 22.5 -4.1 20.5 L-3.8 7.5 C-3.7 6 -3.2 5.2 -2.7 4 C-2.2 2.6 -1.2 0.6 -0.5 0 Z" fill="url(#gM)"/><path d="M72.3 663.4 L72.6 674.52" stroke="#a8a8a8" stroke-width="1.0"/><path d="M68.5 662.4 l-1.0 1.8 M76.1 662.4 l1.0 1.8" stroke="#a0a0a0" stroke-width="0.8"/><path transform="translate(72.3 640.4)" d="M-0.5 0 L0.5 0 C1.2 0.6 2.2 2.6 2.7 4 C3.2 5.2 3.7 6 3.8 7.5 L4.1 20.5 C4.2 22.5 3.6 23.6 0 23.8 C-3.6 23.6 -4.2 22.5 -4.1 20.5 L-3.8 7.5 C-3.7 6 -3.2 5.2 -2.7 4 C-2.2 2.6 -1.2 0.6 -0.5 0 Z" fill="url(#gM)"/><path d="M82.01 663.4 L82.31 674.52" stroke="#a8a8a8" stroke-width="1.0"/><path d="M78.21000000000001 662.4 l-1.0 1.8 M85.81 662.4 l1.0 1.8" stroke="#a0a0a0" stroke-width="0.8"/><path transform="translate(82.01 640.4)" d="M-0.5 0 L0.5 0 C1.2 0.6 2.2 2.6 2.7 4 C3.2 5.2 3.7 6 3.8 7.5 L4.1 20.5 C4.2 22.5 3.6 23.6 0 23.8 C-3.6 23.6 -4.2 22.5 -4.1 20.5 L-3.8 7.5 C-3.7 6 -3.2 5.2 -2.7 4 C-2.2 2.6 -1.2 0.6 -0.5 0 Z" fill="url(#gM)"/><path d="M91.73 663.4 L92.03 674.52" stroke="#a8a8a8" stroke-width="1.0"/><path d="M87.93 662.4 l-1.0 1.8 M95.53 662.4 l1.0 1.8" stroke="#a0a0a0" stroke-width="0.8"/><path transform="translate(91.73 640.4)" d="M-0.5 0 L0.5 0 C1.2 0.6 2.2 2.6 2.7 4 C3.2 5.2 3.7 6 3.8 7.5 L4.1 20.5 C4.2 22.5 3.6 23.6 0 23.8 C-3.6 23.6 -4.2 22.5 -4.1 20.5 L-3.8 7.5 C-3.7 6 -3.2 5.2 -2.7 4 C-2.2 2.6 -1.2 0.6 -0.5 0 Z" fill="url(#gM)"/></g></g>
<g filter="url(#fb)"><g transform="translate(0 640.0) scale(1 0.93) translate(0 -640.0)"><ellipse cx="52.86" cy="642.0" rx="1.5" ry="1.4" fill="#5428e6"/><ellipse cx="91.73" cy="652.6" rx="2.6" ry="1.8" fill="#6636e0"/></g></g>
<rect x="102.6" y="640.0" width="49.2" height="32.5" fill="#242424"/>
<g filter="url(#ftx)"><g transform="translate(0 640.0) scale(1 0.93) translate(0 -640.0)"><path d="M107.46 663.4 L107.75999999999999 674.52" stroke="#a8a8a8" stroke-width="1.0"/><path d="M103.66 662.4 l-1.0 1.8 M111.25999999999999 662.4 l1.0 1.8" stroke="#a0a0a0" stroke-width="0.8"/><path transform="translate(107.46 640.4)" d="M-0.5 0 L0.5 0 C1.2 0.6 2.2 2.6 2.7 4 C3.2 5.2 3.7 6 3.8 7.5 L4.1 20.5 C4.2 22.5 3.6 23.6 0 23.8 C-3.6 23.6 -4.2 22.5 -4.1 20.5 L-3.8 7.5 C-3.7 6 -3.2 5.2 -2.7 4 C-2.2 2.6 -1.2 0.6 -0.5 0 Z" fill="url(#gM)"/><path d="M117.18 663.4 L117.48 674.52" stroke="#a8a8a8" stroke-width="1.0"/><path d="M113.38000000000001 662.4 l-1.0 1.8 M120.98 662.4 l1.0 1.8" stroke="#a0a0a0" stroke-width="0.8"/><path transform="translate(117.18 640.4)" d="M-0.5 0 L0.5 0 C1.2 0.6 2.2 2.6 2.7 4 C3.2 5.2 3.7 6 3.8 7.5 L4.1 20.5 C4.2 22.5 3.6 23.6 0 23.8 C-3.6 23.6 -4.2 22.5 -4.1 20.5 L-3.8 7.5 C-3.7 6 -3.2 5.2 -2.7 4 C-2.2 2.6 -1.2 0.6 -0.5 0 Z" fill="url(#gM)"/><path d="M126.9 663.4 L127.2 674.52" stroke="#a8a8a8" stroke-width="1.0"/><path d="M123.10000000000001 662.4 l-1.0 1.8 M130.70000000000002 662.4 l1.0 1.8" stroke="#a0a0a0" stroke-width="0.8"/><path transform="translate(126.9 640.4)" d="M-0.5 0 L0.5 0 C1.2 0.6 2.2 2.6 2.7 4 C3.2 5.2 3.7 6 3.8 7.5 L4.1 20.5 C4.2 22.5 3.6 23.6 0 23.8 C-3.6 23.6 -4.2 22.5 -4.1 20.5 L-3.8 7.5 C-3.7 6 -3.2 5.2 -2.7 4 C-2.2 2.6 -1.2 0.6 -0.5 0 Z" fill="url(#gM)"/><path d="M136.61 663.4 L136.91000000000003 674.52" stroke="#a8a8a8" stroke-width="1.0"/><path d="M132.81 662.4 l-1.0 1.8 M140.41000000000003 662.4 l1.0 1.8" stroke="#a0a0a0" stroke-width="0.8"/><path transform="translate(136.61 640.4)" d="M-0.5 0 L0.5 0 C1.2 0.6 2.2 2.6 2.7 4 C3.2 5.2 3.7 6 3.8 7.5 L4.1 20.5 C4.2 22.5 3.6 23.6 0 23.8 C-3.6 23.6 -4.2 22.5 -4.1 20.5 L-3.8 7.5 C-3.7 6 -3.2 5.2 -2.7 4 C-2.2 2.6 -1.2 0.6 -0.5 0 Z" fill="url(#gM)"/><path d="M146.33 663.4 L146.63000000000002 674.52" stroke="#a8a8a8" stroke-width="1.0"/><path d="M142.53 662.4 l-1.0 1.8 M150.13000000000002 662.4 l1.0 1.8" stroke="#a0a0a0" stroke-width="0.8"/><path transform="translate(146.33 640.4)" d="M-0.5 0 L0.5 0 C1.2 0.6 2.2 2.6 2.7 4 C3.2 5.2 3.7 6 3.8 7.5 L4.1 20.5 C4.2 22.5 3.6 23.6 0 23.8 C-3.6 23.6 -4.2 22.5 -4.1 20.5 L-3.8 7.5 C-3.7 6 -3.2 5.2 -2.7 4 C-2.2 2.6 -1.2 0.6 -0.5 0 Z" fill="url(#gM)"/></g></g>
<g filter="url(#fb)"><g transform="translate(0 640.0) scale(1 0.93) translate(0 -640.0)"><ellipse cx="107.46" cy="642.0" rx="1.5" ry="1.4" fill="#5428e6"/><ellipse cx="107.46" cy="652.6" rx="4.3" ry="3.8" fill="#8a70e8" opacity="0.5"/><ellipse cx="107.46" cy="652.6" rx="4.0" ry="2.7" fill="#5428e6"/><path d="M113.68 640.9 L120.68 640.9 L122.08000000000001 647.4 L122.08000000000001 666.4 Q117.18 676.4 112.28 666.4 L112.28 647.4 Z" fill="#4a18e0"/><ellipse cx="117.18" cy="643.6" rx="2.2" ry="2.2" fill="#40d0e0"/><ellipse cx="117.18" cy="643.6" rx="1.5" ry="1.5" fill="#f0d030"/><ellipse cx="117.18" cy="643.6" rx="0.9" ry="0.9" fill="#e02010"/><ellipse cx="117.18" cy="652.9" rx="4.8" ry="5.2" fill="#40c8f0"/><ellipse cx="117.18" cy="652.9" rx="4.6" ry="4.4" fill="#b0f060"/><ellipse cx="117.18" cy="653.0" rx="4.5" ry="3.6" fill="#f0d830"/><ellipse cx="117.18" cy="653.1999999999999" rx="4.4" ry="2.9" fill="#e81a10"/><ellipse cx="126.9" cy="642.1999999999999" rx="1.8" ry="1.7" fill="#5428e6"/><ellipse cx="126.9" cy="642.1999999999999" rx="0.8" ry="0.8" fill="#40d0f0"/><ellipse cx="126.9" cy="652.6" rx="4.3" ry="3.8" fill="#8a70e8" opacity="0.5"/><ellipse cx="126.9" cy="652.6" rx="4.0" ry="2.7" fill="#5428e6"/><ellipse cx="136.61" cy="642.1999999999999" rx="1.8" ry="1.7" fill="#5428e6"/><ellipse cx="136.61" cy="642.1999999999999" rx="0.8" ry="0.8" fill="#40d0f0"/><ellipse cx="136.61" cy="652.6" rx="4.3" ry="3.8" fill="#8a70e8" opacity="0.5"/><ellipse cx="136.61" cy="652.6" rx="4.0" ry="2.7" fill="#5428e6"/><ellipse cx="146.33" cy="652.9" rx="2.8" ry="2.6" fill="#5428e6"/><ellipse cx="146.33" cy="652.9" rx="1.6" ry="1.5" fill="#3aa0f0"/><ellipse cx="146.33" cy="652.9" rx="0.8" ry="0.8" fill="#d0f8ff"/></g></g>
<rect x="157.0" y="640.0" width="48.8" height="32.5" fill="#242424"/>
<g filter="url(#ftx)"><g transform="translate(0 640.0) scale(1 0.93) translate(0 -640.0)"><path d="M161.82 663.4 L162.12 674.52" stroke="#a8a8a8" stroke-width="1.0"/><path d="M158.01999999999998 662.4 l-1.0 1.8 M165.62 662.4 l1.0 1.8" stroke="#a0a0a0" stroke-width="0.8"/><path transform="translate(161.82 640.4)" d="M-0.5 0 L0.5 0 C1.2 0.6 2.2 2.6 2.7 4 C3.2 5.2 3.7 6 3.8 7.5 L4.1 20.5 C4.2 22.5 3.6 23.6 0 23.8 C-3.6 23.6 -4.2 22.5 -4.1 20.5 L-3.8 7.5 C-3.7 6 -3.2 5.2 -2.7 4 C-2.2 2.6 -1.2 0.6 -0.5 0 Z" fill="url(#gM)"/><path d="M171.46 663.4 L171.76000000000002 674.52" stroke="#a8a8a8" stroke-width="1.0"/><path d="M167.66 662.4 l-1.0 1.8 M175.26000000000002 662.4 l1.0 1.8" stroke="#a0a0a0" stroke-width="0.8"/><path transform="translate(171.46 640.4)" d="M-0.5 0 L0.5 0 C1.2 0.6 2.2 2.6 2.7 4 C3.2 5.2 3.7 6 3.8 7.5 L4.1 20.5 C4.2 22.5 3.6 23.6 0 23.8 C-3.6 23.6 -4.2 22.5 -4.1 20.5 L-3.8 7.5 C-3.7 6 -3.2 5.2 -2.7 4 C-2.2 2.6 -1.2 0.6 -0.5 0 Z" fill="url(#gM)"/><path d="M181.1 663.4 L181.4 674.52" stroke="#a8a8a8" stroke-width="1.0"/><path d="M177.29999999999998 662.4 l-1.0 1.8 M184.9 662.4 l1.0 1.8" stroke="#a0a0a0" stroke-width="0.8"/><path transform="translate(181.1 640.4)" d="M-0.5 0 L0.5 0 C1.2 0.6 2.2 2.6 2.7 4 C3.2 5.2 3.7 6 3.8 7.5 L4.1 20.5 C4.2 22.5 3.6 23.6 0 23.8 C-3.6 23.6 -4.2 22.5 -4.1 20.5 L-3.8 7.5 C-3.7 6 -3.2 5.2 -2.7 4 C-2.2 2.6 -1.2 0.6 -0.5 0 Z" fill="url(#gM)"/><path d="M190.74 663.4 L191.04000000000002 674.52" stroke="#a8a8a8" stroke-width="1.0"/><path d="M186.94 662.4 l-1.0 1.8 M194.54000000000002 662.4 l1.0 1.8" stroke="#a0a0a0" stroke-width="0.8"/><path transform="translate(190.74 640.4)" d="M-0.5 0 L0.5 0 C1.2 0.6 2.2 2.6 2.7 4 C3.2 5.2 3.7 6 3.8 7.5 L4.1 20.5 C4.2 22.5 3.6 23.6 0 23.8 C-3.6 23.6 -4.2 22.5 -4.1 20.5 L-3.8 7.5 C-3.7 6 -3.2 5.2 -2.7 4 C-2.2 2.6 -1.2 0.6 -0.5 0 Z" fill="url(#gM)"/><path d="M200.38 663.4 L200.68 674.52" stroke="#a8a8a8" stroke-width="1.0"/><path d="M196.57999999999998 662.4 l-1.0 1.8 M204.18 662.4 l1.0 1.8" stroke="#a0a0a0" stroke-width="0.8"/><path transform="translate(200.38 640.4)" d="M-0.5 0 L0.5 0 C1.2 0.6 2.2 2.6 2.7 4 C3.2 5.2 3.7 6 3.8 7.5 L4.1 20.5 C4.2 22.5 3.6 23.6 0 23.8 C-3.6 23.6 -4.2 22.5 -4.1 20.5 L-3.8 7.5 C-3.7 6 -3.2 5.2 -2.7 4 C-2.2 2.6 -1.2 0.6 -0.5 0 Z" fill="url(#gM)"/></g></g>
<g filter="url(#fb)"><g transform="translate(0 640.0) scale(1 0.93) translate(0 -640.0)"><ellipse cx="161.82" cy="642.1999999999999" rx="1.8" ry="1.7" fill="#5428e6"/><ellipse cx="161.82" cy="642.1999999999999" rx="0.8" ry="0.8" fill="#40d0f0"/><ellipse cx="161.82" cy="652.1999999999999" rx="4.3" ry="4.4" fill="#8a70e8" opacity="0.5"/><ellipse cx="161.82" cy="652.1999999999999" rx="4.1" ry="3.4" fill="#5428e6"/><ellipse cx="161.82" cy="661.4" rx="1.8" ry="1.5" fill="#5428e6"/><ellipse cx="171.46" cy="642.1999999999999" rx="1.8" ry="1.7" fill="#5428e6"/><ellipse cx="171.46" cy="642.1999999999999" rx="0.8" ry="0.8" fill="#40d0f0"/><ellipse cx="171.46" cy="651.4" rx="3.9" ry="3.6" fill="#5428e6"/><ellipse cx="171.46" cy="651.4" rx="2.8" ry="2.4" fill="#30d0a0"/><ellipse cx="171.46" cy="651.4" rx="1.8" ry="1.5" fill="#f0e040"/><ellipse cx="171.46" cy="651.4" rx="1" ry="0.8" fill="#e82010"/><ellipse cx="181.1" cy="642.1999999999999" rx="1.8" ry="1.7" fill="#5428e6"/><ellipse cx="181.1" cy="642.1999999999999" rx="0.8" ry="0.8" fill="#40d0f0"/><ellipse cx="181.1" cy="651.4" rx="3.9" ry="3.4" fill="#5428e6"/><ellipse cx="181.1" cy="651.4" rx="2.6" ry="2.2" fill="#40d090"/><ellipse cx="181.1" cy="651.4" rx="1.4" ry="1.2" fill="#e8f040"/><ellipse cx="190.74" cy="642.0" rx="1.5" ry="1.4" fill="#5428e6"/><ellipse cx="190.74" cy="652.1999999999999" rx="4.3" ry="4.4" fill="#8a70e8" opacity="0.5"/><ellipse cx="190.74" cy="652.1999999999999" rx="4.1" ry="3.4" fill="#5428e6"/><ellipse cx="200.38" cy="642.4" rx="2" ry="2" fill="#5428e6"/><ellipse cx="200.38" cy="642.4" rx="1.1" ry="1.1" fill="#30b0f0"/><ellipse cx="200.38" cy="642.4" rx="0.5" ry="0.5" fill="#f0f040"/><ellipse cx="200.38" cy="652.1999999999999" rx="4.3" ry="4.4" fill="#8a70e8" opacity="0.5"/><ellipse cx="200.38" cy="652.1999999999999" rx="4.1" ry="3.4" fill="#5428e6"/></g></g>
<rect x="211.0" y="640.0" width="47.8" height="32.5" fill="#242424"/>
<g filter="url(#ftx)"><g transform="translate(0 640.0) scale(1 0.93) translate(0 -640.0)"><path d="M215.72 663.4 L216.02 674.52" stroke="#a8a8a8" stroke-width="1.0"/><path d="M211.92 662.4 l-1.0 1.8 M219.52 662.4 l1.0 1.8" stroke="#a0a0a0" stroke-width="0.8"/><path transform="translate(215.72 640.4)" d="M-0.5 0 L0.5 0 C1.2 0.6 2.2 2.6 2.7 4 C3.2 5.2 3.7 6 3.8 7.5 L4.1 20.5 C4.2 22.5 3.6 23.6 0 23.8 C-3.6 23.6 -4.2 22.5 -4.1 20.5 L-3.8 7.5 C-3.7 6 -3.2 5.2 -2.7 4 C-2.2 2.6 -1.2 0.6 -0.5 0 Z" fill="url(#gM)"/><path d="M225.16 663.4 L225.46 674.52" stroke="#a8a8a8" stroke-width="1.0"/><path d="M221.35999999999999 662.4 l-1.0 1.8 M228.96 662.4 l1.0 1.8" stroke="#a0a0a0" stroke-width="0.8"/><path transform="translate(225.16 640.4)" d="M-0.5 0 L0.5 0 C1.2 0.6 2.2 2.6 2.7 4 C3.2 5.2 3.7 6 3.8 7.5 L4.1 20.5 C4.2 22.5 3.6 23.6 0 23.8 C-3.6 23.6 -4.2 22.5 -4.1 20.5 L-3.8 7.5 C-3.7 6 -3.2 5.2 -2.7 4 C-2.2 2.6 -1.2 0.6 -0.5 0 Z" fill="url(#gM)"/><path d="M234.6 663.4 L234.9 674.52" stroke="#a8a8a8" stroke-width="1.0"/><path d="M230.79999999999998 662.4 l-1.0 1.8 M238.4 662.4 l1.0 1.8" stroke="#a0a0a0" stroke-width="0.8"/><path transform="translate(234.6 640.4)" d="M-0.5 0 L0.5 0 C1.2 0.6 2.2 2.6 2.7 4 C3.2 5.2 3.7 6 3.8 7.5 L4.1 20.5 C4.2 22.5 3.6 23.6 0 23.8 C-3.6 23.6 -4.2 22.5 -4.1 20.5 L-3.8 7.5 C-3.7 6 -3.2 5.2 -2.7 4 C-2.2 2.6 -1.2 0.6 -0.5 0 Z" fill="url(#gM)"/><path d="M244.05 663.4 L244.35000000000002 674.52" stroke="#a8a8a8" stroke-width="1.0"/><path d="M240.25 662.4 l-1.0 1.8 M247.85000000000002 662.4 l1.0 1.8" stroke="#a0a0a0" stroke-width="0.8"/><path transform="translate(244.05 640.4)" d="M-0.5 0 L0.5 0 C1.2 0.6 2.2 2.6 2.7 4 C3.2 5.2 3.7 6 3.8 7.5 L4.1 20.5 C4.2 22.5 3.6 23.6 0 23.8 C-3.6 23.6 -4.2 22.5 -4.1 20.5 L-3.8 7.5 C-3.7 6 -3.2 5.2 -2.7 4 C-2.2 2.6 -1.2 0.6 -0.5 0 Z" fill="url(#gM)"/><path d="M253.49 663.4 L253.79000000000002 674.52" stroke="#a8a8a8" stroke-width="1.0"/><path d="M249.69 662.4 l-1.0 1.8 M257.29 662.4 l1.0 1.8" stroke="#a0a0a0" stroke-width="0.8"/><path transform="translate(253.49 640.4)" d="M-0.5 0 L0.5 0 C1.2 0.6 2.2 2.6 2.7 4 C3.2 5.2 3.7 6 3.8 7.5 L4.1 20.5 C4.2 22.5 3.6 23.6 0 23.8 C-3.6 23.6 -4.2 22.5 -4.1 20.5 L-3.8 7.5 C-3.7 6 -3.2 5.2 -2.7 4 C-2.2 2.6 -1.2 0.6 -0.5 0 Z" fill="url(#gM)"/></g></g>
<g filter="url(#fb)"><g transform="translate(0 640.0) scale(1 0.93) translate(0 -640.0)"><ellipse cx="215.72" cy="642.4" rx="2" ry="2" fill="#5428e6"/><ellipse cx="215.72" cy="642.4" rx="1.1" ry="1.1" fill="#30b0f0"/><ellipse cx="215.72" cy="642.4" rx="0.5" ry="0.5" fill="#f0f040"/><ellipse cx="215.72" cy="652.6" rx="2.6" ry="1.8" fill="#6636e0"/><ellipse cx="225.16" cy="642.4" rx="2" ry="2" fill="#5428e6"/><ellipse cx="225.16" cy="642.4" rx="1.1" ry="1.1" fill="#30b0f0"/><ellipse cx="225.16" cy="642.4" rx="0.5" ry="0.5" fill="#f0f040"/><ellipse cx="234.6" cy="642.0" rx="1.5" ry="1.4" fill="#5428e6"/><ellipse cx="244.05" cy="642.1999999999999" rx="1.8" ry="1.7" fill="#5428e6"/><ellipse cx="244.05" cy="642.1999999999999" rx="0.8" ry="0.8" fill="#40d0f0"/><ellipse cx="244.05" cy="652.1999999999999" rx="4.3" ry="4.4" fill="#8a70e8" opacity="0.5"/><ellipse cx="244.05" cy="652.1999999999999" rx="4.1" ry="3.4" fill="#5428e6"/></g></g>
<rect x="264.7" y="498.8" width="5.3" height="139.4" fill="url(#gCB)"/>
<path d="M268.6 505.77 H270M268.6 512.74 H270M268.6 519.71 H270M268.6 526.68 H270M268.6 533.65 H270M268.6 540.62 H270M268.6 547.59 H270M268.6 554.56 H270M268.6 561.53 H270M268.6 568.50 H270M268.6 575.47 H270M268.6 582.44 H270M268.6 589.41 H270M268.6 596.38 H270M268.6 603.35 H270M268.6 610.32 H270M268.6 617.29 H270M268.6 624.26 H270M268.6 631.23 H270" stroke="#333" stroke-width="0.5" opacity="0.6"/>
<text x="271.6" y="503.2" font-size="8.2" fill="#222" stroke="#222" stroke-width="0.12" textLength="27" lengthAdjust="spacingAndGlyphs">1.0×10<tspan font-size="6.2" dy="-3.2">7</tspan></text>
<text x="271.5" y="641.9" font-size="8.2" fill="#222" stroke="#222" stroke-width="0.12" textLength="27.7" lengthAdjust="spacingAndGlyphs">1.0×10<tspan font-size="6.2" dy="-3.2">5</tspan></text>
<text transform="translate(281.9 567.7) rotate(-90)" font-size="9" fill="#222" stroke="#222" stroke-width="0.12" text-anchor="middle" textLength="49.4" lengthAdjust="spacingAndGlyphs">Luminescence</text>
<text x="262.9" y="656.9" font-size="8.6" fill="#222" stroke="#222" stroke-width="0.1" text-anchor="start" font-weight="normal" textLength="32.1" lengthAdjust="spacingAndGlyphs" >Radiance</text>
<text x="262.9" y="665.9" font-size="8.6" fill="#222" stroke="#222" stroke-width="0.12" textLength="49.7" lengthAdjust="spacingAndGlyphs">(p/sec/cm<tspan font-size="5.6" dy="-3">2</tspan><tspan dy="3">/sr)</tspan></text>
<path d="M360.2 489.3 V629.4 H501.6" fill="none" stroke="#111" stroke-width="1.2"/>
<path d="M357.4 493.5 H360.2M357.4 520.6 H360.2M357.4 547.7 H360.2M357.4 574.8 H360.2M357.4 601.9 H360.2M360.20 629.4 V632.6M394.80 629.4 V632.6M429.40 629.4 V632.6M464.00 629.4 V632.6M498.60 629.4 V632.6" stroke="#111" stroke-width="1"/>
<text x="354.4" y="496.40" font-size="8.2" fill="#222" stroke="#222" stroke-width="0.12" text-anchor="end">10<tspan font-size="5.6" dy="-3.2">10</tspan></text>
<text x="354.4" y="523.50" font-size="8.2" fill="#222" stroke="#222" stroke-width="0.12" text-anchor="end">10<tspan font-size="5.6" dy="-3.2">9</tspan></text>
<text x="354.4" y="550.60" font-size="8.2" fill="#222" stroke="#222" stroke-width="0.12" text-anchor="end">10<tspan font-size="5.6" dy="-3.2">8</tspan></text>
<text x="354.4" y="577.70" font-size="8.2" fill="#222" stroke="#222" stroke-width="0.12" text-anchor="end">10<tspan font-size="5.6" dy="-3.2">7</tspan></text>
<text x="354.4" y="604.80" font-size="8.2" fill="#222" stroke="#222" stroke-width="0.12" text-anchor="end">10<tspan font-size="5.6" dy="-3.2">6</tspan></text>
<text x="354.4" y="632.00" font-size="8.2" fill="#222" stroke="#222" stroke-width="0.12" text-anchor="end">10<tspan font-size="5.6" dy="-3.2">5</tspan></text>
<text x="360.20" y="642" font-size="8" fill="#222" stroke="#222" stroke-width="0.12" text-anchor="middle">0</text>
<text x="394.80" y="642" font-size="8" fill="#222" stroke="#222" stroke-width="0.12" text-anchor="middle">5</text>
<text x="429.40" y="642" font-size="8" fill="#222" stroke="#222" stroke-width="0.12" text-anchor="middle">10</text>
<text x="464.00" y="642" font-size="8" fill="#222" stroke="#222" stroke-width="0.12" text-anchor="middle">15</text>
<text x="498.60" y="642" font-size="8" fill="#222" stroke="#222" stroke-width="0.12" text-anchor="middle">20</text>
<text transform="translate(335.3 561.2) rotate(-90)" font-size="8.8" fill="#222" stroke="#222" stroke-width="0.12" text-anchor="middle" textLength="76.8" lengthAdjust="spacingAndGlyphs">Total flux (photons/sec)</text>
<text x="359.6" y="654.2" font-size="9.6" fill="#222" stroke="#222" stroke-width="0.1" text-anchor="start" font-weight="normal" textLength="15.8" lengthAdjust="spacingAndGlyphs" >Days</text>
<path d="M380.4 651.2 H497" stroke="#222" stroke-width="1.2"/>
<path d="M496.5 648.6 L502 651.2 L496.5 653.8 Z" fill="#111"/>
<path d="M381.0 552.0 L401.8 563.0 L429.4 593.8 L450.2 553.8 L477.6 532.8" fill="none" stroke="#c4122f" stroke-width="1.3" stroke-linejoin="round"/><circle cx="381.0" cy="552.0" r="1.2" fill="#c4122f"/><circle cx="401.8" cy="563.0" r="1.2" fill="#c4122f"/><circle cx="429.4" cy="593.8" r="1.2" fill="#c4122f"/><circle cx="450.2" cy="553.8" r="1.2" fill="#c4122f"/><circle cx="477.6" cy="532.8" r="1.2" fill="#c4122f"/>
<path d="M381.0 556.0 L401.8 573.0 L429.4 583.0 L450.2 560.0 L477.6 540.0" fill="none" stroke="#c4122f" stroke-width="1.3" stroke-linejoin="round"/><circle cx="381.0" cy="556.0" r="1.2" fill="#c4122f"/><circle cx="401.8" cy="573.0" r="1.2" fill="#c4122f"/><circle cx="429.4" cy="583.0" r="1.2" fill="#c4122f"/><circle cx="450.2" cy="560.0" r="1.2" fill="#c4122f"/><circle cx="477.6" cy="540.0" r="1.2" fill="#c4122f"/>
<path d="M381.0 559.0 L401.8 575.0 L429.4 573.8 L450.2 575.0 L477.6 561.2" fill="none" stroke="#c4122f" stroke-width="1.3" stroke-linejoin="round"/><circle cx="381.0" cy="559.0" r="1.2" fill="#c4122f"/><circle cx="401.8" cy="575.0" r="1.2" fill="#c4122f"/><circle cx="429.4" cy="573.8" r="1.2" fill="#c4122f"/><circle cx="450.2" cy="575.0" r="1.2" fill="#c4122f"/><circle cx="477.6" cy="561.2" r="1.2" fill="#c4122f"/>
<path d="M381.0 554.0 L401.8 566.0 L429.4 578.0 L450.2 565.0 L477.6 541.5" fill="none" stroke="#c4122f" stroke-width="1.3" stroke-linejoin="round"/><circle cx="381.0" cy="554.0" r="1.2" fill="#c4122f"/><circle cx="401.8" cy="566.0" r="1.2" fill="#c4122f"/><circle cx="429.4" cy="578.0" r="1.2" fill="#c4122f"/><circle cx="450.2" cy="565.0" r="1.2" fill="#c4122f"/><circle cx="477.6" cy="541.5" r="1.2" fill="#c4122f"/>
<path d="M381.0 562.0 L401.8 553.0 L429.4 541.5 L450.2 524.0 L477.6 502.0" fill="none" stroke="#f7941d" stroke-width="1.3" stroke-linejoin="round"/><circle cx="381.0" cy="562.0" r="1.2" fill="#f7941d"/><circle cx="401.8" cy="553.0" r="1.2" fill="#f7941d"/><circle cx="429.4" cy="541.5" r="1.2" fill="#f7941d"/><circle cx="450.2" cy="524.0" r="1.2" fill="#f7941d"/><circle cx="477.6" cy="502.0" r="1.2" fill="#f7941d"/>
<path d="M381.0 566.0 L401.8 560.0 L429.4 558.8 L450.2 546.0 L477.6 558.0" fill="none" stroke="#f7941d" stroke-width="1.3" stroke-linejoin="round"/><circle cx="381.0" cy="566.0" r="1.2" fill="#f7941d"/><circle cx="401.8" cy="560.0" r="1.2" fill="#f7941d"/><circle cx="429.4" cy="558.8" r="1.2" fill="#f7941d"/><circle cx="450.2" cy="546.0" r="1.2" fill="#f7941d"/><circle cx="477.6" cy="558.0" r="1.2" fill="#f7941d"/>
<path d="M381.0 569.0 L401.8 577.0 L429.4 563.8 L450.2 556.0 L477.6 552.5" fill="none" stroke="#f7941d" stroke-width="1.3" stroke-linejoin="round"/><circle cx="381.0" cy="569.0" r="1.2" fill="#f7941d"/><circle cx="401.8" cy="577.0" r="1.2" fill="#f7941d"/><circle cx="429.4" cy="563.8" r="1.2" fill="#f7941d"/><circle cx="450.2" cy="556.0" r="1.2" fill="#f7941d"/><circle cx="477.6" cy="552.5" r="1.2" fill="#f7941d"/>
<path d="M381.0 560.0 L401.8 557.0 L429.4 561.0 L450.2 559.0 L477.6 557.5" fill="none" stroke="#f7941d" stroke-width="1.3" stroke-linejoin="round"/><circle cx="381.0" cy="560.0" r="1.2" fill="#f7941d"/><circle cx="401.8" cy="557.0" r="1.2" fill="#f7941d"/><circle cx="429.4" cy="561.0" r="1.2" fill="#f7941d"/><circle cx="450.2" cy="559.0" r="1.2" fill="#f7941d"/><circle cx="477.6" cy="557.5" r="1.2" fill="#f7941d"/>
<path d="M381.0 564.0 L401.8 563.0 L429.4 566.0 L450.2 562.0 L477.6 553.8" fill="none" stroke="#f7941d" stroke-width="1.3" stroke-linejoin="round"/><circle cx="381.0" cy="564.0" r="1.2" fill="#f7941d"/><circle cx="401.8" cy="563.0" r="1.2" fill="#f7941d"/><circle cx="429.4" cy="566.0" r="1.2" fill="#f7941d"/><circle cx="450.2" cy="562.0" r="1.2" fill="#f7941d"/><circle cx="477.6" cy="553.8" r="1.2" fill="#f7941d"/>
<path d="M381.0 560.0 L401.8 559.0 L429.4 562.0 L450.2 556.0 L477.6 548.0" fill="none" stroke="#3cb54a" stroke-width="1.3" stroke-linejoin="round"/><circle cx="381.0" cy="560.0" r="1.2" fill="#3cb54a"/><circle cx="401.8" cy="559.0" r="1.2" fill="#3cb54a"/><circle cx="429.4" cy="562.0" r="1.2" fill="#3cb54a"/><circle cx="450.2" cy="556.0" r="1.2" fill="#3cb54a"/><circle cx="477.6" cy="548.0" r="1.2" fill="#3cb54a"/>
<path d="M381.0 563.0 L401.8 562.0 L429.4 566.0 L450.2 560.0 L477.6 556.0" fill="none" stroke="#3cb54a" stroke-width="1.3" stroke-linejoin="round"/><circle cx="381.0" cy="563.0" r="1.2" fill="#3cb54a"/><circle cx="401.8" cy="562.0" r="1.2" fill="#3cb54a"/><circle cx="429.4" cy="566.0" r="1.2" fill="#3cb54a"/><circle cx="450.2" cy="560.0" r="1.2" fill="#3cb54a"/><circle cx="477.6" cy="556.0" r="1.2" fill="#3cb54a"/>
<path d="M381.0 566.0 L401.8 563.0 L429.4 570.0 L450.2 565.0 L477.6 563.0" fill="none" stroke="#3cb54a" stroke-width="1.3" stroke-linejoin="round"/><circle cx="381.0" cy="566.0" r="1.2" fill="#3cb54a"/><circle cx="401.8" cy="563.0" r="1.2" fill="#3cb54a"/><circle cx="429.4" cy="570.0" r="1.2" fill="#3cb54a"/><circle cx="450.2" cy="565.0" r="1.2" fill="#3cb54a"/><circle cx="477.6" cy="563.0" r="1.2" fill="#3cb54a"/>
<path d="M381.0 558.0 L401.8 565.0 L429.4 578.0 L450.2 580.0 L477.6 582.0" fill="none" stroke="#3cb54a" stroke-width="1.3" stroke-linejoin="round"/><circle cx="381.0" cy="558.0" r="1.2" fill="#3cb54a"/><circle cx="401.8" cy="565.0" r="1.2" fill="#3cb54a"/><circle cx="429.4" cy="578.0" r="1.2" fill="#3cb54a"/><circle cx="450.2" cy="580.0" r="1.2" fill="#3cb54a"/><circle cx="477.6" cy="582.0" r="1.2" fill="#3cb54a"/>
<path d="M381.0 564.0 L401.8 561.0 L429.4 573.0 L450.2 562.0 L477.6 553.0" fill="none" stroke="#3cb54a" stroke-width="1.3" stroke-linejoin="round"/><circle cx="381.0" cy="564.0" r="1.2" fill="#3cb54a"/><circle cx="401.8" cy="561.0" r="1.2" fill="#3cb54a"/><circle cx="429.4" cy="573.0" r="1.2" fill="#3cb54a"/><circle cx="450.2" cy="562.0" r="1.2" fill="#3cb54a"/><circle cx="477.6" cy="553.0" r="1.2" fill="#3cb54a"/>
<path d="M381.0 553.0 L401.8 551.0 L429.4 576.0 L450.2 585.0 L477.6 577.5" fill="none" stroke="#1d5b98" stroke-width="1.3" stroke-linejoin="round"/><circle cx="381.0" cy="553.0" r="1.2" fill="#1d5b98"/><circle cx="401.8" cy="551.0" r="1.2" fill="#1d5b98"/><circle cx="429.4" cy="576.0" r="1.2" fill="#1d5b98"/><circle cx="450.2" cy="585.0" r="1.2" fill="#1d5b98"/><circle cx="477.6" cy="577.5" r="1.2" fill="#1d5b98"/>
<path d="M381.0 555.0 L401.8 556.0 L429.4 586.0 L450.2 582.0 L477.6 588.8" fill="none" stroke="#1d5b98" stroke-width="1.3" stroke-linejoin="round"/><circle cx="381.0" cy="555.0" r="1.2" fill="#1d5b98"/><circle cx="401.8" cy="556.0" r="1.2" fill="#1d5b98"/><circle cx="429.4" cy="586.0" r="1.2" fill="#1d5b98"/><circle cx="450.2" cy="582.0" r="1.2" fill="#1d5b98"/><circle cx="477.6" cy="588.8" r="1.2" fill="#1d5b98"/>
<path d="M381.0 558.0 L401.8 558.0 L429.4 579.0 L450.2 588.0 L477.6 597.0" fill="none" stroke="#1d5b98" stroke-width="1.3" stroke-linejoin="round"/><circle cx="381.0" cy="558.0" r="1.2" fill="#1d5b98"/><circle cx="401.8" cy="558.0" r="1.2" fill="#1d5b98"/><circle cx="429.4" cy="579.0" r="1.2" fill="#1d5b98"/><circle cx="450.2" cy="588.0" r="1.2" fill="#1d5b98"/><circle cx="477.6" cy="597.0" r="1.2" fill="#1d5b98"/>
<path d="M381.0 556.0 L401.8 552.0 L429.4 583.0 L450.2 586.0 L477.6 599.0" fill="none" stroke="#1d5b98" stroke-width="1.3" stroke-linejoin="round"/><circle cx="381.0" cy="556.0" r="1.2" fill="#1d5b98"/><circle cx="401.8" cy="552.0" r="1.2" fill="#1d5b98"/><circle cx="429.4" cy="583.0" r="1.2" fill="#1d5b98"/><circle cx="450.2" cy="586.0" r="1.2" fill="#1d5b98"/><circle cx="477.6" cy="599.0" r="1.2" fill="#1d5b98"/>
<path d="M381.0 559.0 L401.8 560.0 L429.4 586.0 L450.2 586.0 L477.6 605.0" fill="none" stroke="#1d5b98" stroke-width="1.3" stroke-linejoin="round"/><circle cx="381.0" cy="559.0" r="1.2" fill="#1d5b98"/><circle cx="401.8" cy="560.0" r="1.2" fill="#1d5b98"/><circle cx="429.4" cy="586.0" r="1.2" fill="#1d5b98"/><circle cx="450.2" cy="586.0" r="1.2" fill="#1d5b98"/><circle cx="477.6" cy="605.0" r="1.2" fill="#1d5b98"/>
<path d="M337.5 666.5 H346.5" stroke="#1d5b98" stroke-width="1.5"/>
<text x="351" y="669.5" font-size="8.6" fill="#222" stroke="#222" stroke-width="0.1" text-anchor="start" font-weight="normal" textLength="68.6" lengthAdjust="spacingAndGlyphs" >CD19.28ζ/CD22.BBζ</text>
<path d="M337.5 677.3 H346.5" stroke="#f7941d" stroke-width="1.5"/>
<text x="351" y="680.3" font-size="8.6" fill="#222" stroke="#222" stroke-width="0.1" text-anchor="start" font-weight="normal" textLength="68.6" lengthAdjust="spacingAndGlyphs" >CD19.BBζ/CD22.28ζ</text>
<path d="M429.6 666.5 H437.6" stroke="#3cb54a" stroke-width="1.5"/>
<text x="441" y="669.5" font-size="8.6" fill="#222" stroke="#222" stroke-width="0.1" text-anchor="start" font-weight="normal" textLength="68.6" lengthAdjust="spacingAndGlyphs" >CD19.BBζ/CD22.BBζ</text>
<path d="M429.6 677.3 H437.6" stroke="#c4122f" stroke-width="1.5"/>
<text x="441" y="680.3" font-size="8.6" fill="#222" stroke="#222" stroke-width="0.1" text-anchor="start" font-weight="normal" textLength="68.6" lengthAdjust="spacingAndGlyphs" >CD19.28ζ/CD22.28ζ</text>
</svg></body></html>
